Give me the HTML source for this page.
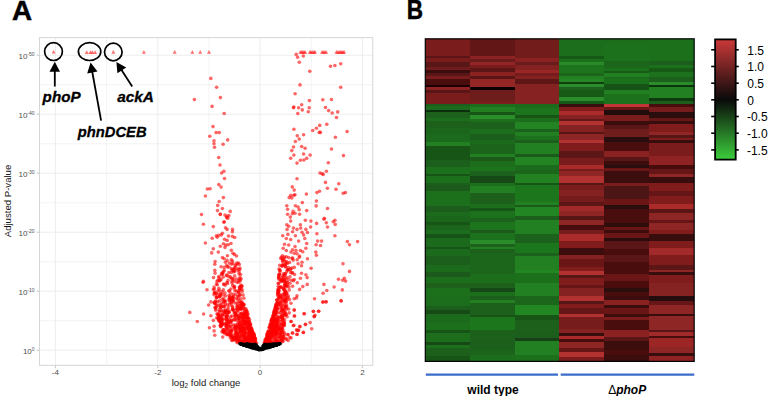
<!DOCTYPE html><html><head><meta charset="utf-8"><style>html,body{margin:0;padding:0;background:#fff;}body{width:768px;height:396px;overflow:hidden;position:relative;font-family:"Liberation Sans",sans-serif;}</style></head><body><svg width="768" height="396" viewBox="0 0 768 396" style="position:absolute;left:0;top:0">
<defs><linearGradient id="lg" x1="0" y1="0" x2="0" y2="1"><stop offset="0" stop-color="#cc3838"/><stop offset="0.5" stop-color="#0a0a0a"/><stop offset="1" stop-color="#3ccf3c"/></linearGradient><filter id="hb" x="-0.05" y="-0.05" width="1.1" height="1.1"><feGaussianBlur stdDeviation="0.45"/></filter><clipPath id="hc"><rect x="425.3" y="39" width="268.9" height="322.6"/></clipPath><clipPath id="pc"><rect x="39.5" y="37.5" width="333.3" height="327.5"/></clipPath></defs>
<line x1="106.6" y1="37.5" x2="106.6" y2="364.5" stroke="#ededed" stroke-width="0.6"/>
<line x1="208.9" y1="37.5" x2="208.9" y2="364.5" stroke="#ededed" stroke-width="0.6"/>
<line x1="311.3" y1="37.5" x2="311.3" y2="364.5" stroke="#ededed" stroke-width="0.6"/>
<line x1="39.5" y1="320.7" x2="372.8" y2="320.7" stroke="#ededed" stroke-width="0.6"/>
<line x1="39.5" y1="261.7" x2="372.8" y2="261.7" stroke="#ededed" stroke-width="0.6"/>
<line x1="39.5" y1="202.7" x2="372.8" y2="202.7" stroke="#ededed" stroke-width="0.6"/>
<line x1="39.5" y1="143.7" x2="372.8" y2="143.7" stroke="#ededed" stroke-width="0.6"/>
<line x1="39.5" y1="84.7" x2="372.8" y2="84.7" stroke="#ededed" stroke-width="0.6"/>
<line x1="55.4" y1="37.5" x2="55.4" y2="364.5" stroke="#ededed" stroke-width="1"/>
<line x1="157.8" y1="37.5" x2="157.8" y2="364.5" stroke="#ededed" stroke-width="1"/>
<line x1="260.1" y1="37.5" x2="260.1" y2="364.5" stroke="#ededed" stroke-width="1"/>
<line x1="362.4" y1="37.5" x2="362.4" y2="364.5" stroke="#ededed" stroke-width="1"/>
<line x1="39.5" y1="350.2" x2="372.8" y2="350.2" stroke="#ededed" stroke-width="1"/>
<line x1="39.5" y1="291.2" x2="372.8" y2="291.2" stroke="#ededed" stroke-width="1"/>
<line x1="39.5" y1="232.2" x2="372.8" y2="232.2" stroke="#ededed" stroke-width="1"/>
<line x1="39.5" y1="173.2" x2="372.8" y2="173.2" stroke="#ededed" stroke-width="1"/>
<line x1="39.5" y1="114.2" x2="372.8" y2="114.2" stroke="#ededed" stroke-width="1"/>
<line x1="39.5" y1="55.2" x2="372.8" y2="55.2" stroke="#ededed" stroke-width="1"/>
<rect x="39.5" y="37.6" width="333.3" height="327.7" fill="none" stroke="#d6d6d6" stroke-width="1"/>
<line x1="55.4" y1="365.3" x2="55.4" y2="368.2" stroke="#c8c8c8" stroke-width="1"/>
<line x1="157.8" y1="365.3" x2="157.8" y2="368.2" stroke="#c8c8c8" stroke-width="1"/>
<line x1="260.1" y1="365.3" x2="260.1" y2="368.2" stroke="#c8c8c8" stroke-width="1"/>
<line x1="362.4" y1="365.3" x2="362.4" y2="368.2" stroke="#c8c8c8" stroke-width="1"/>
<line x1="36.5" y1="350.2" x2="39.5" y2="350.2" stroke="#c8c8c8" stroke-width="1"/>
<line x1="36.5" y1="291.2" x2="39.5" y2="291.2" stroke="#c8c8c8" stroke-width="1"/>
<line x1="36.5" y1="232.2" x2="39.5" y2="232.2" stroke="#c8c8c8" stroke-width="1"/>
<line x1="36.5" y1="173.2" x2="39.5" y2="173.2" stroke="#c8c8c8" stroke-width="1"/>
<line x1="36.5" y1="114.2" x2="39.5" y2="114.2" stroke="#c8c8c8" stroke-width="1"/>
<line x1="36.5" y1="55.2" x2="39.5" y2="55.2" stroke="#c8c8c8" stroke-width="1"/>
<text x="55.4" y="374.6" font-size="8" fill="#4d4d4d" text-anchor="middle" style="font-family:&quot;Liberation Sans&quot;,sans-serif">-4</text>
<text x="157.8" y="374.6" font-size="8" fill="#4d4d4d" text-anchor="middle" style="font-family:&quot;Liberation Sans&quot;,sans-serif">-2</text>
<text x="260.1" y="374.6" font-size="8" fill="#4d4d4d" text-anchor="middle" style="font-family:&quot;Liberation Sans&quot;,sans-serif">0</text>
<text x="362.4" y="374.6" font-size="8" fill="#4d4d4d" text-anchor="middle" style="font-family:&quot;Liberation Sans&quot;,sans-serif">2</text>
<text x="34.6" y="354.0" font-size="8" fill="#4d4d4d" text-anchor="end" style="font-family:&quot;Liberation Sans&quot;,sans-serif">10<tspan font-size="5" dy="-3.3">0</tspan></text>
<text x="34.6" y="295.0" font-size="8" fill="#4d4d4d" text-anchor="end" style="font-family:&quot;Liberation Sans&quot;,sans-serif">10<tspan font-size="5" dy="-3.3">-10</tspan></text>
<text x="34.6" y="236.0" font-size="8" fill="#4d4d4d" text-anchor="end" style="font-family:&quot;Liberation Sans&quot;,sans-serif">10<tspan font-size="5" dy="-3.3">-20</tspan></text>
<text x="34.6" y="177.0" font-size="8" fill="#4d4d4d" text-anchor="end" style="font-family:&quot;Liberation Sans&quot;,sans-serif">10<tspan font-size="5" dy="-3.3">-30</tspan></text>
<text x="34.6" y="118.0" font-size="8" fill="#4d4d4d" text-anchor="end" style="font-family:&quot;Liberation Sans&quot;,sans-serif">10<tspan font-size="5" dy="-3.3">-40</tspan></text>
<text x="34.6" y="59.0" font-size="8" fill="#4d4d4d" text-anchor="end" style="font-family:&quot;Liberation Sans&quot;,sans-serif">10<tspan font-size="5" dy="-3.3">-50</tspan></text>
<text transform="translate(10.8,201) rotate(-90)" font-size="9.6" fill="#1a1a1a" text-anchor="middle" style="font-family:&quot;Liberation Sans&quot;,sans-serif">Adjusted P-value</text>
<text x="171.7" y="385.8" font-size="9.6" fill="#1a1a1a" style="font-family:&quot;Liberation Sans&quot;,sans-serif">log<tspan font-size="6.5" dy="2.2">2</tspan><tspan dy="-2.2"> fold change</tspan></text>
<g clip-path="url(#pc)">
<circle cx="296.2" cy="54.4" r="1.8" fill="#ff0000" fill-opacity="0.6"/>
<circle cx="297.6" cy="57.2" r="1.8" fill="#ff0000" fill-opacity="0.6"/>
<circle cx="303.3" cy="56.0" r="1.8" fill="#ff0000" fill-opacity="0.6"/>
<circle cx="299.3" cy="62.2" r="1.8" fill="#ff0000" fill-opacity="0.6"/>
<circle cx="330.5" cy="66.3" r="1.8" fill="#ff0000" fill-opacity="0.6"/>
<circle cx="334.9" cy="65.5" r="1.8" fill="#ff0000" fill-opacity="0.6"/>
<circle cx="340.7" cy="63.8" r="1.8" fill="#ff0000" fill-opacity="0.6"/>
<circle cx="309.8" cy="71.3" r="1.8" fill="#ff0000" fill-opacity="0.6"/>
<circle cx="300.0" cy="84.9" r="1.8" fill="#ff0000" fill-opacity="0.6"/>
<circle cx="340.7" cy="87.3" r="1.8" fill="#ff0000" fill-opacity="0.6"/>
<circle cx="295.1" cy="93.7" r="1.8" fill="#ff0000" fill-opacity="0.6"/>
<circle cx="309.4" cy="100.6" r="1.8" fill="#ff0000" fill-opacity="0.6"/>
<circle cx="322.8" cy="99.8" r="1.8" fill="#ff0000" fill-opacity="0.6"/>
<circle cx="331.5" cy="99.5" r="1.8" fill="#ff0000" fill-opacity="0.6"/>
<circle cx="293.9" cy="107.0" r="1.8" fill="#ff0000" fill-opacity="0.6"/>
<circle cx="293.4" cy="107.8" r="1.8" fill="#ff0000" fill-opacity="0.6"/>
<circle cx="298.6" cy="107.8" r="1.8" fill="#ff0000" fill-opacity="0.6"/>
<circle cx="301.7" cy="104.7" r="1.8" fill="#ff0000" fill-opacity="0.6"/>
<circle cx="302.3" cy="109.9" r="1.8" fill="#ff0000" fill-opacity="0.6"/>
<circle cx="309.2" cy="107.8" r="1.8" fill="#ff0000" fill-opacity="0.6"/>
<circle cx="308.3" cy="111.7" r="1.8" fill="#ff0000" fill-opacity="0.6"/>
<circle cx="297.8" cy="113.6" r="1.8" fill="#ff0000" fill-opacity="0.6"/>
<circle cx="325.5" cy="107.5" r="1.8" fill="#ff0000" fill-opacity="0.6"/>
<circle cx="328.6" cy="110.6" r="1.8" fill="#ff0000" fill-opacity="0.6"/>
<circle cx="332.2" cy="113.0" r="1.8" fill="#ff0000" fill-opacity="0.6"/>
<circle cx="337.7" cy="111.9" r="1.8" fill="#ff0000" fill-opacity="0.6"/>
<circle cx="336.5" cy="117.5" r="1.8" fill="#ff0000" fill-opacity="0.6"/>
<circle cx="326.8" cy="124.3" r="1.8" fill="#ff0000" fill-opacity="0.6"/>
<circle cx="319.7" cy="125.4" r="1.8" fill="#ff0000" fill-opacity="0.6"/>
<circle cx="316.4" cy="128.2" r="1.8" fill="#ff0000" fill-opacity="0.6"/>
<circle cx="312.7" cy="130.5" r="1.8" fill="#ff0000" fill-opacity="0.6"/>
<circle cx="319.2" cy="132.4" r="1.8" fill="#ff0000" fill-opacity="0.6"/>
<circle cx="320.5" cy="132.4" r="1.8" fill="#ff0000" fill-opacity="0.6"/>
<circle cx="293.9" cy="129.3" r="1.8" fill="#ff0000" fill-opacity="0.6"/>
<circle cx="347.1" cy="131.6" r="1.8" fill="#ff0000" fill-opacity="0.6"/>
<circle cx="303.6" cy="134.8" r="1.8" fill="#ff0000" fill-opacity="0.6"/>
<circle cx="297.3" cy="135.7" r="1.8" fill="#ff0000" fill-opacity="0.6"/>
<circle cx="299.2" cy="139.1" r="1.8" fill="#ff0000" fill-opacity="0.6"/>
<circle cx="295.4" cy="141.5" r="1.8" fill="#ff0000" fill-opacity="0.6"/>
<circle cx="335.4" cy="137.3" r="1.8" fill="#ff0000" fill-opacity="0.6"/>
<circle cx="293.5" cy="147.0" r="1.8" fill="#ff0000" fill-opacity="0.6"/>
<circle cx="301.7" cy="146.5" r="1.8" fill="#ff0000" fill-opacity="0.6"/>
<circle cx="305.1" cy="148.2" r="1.8" fill="#ff0000" fill-opacity="0.6"/>
<circle cx="291.8" cy="150.6" r="1.8" fill="#ff0000" fill-opacity="0.6"/>
<circle cx="331.5" cy="149.0" r="1.8" fill="#ff0000" fill-opacity="0.6"/>
<circle cx="293.9" cy="155.1" r="1.8" fill="#ff0000" fill-opacity="0.6"/>
<circle cx="303.6" cy="154.0" r="1.8" fill="#ff0000" fill-opacity="0.6"/>
<circle cx="310.1" cy="155.1" r="1.8" fill="#ff0000" fill-opacity="0.6"/>
<circle cx="343.5" cy="155.6" r="1.8" fill="#ff0000" fill-opacity="0.6"/>
<circle cx="290.7" cy="158.2" r="1.8" fill="#ff0000" fill-opacity="0.6"/>
<circle cx="306.7" cy="158.2" r="1.8" fill="#ff0000" fill-opacity="0.6"/>
<circle cx="300.4" cy="160.3" r="1.8" fill="#ff0000" fill-opacity="0.6"/>
<circle cx="303.9" cy="160.0" r="1.8" fill="#ff0000" fill-opacity="0.6"/>
<circle cx="297.0" cy="163.1" r="1.8" fill="#ff0000" fill-opacity="0.6"/>
<circle cx="328.3" cy="162.8" r="1.8" fill="#ff0000" fill-opacity="0.6"/>
<circle cx="320.0" cy="173.0" r="1.8" fill="#ff0000" fill-opacity="0.6"/>
<circle cx="322.1" cy="173.8" r="1.8" fill="#ff0000" fill-opacity="0.6"/>
<circle cx="323.2" cy="174.4" r="1.8" fill="#ff0000" fill-opacity="0.6"/>
<circle cx="326.4" cy="171.3" r="1.8" fill="#ff0000" fill-opacity="0.6"/>
<circle cx="297.0" cy="178.8" r="1.8" fill="#ff0000" fill-opacity="0.6"/>
<circle cx="325.5" cy="182.4" r="1.8" fill="#ff0000" fill-opacity="0.6"/>
<circle cx="338.8" cy="183.8" r="1.8" fill="#ff0000" fill-opacity="0.6"/>
<circle cx="292.3" cy="186.9" r="1.8" fill="#ff0000" fill-opacity="0.6"/>
<circle cx="294.2" cy="190.1" r="1.8" fill="#ff0000" fill-opacity="0.6"/>
<circle cx="327.4" cy="188.2" r="1.8" fill="#ff0000" fill-opacity="0.6"/>
<circle cx="336.0" cy="189.3" r="1.8" fill="#ff0000" fill-opacity="0.6"/>
<circle cx="316.9" cy="192.6" r="1.8" fill="#ff0000" fill-opacity="0.6"/>
<circle cx="319.5" cy="191.3" r="1.8" fill="#ff0000" fill-opacity="0.6"/>
<circle cx="343.2" cy="193.3" r="1.8" fill="#ff0000" fill-opacity="0.6"/>
<circle cx="345.4" cy="192.6" r="1.8" fill="#ff0000" fill-opacity="0.6"/>
<circle cx="306.4" cy="194.1" r="1.8" fill="#ff0000" fill-opacity="0.6"/>
<circle cx="290.7" cy="195.2" r="1.8" fill="#ff0000" fill-opacity="0.6"/>
<circle cx="293.9" cy="195.2" r="1.8" fill="#ff0000" fill-opacity="0.6"/>
<circle cx="289.2" cy="197.6" r="1.8" fill="#ff0000" fill-opacity="0.6"/>
<circle cx="291.8" cy="197.9" r="1.8" fill="#ff0000" fill-opacity="0.6"/>
<circle cx="295.0" cy="194.8" r="1.8" fill="#ff0000" fill-opacity="0.6"/>
<circle cx="302.3" cy="202.6" r="1.8" fill="#ff0000" fill-opacity="0.6"/>
<circle cx="316.4" cy="201.0" r="1.8" fill="#ff0000" fill-opacity="0.6"/>
<circle cx="316.1" cy="205.9" r="1.8" fill="#ff0000" fill-opacity="0.6"/>
<circle cx="286.8" cy="205.7" r="1.8" fill="#ff0000" fill-opacity="0.6"/>
<circle cx="295.4" cy="205.7" r="1.8" fill="#ff0000" fill-opacity="0.6"/>
<circle cx="298.1" cy="207.0" r="1.8" fill="#ff0000" fill-opacity="0.6"/>
<circle cx="287.6" cy="209.3" r="1.8" fill="#ff0000" fill-opacity="0.6"/>
<circle cx="299.2" cy="209.8" r="1.8" fill="#ff0000" fill-opacity="0.6"/>
<circle cx="306.7" cy="210.6" r="1.8" fill="#ff0000" fill-opacity="0.6"/>
<circle cx="327.5" cy="208.5" r="1.8" fill="#ff0000" fill-opacity="0.6"/>
<circle cx="293.1" cy="211.4" r="1.8" fill="#ff0000" fill-opacity="0.6"/>
<circle cx="295.0" cy="213.2" r="1.8" fill="#ff0000" fill-opacity="0.6"/>
<circle cx="292.3" cy="213.7" r="1.8" fill="#ff0000" fill-opacity="0.6"/>
<circle cx="287.6" cy="214.3" r="1.8" fill="#ff0000" fill-opacity="0.6"/>
<circle cx="299.6" cy="214.3" r="1.8" fill="#ff0000" fill-opacity="0.6"/>
<circle cx="290.3" cy="217.1" r="1.8" fill="#ff0000" fill-opacity="0.6"/>
<circle cx="290.7" cy="221.1" r="1.8" fill="#ff0000" fill-opacity="0.6"/>
<circle cx="305.4" cy="220.3" r="1.8" fill="#ff0000" fill-opacity="0.6"/>
<circle cx="310.9" cy="221.1" r="1.8" fill="#ff0000" fill-opacity="0.6"/>
<circle cx="324.4" cy="218.2" r="1.8" fill="#ff0000" fill-opacity="0.6"/>
<circle cx="323.9" cy="219.2" r="1.8" fill="#ff0000" fill-opacity="0.6"/>
<circle cx="334.9" cy="220.3" r="1.8" fill="#ff0000" fill-opacity="0.6"/>
<circle cx="333.3" cy="221.8" r="1.8" fill="#ff0000" fill-opacity="0.6"/>
<circle cx="316.6" cy="223.4" r="1.8" fill="#ff0000" fill-opacity="0.6"/>
<circle cx="326.3" cy="222.8" r="1.8" fill="#ff0000" fill-opacity="0.6"/>
<circle cx="327.5" cy="227.0" r="1.8" fill="#ff0000" fill-opacity="0.6"/>
<circle cx="335.2" cy="224.4" r="1.8" fill="#ff0000" fill-opacity="0.6"/>
<circle cx="286.8" cy="224.7" r="1.8" fill="#ff0000" fill-opacity="0.6"/>
<circle cx="288.7" cy="226.3" r="1.8" fill="#ff0000" fill-opacity="0.6"/>
<circle cx="287.1" cy="229.4" r="1.8" fill="#ff0000" fill-opacity="0.6"/>
<circle cx="300.4" cy="224.7" r="1.8" fill="#ff0000" fill-opacity="0.6"/>
<circle cx="293.4" cy="228.1" r="1.8" fill="#ff0000" fill-opacity="0.6"/>
<circle cx="297.0" cy="229.4" r="1.8" fill="#ff0000" fill-opacity="0.6"/>
<circle cx="300.7" cy="228.1" r="1.8" fill="#ff0000" fill-opacity="0.6"/>
<circle cx="305.9" cy="229.4" r="1.8" fill="#ff0000" fill-opacity="0.6"/>
<circle cx="310.6" cy="227.0" r="1.8" fill="#ff0000" fill-opacity="0.6"/>
<circle cx="292.6" cy="231.7" r="1.8" fill="#ff0000" fill-opacity="0.6"/>
<circle cx="302.0" cy="232.2" r="1.8" fill="#ff0000" fill-opacity="0.6"/>
<circle cx="307.5" cy="232.5" r="1.8" fill="#ff0000" fill-opacity="0.6"/>
<circle cx="303.6" cy="234.9" r="1.8" fill="#ff0000" fill-opacity="0.6"/>
<circle cx="282.7" cy="235.7" r="1.8" fill="#ff0000" fill-opacity="0.6"/>
<circle cx="287.9" cy="234.4" r="1.8" fill="#ff0000" fill-opacity="0.6"/>
<circle cx="295.4" cy="235.7" r="1.8" fill="#ff0000" fill-opacity="0.6"/>
<circle cx="316.9" cy="233.8" r="1.8" fill="#ff0000" fill-opacity="0.6"/>
<circle cx="334.9" cy="235.7" r="1.8" fill="#ff0000" fill-opacity="0.6"/>
<circle cx="286.3" cy="238.5" r="1.8" fill="#ff0000" fill-opacity="0.6"/>
<circle cx="290.7" cy="239.6" r="1.8" fill="#ff0000" fill-opacity="0.6"/>
<circle cx="304.8" cy="238.5" r="1.8" fill="#ff0000" fill-opacity="0.6"/>
<circle cx="298.6" cy="241.1" r="1.8" fill="#ff0000" fill-opacity="0.6"/>
<circle cx="317.7" cy="241.1" r="1.8" fill="#ff0000" fill-opacity="0.6"/>
<circle cx="321.6" cy="241.1" r="1.8" fill="#ff0000" fill-opacity="0.6"/>
<circle cx="347.4" cy="241.6" r="1.8" fill="#ff0000" fill-opacity="0.6"/>
<circle cx="357.6" cy="241.6" r="1.8" fill="#ff0000" fill-opacity="0.6"/>
<circle cx="349.5" cy="244.7" r="1.8" fill="#ff0000" fill-opacity="0.6"/>
<circle cx="316.1" cy="244.7" r="1.8" fill="#ff0000" fill-opacity="0.6"/>
<circle cx="320.5" cy="245.5" r="1.8" fill="#ff0000" fill-opacity="0.6"/>
<circle cx="284.5" cy="244.3" r="1.8" fill="#ff0000" fill-opacity="0.6"/>
<circle cx="288.7" cy="245.0" r="1.8" fill="#ff0000" fill-opacity="0.6"/>
<circle cx="306.7" cy="243.5" r="1.8" fill="#ff0000" fill-opacity="0.6"/>
<circle cx="295.0" cy="246.6" r="1.8" fill="#ff0000" fill-opacity="0.6"/>
<circle cx="305.9" cy="248.2" r="1.8" fill="#ff0000" fill-opacity="0.6"/>
<circle cx="283.2" cy="248.2" r="1.8" fill="#ff0000" fill-opacity="0.6"/>
<circle cx="286.3" cy="250.5" r="1.8" fill="#ff0000" fill-opacity="0.6"/>
<circle cx="292.6" cy="249.7" r="1.8" fill="#ff0000" fill-opacity="0.6"/>
<circle cx="296.0" cy="250.5" r="1.8" fill="#ff0000" fill-opacity="0.6"/>
<circle cx="300.4" cy="250.5" r="1.8" fill="#ff0000" fill-opacity="0.6"/>
<circle cx="302.8" cy="251.8" r="1.8" fill="#ff0000" fill-opacity="0.6"/>
<circle cx="291.0" cy="252.1" r="1.8" fill="#ff0000" fill-opacity="0.6"/>
<circle cx="294.2" cy="253.2" r="1.8" fill="#ff0000" fill-opacity="0.6"/>
<circle cx="297.0" cy="253.7" r="1.8" fill="#ff0000" fill-opacity="0.6"/>
<circle cx="315.8" cy="252.1" r="1.8" fill="#ff0000" fill-opacity="0.6"/>
<circle cx="316.4" cy="255.2" r="1.8" fill="#ff0000" fill-opacity="0.6"/>
<circle cx="282.4" cy="255.7" r="1.8" fill="#ff0000" fill-opacity="0.6"/>
<circle cx="286.3" cy="256.8" r="1.8" fill="#ff0000" fill-opacity="0.6"/>
<circle cx="288.7" cy="257.6" r="1.8" fill="#ff0000" fill-opacity="0.6"/>
<circle cx="280.9" cy="258.4" r="1.8" fill="#ff0000" fill-opacity="0.6"/>
<circle cx="292.6" cy="258.0" r="1.8" fill="#ff0000" fill-opacity="0.6"/>
<circle cx="299.3" cy="257.3" r="1.8" fill="#ff0000" fill-opacity="0.6"/>
<circle cx="307.5" cy="258.8" r="1.8" fill="#ff0000" fill-opacity="0.6"/>
<circle cx="284.8" cy="261.0" r="1.8" fill="#ff0000" fill-opacity="0.6"/>
<circle cx="286.0" cy="263.1" r="1.8" fill="#ff0000" fill-opacity="0.6"/>
<circle cx="298.1" cy="263.8" r="1.8" fill="#ff0000" fill-opacity="0.6"/>
<circle cx="302.0" cy="262.3" r="1.8" fill="#ff0000" fill-opacity="0.6"/>
<circle cx="301.5" cy="265.7" r="1.8" fill="#ff0000" fill-opacity="0.6"/>
<circle cx="343.0" cy="263.8" r="1.8" fill="#ff0000" fill-opacity="0.6"/>
<circle cx="282.4" cy="265.7" r="1.8" fill="#ff0000" fill-opacity="0.6"/>
<circle cx="285.5" cy="267.0" r="1.8" fill="#ff0000" fill-opacity="0.6"/>
<circle cx="311.1" cy="268.2" r="1.8" fill="#ff0000" fill-opacity="0.6"/>
<circle cx="287.9" cy="269.3" r="1.8" fill="#ff0000" fill-opacity="0.6"/>
<circle cx="349.5" cy="271.4" r="1.8" fill="#ff0000" fill-opacity="0.6"/>
<circle cx="292.6" cy="272.9" r="1.8" fill="#ff0000" fill-opacity="0.6"/>
<circle cx="294.6" cy="274.5" r="1.8" fill="#ff0000" fill-opacity="0.6"/>
<circle cx="301.5" cy="273.2" r="1.8" fill="#ff0000" fill-opacity="0.6"/>
<circle cx="305.9" cy="274.8" r="1.8" fill="#ff0000" fill-opacity="0.6"/>
<circle cx="300.4" cy="278.2" r="1.8" fill="#ff0000" fill-opacity="0.6"/>
<circle cx="307.2" cy="277.6" r="1.8" fill="#ff0000" fill-opacity="0.6"/>
<circle cx="288.7" cy="279.5" r="1.8" fill="#ff0000" fill-opacity="0.6"/>
<circle cx="291.8" cy="280.3" r="1.8" fill="#ff0000" fill-opacity="0.6"/>
<circle cx="294.2" cy="279.5" r="1.8" fill="#ff0000" fill-opacity="0.6"/>
<circle cx="338.5" cy="279.2" r="1.8" fill="#ff0000" fill-opacity="0.6"/>
<circle cx="344.3" cy="278.2" r="1.8" fill="#ff0000" fill-opacity="0.6"/>
<circle cx="342.7" cy="280.3" r="1.8" fill="#ff0000" fill-opacity="0.6"/>
<circle cx="345.6" cy="281.1" r="1.8" fill="#ff0000" fill-opacity="0.6"/>
<circle cx="297.3" cy="282.8" r="1.8" fill="#ff0000" fill-opacity="0.6"/>
<circle cx="302.8" cy="286.6" r="1.8" fill="#ff0000" fill-opacity="0.6"/>
<circle cx="307.2" cy="284.4" r="1.8" fill="#ff0000" fill-opacity="0.6"/>
<circle cx="299.6" cy="289.4" r="1.8" fill="#ff0000" fill-opacity="0.6"/>
<circle cx="292.6" cy="286.3" r="1.8" fill="#ff0000" fill-opacity="0.6"/>
<circle cx="293.4" cy="280.8" r="1.8" fill="#ff0000" fill-opacity="0.6"/>
<circle cx="323.9" cy="284.4" r="1.8" fill="#ff0000" fill-opacity="0.6"/>
<circle cx="334.1" cy="287.0" r="1.8" fill="#ff0000" fill-opacity="0.6"/>
<circle cx="326.8" cy="290.5" r="1.8" fill="#ff0000" fill-opacity="0.6"/>
<circle cx="323.1" cy="293.3" r="1.8" fill="#ff0000" fill-opacity="0.6"/>
<circle cx="342.3" cy="289.9" r="1.8" fill="#ff0000" fill-opacity="0.6"/>
<circle cx="297.0" cy="295.7" r="1.8" fill="#ff0000" fill-opacity="0.6"/>
<circle cx="296.5" cy="298.0" r="1.8" fill="#ff0000" fill-opacity="0.6"/>
<circle cx="294.2" cy="298.8" r="1.8" fill="#ff0000" fill-opacity="0.6"/>
<circle cx="314.5" cy="298.8" r="1.8" fill="#ff0000" fill-opacity="0.6"/>
<circle cx="322.8" cy="302.2" r="1.8" fill="#ff0000" fill-opacity="0.6"/>
<circle cx="326.0" cy="301.9" r="1.8" fill="#ff0000" fill-opacity="0.6"/>
<circle cx="340.9" cy="300.8" r="1.8" fill="#ff0000" fill-opacity="0.6"/>
<circle cx="289.5" cy="299.6" r="1.8" fill="#ff0000" fill-opacity="0.6"/>
<circle cx="291.0" cy="303.2" r="1.8" fill="#ff0000" fill-opacity="0.6"/>
<circle cx="288.7" cy="309.0" r="1.8" fill="#ff0000" fill-opacity="0.6"/>
<circle cx="294.2" cy="310.1" r="1.8" fill="#ff0000" fill-opacity="0.6"/>
<circle cx="289.2" cy="312.9" r="1.8" fill="#ff0000" fill-opacity="0.6"/>
<circle cx="294.6" cy="316.0" r="1.8" fill="#ff0000" fill-opacity="0.6"/>
<circle cx="304.4" cy="313.7" r="1.8" fill="#ff0000" fill-opacity="0.6"/>
<circle cx="313.4" cy="311.6" r="1.8" fill="#ff0000" fill-opacity="0.6"/>
<circle cx="318.8" cy="311.3" r="1.8" fill="#ff0000" fill-opacity="0.6"/>
<circle cx="315.0" cy="315.2" r="1.8" fill="#ff0000" fill-opacity="0.6"/>
<circle cx="314.1" cy="316.8" r="1.8" fill="#ff0000" fill-opacity="0.6"/>
<circle cx="287.1" cy="316.8" r="1.8" fill="#ff0000" fill-opacity="0.6"/>
<circle cx="291.0" cy="321.5" r="1.8" fill="#ff0000" fill-opacity="0.6"/>
<circle cx="310.1" cy="322.6" r="1.8" fill="#ff0000" fill-opacity="0.6"/>
<circle cx="305.4" cy="324.6" r="1.8" fill="#ff0000" fill-opacity="0.6"/>
<circle cx="293.9" cy="325.4" r="1.8" fill="#ff0000" fill-opacity="0.6"/>
<circle cx="300.0" cy="326.7" r="1.8" fill="#ff0000" fill-opacity="0.6"/>
<circle cx="311.7" cy="328.8" r="1.8" fill="#ff0000" fill-opacity="0.6"/>
<circle cx="297.0" cy="330.4" r="1.8" fill="#ff0000" fill-opacity="0.6"/>
<circle cx="298.6" cy="330.1" r="1.8" fill="#ff0000" fill-opacity="0.6"/>
<circle cx="292.6" cy="333.2" r="1.8" fill="#ff0000" fill-opacity="0.6"/>
<circle cx="303.3" cy="332.5" r="1.8" fill="#ff0000" fill-opacity="0.6"/>
<circle cx="297.0" cy="334.5" r="1.8" fill="#ff0000" fill-opacity="0.6"/>
<circle cx="287.9" cy="334.5" r="1.8" fill="#ff0000" fill-opacity="0.6"/>
<circle cx="291.0" cy="337.9" r="1.8" fill="#ff0000" fill-opacity="0.6"/>
<circle cx="286.3" cy="339.5" r="1.8" fill="#ff0000" fill-opacity="0.6"/>
<circle cx="294.2" cy="310.0" r="1.8" fill="#ff0000" fill-opacity="0.6"/>
<circle cx="303.9" cy="313.7" r="1.8" fill="#ff0000" fill-opacity="0.6"/>
<circle cx="294.2" cy="316.0" r="1.8" fill="#ff0000" fill-opacity="0.6"/>
<circle cx="313.4" cy="311.3" r="1.8" fill="#ff0000" fill-opacity="0.6"/>
<circle cx="318.5" cy="311.3" r="1.8" fill="#ff0000" fill-opacity="0.6"/>
<circle cx="314.3" cy="316.4" r="1.8" fill="#ff0000" fill-opacity="0.6"/>
<circle cx="291.1" cy="321.5" r="1.8" fill="#ff0000" fill-opacity="0.6"/>
<circle cx="305.5" cy="324.2" r="1.8" fill="#ff0000" fill-opacity="0.6"/>
<circle cx="293.3" cy="325.5" r="1.8" fill="#ff0000" fill-opacity="0.6"/>
<circle cx="299.7" cy="326.4" r="1.8" fill="#ff0000" fill-opacity="0.6"/>
<circle cx="296.4" cy="329.7" r="1.8" fill="#ff0000" fill-opacity="0.6"/>
<circle cx="298.4" cy="330.6" r="1.8" fill="#ff0000" fill-opacity="0.6"/>
<circle cx="303.4" cy="332.4" r="1.8" fill="#ff0000" fill-opacity="0.6"/>
<circle cx="297.0" cy="334.3" r="1.8" fill="#ff0000" fill-opacity="0.6"/>
<circle cx="292.4" cy="332.8" r="1.8" fill="#ff0000" fill-opacity="0.6"/>
<circle cx="287.9" cy="334.6" r="1.8" fill="#ff0000" fill-opacity="0.6"/>
<circle cx="289.7" cy="337.4" r="1.8" fill="#ff0000" fill-opacity="0.6"/>
<circle cx="286.0" cy="338.3" r="1.8" fill="#ff0000" fill-opacity="0.6"/>
<circle cx="288.2" cy="340.5" r="1.8" fill="#ff0000" fill-opacity="0.6"/>
<circle cx="323.0" cy="301.8" r="1.8" fill="#ff0000" fill-opacity="0.6"/>
<circle cx="326.1" cy="301.8" r="1.8" fill="#ff0000" fill-opacity="0.6"/>
<circle cx="341.3" cy="300.9" r="1.8" fill="#ff0000" fill-opacity="0.6"/>
<circle cx="210.8" cy="78.4" r="1.8" fill="#ff0000" fill-opacity="0.6"/>
<circle cx="216.6" cy="87.2" r="1.8" fill="#ff0000" fill-opacity="0.6"/>
<circle cx="194.4" cy="99.6" r="1.8" fill="#ff0000" fill-opacity="0.6"/>
<circle cx="220.4" cy="97.6" r="1.8" fill="#ff0000" fill-opacity="0.6"/>
<circle cx="212.1" cy="106.4" r="1.8" fill="#ff0000" fill-opacity="0.6"/>
<circle cx="224.2" cy="113.5" r="1.8" fill="#ff0000" fill-opacity="0.6"/>
<circle cx="213.0" cy="126.6" r="1.8" fill="#ff0000" fill-opacity="0.6"/>
<circle cx="216.1" cy="132.6" r="1.8" fill="#ff0000" fill-opacity="0.6"/>
<circle cx="219.2" cy="132.6" r="1.8" fill="#ff0000" fill-opacity="0.6"/>
<circle cx="209.8" cy="136.3" r="1.8" fill="#ff0000" fill-opacity="0.6"/>
<circle cx="227.7" cy="139.9" r="1.8" fill="#ff0000" fill-opacity="0.6"/>
<circle cx="214.0" cy="140.7" r="1.8" fill="#ff0000" fill-opacity="0.6"/>
<circle cx="214.0" cy="143.8" r="1.8" fill="#ff0000" fill-opacity="0.6"/>
<circle cx="223.1" cy="144.3" r="1.8" fill="#ff0000" fill-opacity="0.6"/>
<circle cx="214.5" cy="147.3" r="1.8" fill="#ff0000" fill-opacity="0.6"/>
<circle cx="218.7" cy="157.5" r="1.8" fill="#ff0000" fill-opacity="0.6"/>
<circle cx="220.0" cy="165.0" r="1.8" fill="#ff0000" fill-opacity="0.6"/>
<circle cx="221.6" cy="173.0" r="1.8" fill="#ff0000" fill-opacity="0.6"/>
<circle cx="223.9" cy="171.3" r="1.8" fill="#ff0000" fill-opacity="0.6"/>
<circle cx="224.5" cy="178.5" r="1.8" fill="#ff0000" fill-opacity="0.6"/>
<circle cx="218.8" cy="184.6" r="1.8" fill="#ff0000" fill-opacity="0.6"/>
<circle cx="221.1" cy="187.1" r="1.8" fill="#ff0000" fill-opacity="0.6"/>
<circle cx="207.3" cy="189.0" r="1.8" fill="#ff0000" fill-opacity="0.6"/>
<circle cx="210.1" cy="188.7" r="1.8" fill="#ff0000" fill-opacity="0.6"/>
<circle cx="205.4" cy="196.0" r="1.8" fill="#ff0000" fill-opacity="0.6"/>
<circle cx="223.4" cy="197.6" r="1.8" fill="#ff0000" fill-opacity="0.6"/>
<circle cx="219.2" cy="201.5" r="1.8" fill="#ff0000" fill-opacity="0.6"/>
<circle cx="217.7" cy="205.4" r="1.8" fill="#ff0000" fill-opacity="0.6"/>
<circle cx="222.4" cy="208.5" r="1.8" fill="#ff0000" fill-opacity="0.6"/>
<circle cx="217.5" cy="210.6" r="1.8" fill="#ff0000" fill-opacity="0.6"/>
<circle cx="230.2" cy="211.4" r="1.8" fill="#ff0000" fill-opacity="0.6"/>
<circle cx="201.5" cy="214.5" r="1.8" fill="#ff0000" fill-opacity="0.6"/>
<circle cx="220.3" cy="214.0" r="1.8" fill="#ff0000" fill-opacity="0.6"/>
<circle cx="220.3" cy="214.5" r="1.8" fill="#ff0000" fill-opacity="0.6"/>
<circle cx="225.0" cy="215.1" r="1.8" fill="#ff0000" fill-opacity="0.6"/>
<circle cx="227.1" cy="216.4" r="1.8" fill="#ff0000" fill-opacity="0.6"/>
<circle cx="228.9" cy="215.6" r="1.8" fill="#ff0000" fill-opacity="0.6"/>
<circle cx="227.8" cy="218.2" r="1.8" fill="#ff0000" fill-opacity="0.6"/>
<circle cx="226.6" cy="217.6" r="1.8" fill="#ff0000" fill-opacity="0.6"/>
<circle cx="224.2" cy="221.8" r="1.8" fill="#ff0000" fill-opacity="0.6"/>
<circle cx="203.4" cy="224.2" r="1.8" fill="#ff0000" fill-opacity="0.6"/>
<circle cx="213.3" cy="226.6" r="1.8" fill="#ff0000" fill-opacity="0.6"/>
<circle cx="223.9" cy="222.3" r="1.8" fill="#ff0000" fill-opacity="0.6"/>
<circle cx="225.5" cy="227.8" r="1.8" fill="#ff0000" fill-opacity="0.6"/>
<circle cx="227.1" cy="229.4" r="1.8" fill="#ff0000" fill-opacity="0.6"/>
<circle cx="232.5" cy="229.4" r="1.8" fill="#ff0000" fill-opacity="0.6"/>
<circle cx="232.4" cy="231.7" r="1.8" fill="#ff0000" fill-opacity="0.6"/>
<circle cx="216.4" cy="235.7" r="1.8" fill="#ff0000" fill-opacity="0.6"/>
<circle cx="218.8" cy="235.3" r="1.8" fill="#ff0000" fill-opacity="0.6"/>
<circle cx="221.4" cy="234.9" r="1.8" fill="#ff0000" fill-opacity="0.6"/>
<circle cx="222.4" cy="233.3" r="1.8" fill="#ff0000" fill-opacity="0.6"/>
<circle cx="217.2" cy="237.2" r="1.8" fill="#ff0000" fill-opacity="0.6"/>
<circle cx="228.5" cy="236.0" r="1.8" fill="#ff0000" fill-opacity="0.6"/>
<circle cx="232.4" cy="236.4" r="1.8" fill="#ff0000" fill-opacity="0.6"/>
<circle cx="234.7" cy="237.5" r="1.8" fill="#ff0000" fill-opacity="0.6"/>
<circle cx="212.2" cy="238.3" r="1.8" fill="#ff0000" fill-opacity="0.6"/>
<circle cx="224.5" cy="239.3" r="1.8" fill="#ff0000" fill-opacity="0.6"/>
<circle cx="227.1" cy="240.4" r="1.8" fill="#ff0000" fill-opacity="0.6"/>
<circle cx="205.4" cy="243.0" r="1.8" fill="#ff0000" fill-opacity="0.6"/>
<circle cx="223.4" cy="243.8" r="1.8" fill="#ff0000" fill-opacity="0.6"/>
<circle cx="225.8" cy="245.0" r="1.8" fill="#ff0000" fill-opacity="0.6"/>
<circle cx="225.0" cy="247.4" r="1.8" fill="#ff0000" fill-opacity="0.6"/>
<circle cx="228.2" cy="244.7" r="1.8" fill="#ff0000" fill-opacity="0.6"/>
<circle cx="231.0" cy="243.5" r="1.8" fill="#ff0000" fill-opacity="0.6"/>
<circle cx="220.3" cy="246.3" r="1.8" fill="#ff0000" fill-opacity="0.6"/>
<circle cx="213.3" cy="248.7" r="1.8" fill="#ff0000" fill-opacity="0.6"/>
<circle cx="211.7" cy="252.9" r="1.8" fill="#ff0000" fill-opacity="0.6"/>
<circle cx="218.3" cy="252.1" r="1.8" fill="#ff0000" fill-opacity="0.6"/>
<circle cx="231.3" cy="250.2" r="1.8" fill="#ff0000" fill-opacity="0.6"/>
<circle cx="232.9" cy="253.2" r="1.8" fill="#ff0000" fill-opacity="0.6"/>
<circle cx="234.4" cy="254.4" r="1.8" fill="#ff0000" fill-opacity="0.6"/>
<circle cx="236.5" cy="256.0" r="1.8" fill="#ff0000" fill-opacity="0.6"/>
<circle cx="227.4" cy="255.7" r="1.8" fill="#ff0000" fill-opacity="0.6"/>
<circle cx="222.4" cy="257.6" r="1.8" fill="#ff0000" fill-opacity="0.6"/>
<circle cx="224.2" cy="258.8" r="1.8" fill="#ff0000" fill-opacity="0.6"/>
<circle cx="227.1" cy="260.4" r="1.8" fill="#ff0000" fill-opacity="0.6"/>
<circle cx="231.3" cy="259.9" r="1.8" fill="#ff0000" fill-opacity="0.6"/>
<circle cx="232.5" cy="261.0" r="1.8" fill="#ff0000" fill-opacity="0.6"/>
<circle cx="215.1" cy="261.5" r="1.8" fill="#ff0000" fill-opacity="0.6"/>
<circle cx="214.8" cy="264.3" r="1.8" fill="#ff0000" fill-opacity="0.6"/>
<circle cx="236.8" cy="263.1" r="1.8" fill="#ff0000" fill-opacity="0.6"/>
<circle cx="238.3" cy="263.1" r="1.8" fill="#ff0000" fill-opacity="0.6"/>
<circle cx="235.2" cy="265.4" r="1.8" fill="#ff0000" fill-opacity="0.6"/>
<circle cx="221.1" cy="266.7" r="1.8" fill="#ff0000" fill-opacity="0.6"/>
<circle cx="224.2" cy="267.4" r="1.8" fill="#ff0000" fill-opacity="0.6"/>
<circle cx="226.6" cy="265.4" r="1.8" fill="#ff0000" fill-opacity="0.6"/>
<circle cx="228.9" cy="267.0" r="1.8" fill="#ff0000" fill-opacity="0.6"/>
<circle cx="231.3" cy="268.5" r="1.8" fill="#ff0000" fill-opacity="0.6"/>
<circle cx="214.8" cy="270.4" r="1.8" fill="#ff0000" fill-opacity="0.6"/>
<circle cx="215.1" cy="273.2" r="1.8" fill="#ff0000" fill-opacity="0.6"/>
<circle cx="232.1" cy="270.4" r="1.8" fill="#ff0000" fill-opacity="0.6"/>
<circle cx="233.6" cy="271.7" r="1.8" fill="#ff0000" fill-opacity="0.6"/>
<circle cx="231.3" cy="272.5" r="1.8" fill="#ff0000" fill-opacity="0.6"/>
<circle cx="238.0" cy="270.1" r="1.8" fill="#ff0000" fill-opacity="0.6"/>
<circle cx="239.1" cy="272.1" r="1.8" fill="#ff0000" fill-opacity="0.6"/>
<circle cx="222.7" cy="274.0" r="1.8" fill="#ff0000" fill-opacity="0.6"/>
<circle cx="226.6" cy="275.1" r="1.8" fill="#ff0000" fill-opacity="0.6"/>
<circle cx="228.9" cy="276.4" r="1.8" fill="#ff0000" fill-opacity="0.6"/>
<circle cx="218.8" cy="277.9" r="1.8" fill="#ff0000" fill-opacity="0.6"/>
<circle cx="218.0" cy="280.3" r="1.8" fill="#ff0000" fill-opacity="0.6"/>
<circle cx="220.3" cy="280.3" r="1.8" fill="#ff0000" fill-opacity="0.6"/>
<circle cx="231.3" cy="278.2" r="1.8" fill="#ff0000" fill-opacity="0.6"/>
<circle cx="232.9" cy="279.5" r="1.8" fill="#ff0000" fill-opacity="0.6"/>
<circle cx="234.4" cy="281.1" r="1.8" fill="#ff0000" fill-opacity="0.6"/>
<circle cx="239.9" cy="277.6" r="1.8" fill="#ff0000" fill-opacity="0.6"/>
<circle cx="239.1" cy="280.3" r="1.8" fill="#ff0000" fill-opacity="0.6"/>
<circle cx="203.4" cy="281.4" r="1.8" fill="#ff0000" fill-opacity="0.6"/>
<circle cx="203.1" cy="282.3" r="1.8" fill="#ff0000" fill-opacity="0.6"/>
<circle cx="207.0" cy="289.7" r="1.8" fill="#ff0000" fill-opacity="0.6"/>
<circle cx="214.1" cy="287.0" r="1.8" fill="#ff0000" fill-opacity="0.6"/>
<circle cx="216.4" cy="294.1" r="1.8" fill="#ff0000" fill-opacity="0.6"/>
<circle cx="219.5" cy="296.4" r="1.8" fill="#ff0000" fill-opacity="0.6"/>
<circle cx="210.9" cy="301.9" r="1.8" fill="#ff0000" fill-opacity="0.6"/>
<circle cx="208.6" cy="305.0" r="1.8" fill="#ff0000" fill-opacity="0.6"/>
<circle cx="215.6" cy="303.5" r="1.8" fill="#ff0000" fill-opacity="0.6"/>
<circle cx="215.1" cy="307.4" r="1.8" fill="#ff0000" fill-opacity="0.6"/>
<circle cx="189.8" cy="312.4" r="1.8" fill="#ff0000" fill-opacity="0.6"/>
<circle cx="203.6" cy="314.0" r="1.8" fill="#ff0000" fill-opacity="0.6"/>
<circle cx="197.3" cy="321.5" r="1.8" fill="#ff0000" fill-opacity="0.6"/>
<circle cx="210.9" cy="315.7" r="1.8" fill="#ff0000" fill-opacity="0.6"/>
<circle cx="213.3" cy="320.4" r="1.8" fill="#ff0000" fill-opacity="0.6"/>
<circle cx="209.4" cy="327.8" r="1.8" fill="#ff0000" fill-opacity="0.6"/>
<circle cx="214.1" cy="326.2" r="1.8" fill="#ff0000" fill-opacity="0.6"/>
<circle cx="214.1" cy="330.9" r="1.8" fill="#ff0000" fill-opacity="0.6"/>
<circle cx="214.8" cy="335.3" r="1.8" fill="#ff0000" fill-opacity="0.6"/>
<circle cx="220.3" cy="322.3" r="1.8" fill="#ff0000" fill-opacity="0.6"/>
<circle cx="221.9" cy="331.7" r="1.8" fill="#ff0000" fill-opacity="0.6"/>
<circle cx="222.7" cy="337.1" r="1.8" fill="#ff0000" fill-opacity="0.6"/>
<circle cx="225.4" cy="262.2" r="1.8" fill="#ff0000" fill-opacity="0.6"/>
<circle cx="232.9" cy="263.5" r="1.8" fill="#ff0000" fill-opacity="0.6"/>
<circle cx="229.3" cy="263.1" r="1.8" fill="#ff0000" fill-opacity="0.6"/>
<circle cx="239.3" cy="264.4" r="1.8" fill="#ff0000" fill-opacity="0.6"/>
<circle cx="231.5" cy="264.1" r="1.8" fill="#ff0000" fill-opacity="0.6"/>
<circle cx="236.3" cy="265.1" r="1.8" fill="#ff0000" fill-opacity="0.6"/>
<circle cx="227.4" cy="266.9" r="1.8" fill="#ff0000" fill-opacity="0.6"/>
<circle cx="239.9" cy="268.0" r="1.8" fill="#ff0000" fill-opacity="0.6"/>
<circle cx="234.9" cy="267.9" r="1.8" fill="#ff0000" fill-opacity="0.6"/>
<circle cx="234.5" cy="268.1" r="1.8" fill="#ff0000" fill-opacity="0.6"/>
<circle cx="237.5" cy="268.8" r="1.8" fill="#ff0000" fill-opacity="0.6"/>
<circle cx="232.9" cy="269.6" r="1.8" fill="#ff0000" fill-opacity="0.6"/>
<circle cx="239.8" cy="269.5" r="1.8" fill="#ff0000" fill-opacity="0.6"/>
<circle cx="224.2" cy="270.2" r="1.8" fill="#ff0000" fill-opacity="0.6"/>
<circle cx="234.4" cy="270.4" r="1.8" fill="#ff0000" fill-opacity="0.6"/>
<circle cx="234.8" cy="271.5" r="1.8" fill="#ff0000" fill-opacity="0.6"/>
<circle cx="223.6" cy="271.8" r="1.8" fill="#ff0000" fill-opacity="0.6"/>
<circle cx="228.8" cy="272.6" r="1.8" fill="#ff0000" fill-opacity="0.6"/>
<circle cx="222.6" cy="272.9" r="1.8" fill="#ff0000" fill-opacity="0.6"/>
<circle cx="239.1" cy="274.0" r="1.8" fill="#ff0000" fill-opacity="0.6"/>
<circle cx="221.7" cy="273.4" r="1.8" fill="#ff0000" fill-opacity="0.6"/>
<circle cx="240.6" cy="274.5" r="1.8" fill="#ff0000" fill-opacity="0.6"/>
<circle cx="221.4" cy="274.7" r="1.8" fill="#ff0000" fill-opacity="0.6"/>
<circle cx="234.7" cy="275.9" r="1.8" fill="#ff0000" fill-opacity="0.6"/>
<circle cx="226.7" cy="275.7" r="1.8" fill="#ff0000" fill-opacity="0.6"/>
<circle cx="218.8" cy="276.5" r="1.8" fill="#ff0000" fill-opacity="0.6"/>
<circle cx="230.3" cy="276.9" r="1.8" fill="#ff0000" fill-opacity="0.6"/>
<circle cx="223.3" cy="277.1" r="1.8" fill="#ff0000" fill-opacity="0.6"/>
<circle cx="213.5" cy="277.6" r="1.8" fill="#ff0000" fill-opacity="0.6"/>
<circle cx="232.8" cy="278.3" r="1.8" fill="#ff0000" fill-opacity="0.6"/>
<circle cx="241.1" cy="278.7" r="1.8" fill="#ff0000" fill-opacity="0.6"/>
<circle cx="239.5" cy="279.2" r="1.8" fill="#ff0000" fill-opacity="0.6"/>
<circle cx="221.1" cy="279.1" r="1.8" fill="#ff0000" fill-opacity="0.6"/>
<circle cx="236.5" cy="279.1" r="1.8" fill="#ff0000" fill-opacity="0.6"/>
<circle cx="240.3" cy="280.9" r="1.8" fill="#ff0000" fill-opacity="0.6"/>
<circle cx="228.0" cy="280.4" r="1.8" fill="#ff0000" fill-opacity="0.6"/>
<circle cx="219.3" cy="280.9" r="1.8" fill="#ff0000" fill-opacity="0.6"/>
<circle cx="232.0" cy="281.3" r="1.8" fill="#ff0000" fill-opacity="0.6"/>
<circle cx="217.0" cy="281.4" r="1.8" fill="#ff0000" fill-opacity="0.6"/>
<circle cx="238.4" cy="282.2" r="1.8" fill="#ff0000" fill-opacity="0.6"/>
<circle cx="237.0" cy="282.2" r="1.8" fill="#ff0000" fill-opacity="0.6"/>
<circle cx="226.8" cy="282.5" r="1.8" fill="#ff0000" fill-opacity="0.6"/>
<circle cx="232.0" cy="283.0" r="1.8" fill="#ff0000" fill-opacity="0.6"/>
<circle cx="227.6" cy="283.4" r="1.8" fill="#ff0000" fill-opacity="0.6"/>
<circle cx="223.6" cy="284.0" r="1.8" fill="#ff0000" fill-opacity="0.6"/>
<circle cx="224.0" cy="284.6" r="1.8" fill="#ff0000" fill-opacity="0.6"/>
<circle cx="216.4" cy="284.1" r="1.8" fill="#ff0000" fill-opacity="0.6"/>
<circle cx="217.3" cy="284.8" r="1.8" fill="#ff0000" fill-opacity="0.6"/>
<circle cx="232.7" cy="285.4" r="1.8" fill="#ff0000" fill-opacity="0.6"/>
<circle cx="225.4" cy="285.1" r="1.8" fill="#ff0000" fill-opacity="0.6"/>
<circle cx="240.9" cy="285.1" r="1.8" fill="#ff0000" fill-opacity="0.6"/>
<circle cx="234.4" cy="286.2" r="1.8" fill="#ff0000" fill-opacity="0.6"/>
<circle cx="242.0" cy="286.1" r="1.8" fill="#ff0000" fill-opacity="0.6"/>
<circle cx="240.3" cy="286.2" r="1.8" fill="#ff0000" fill-opacity="0.6"/>
<circle cx="241.7" cy="286.4" r="1.8" fill="#ff0000" fill-opacity="0.6"/>
<circle cx="239.4" cy="287.6" r="1.8" fill="#ff0000" fill-opacity="0.6"/>
<circle cx="234.2" cy="287.3" r="1.8" fill="#ff0000" fill-opacity="0.6"/>
<circle cx="239.9" cy="287.4" r="1.8" fill="#ff0000" fill-opacity="0.6"/>
<circle cx="230.8" cy="289.0" r="1.8" fill="#ff0000" fill-opacity="0.6"/>
<circle cx="240.8" cy="288.5" r="1.8" fill="#ff0000" fill-opacity="0.6"/>
<circle cx="234.4" cy="288.1" r="1.8" fill="#ff0000" fill-opacity="0.6"/>
<circle cx="218.8" cy="288.3" r="1.8" fill="#ff0000" fill-opacity="0.6"/>
<circle cx="214.4" cy="289.0" r="1.8" fill="#ff0000" fill-opacity="0.6"/>
<circle cx="239.6" cy="289.5" r="1.8" fill="#ff0000" fill-opacity="0.6"/>
<circle cx="241.9" cy="289.5" r="1.8" fill="#ff0000" fill-opacity="0.6"/>
<circle cx="213.3" cy="289.5" r="1.8" fill="#ff0000" fill-opacity="0.6"/>
<circle cx="223.3" cy="289.9" r="1.8" fill="#ff0000" fill-opacity="0.6"/>
<circle cx="239.2" cy="290.4" r="1.8" fill="#ff0000" fill-opacity="0.6"/>
<circle cx="228.9" cy="290.8" r="1.8" fill="#ff0000" fill-opacity="0.6"/>
<circle cx="235.0" cy="290.8" r="1.8" fill="#ff0000" fill-opacity="0.6"/>
<circle cx="219.4" cy="290.2" r="1.8" fill="#ff0000" fill-opacity="0.6"/>
<circle cx="218.0" cy="291.0" r="1.8" fill="#ff0000" fill-opacity="0.6"/>
<circle cx="222.1" cy="291.8" r="1.8" fill="#ff0000" fill-opacity="0.6"/>
<circle cx="229.4" cy="291.2" r="1.8" fill="#ff0000" fill-opacity="0.6"/>
<circle cx="242.2" cy="291.4" r="1.8" fill="#ff0000" fill-opacity="0.6"/>
<circle cx="236.4" cy="291.0" r="1.8" fill="#ff0000" fill-opacity="0.6"/>
<circle cx="214.4" cy="292.7" r="1.8" fill="#ff0000" fill-opacity="0.6"/>
<circle cx="215.1" cy="292.4" r="1.8" fill="#ff0000" fill-opacity="0.6"/>
<circle cx="214.5" cy="293.0" r="1.8" fill="#ff0000" fill-opacity="0.6"/>
<circle cx="238.2" cy="292.4" r="1.8" fill="#ff0000" fill-opacity="0.6"/>
<circle cx="238.8" cy="292.2" r="1.8" fill="#ff0000" fill-opacity="0.6"/>
<circle cx="216.6" cy="293.6" r="1.8" fill="#ff0000" fill-opacity="0.6"/>
<circle cx="231.0" cy="293.8" r="1.8" fill="#ff0000" fill-opacity="0.6"/>
<circle cx="220.2" cy="293.7" r="1.8" fill="#ff0000" fill-opacity="0.6"/>
<circle cx="225.0" cy="293.1" r="1.8" fill="#ff0000" fill-opacity="0.6"/>
<circle cx="220.9" cy="293.9" r="1.8" fill="#ff0000" fill-opacity="0.6"/>
<circle cx="239.7" cy="294.5" r="1.8" fill="#ff0000" fill-opacity="0.6"/>
<circle cx="235.6" cy="294.8" r="1.8" fill="#ff0000" fill-opacity="0.6"/>
<circle cx="214.0" cy="294.8" r="1.8" fill="#ff0000" fill-opacity="0.6"/>
<circle cx="233.5" cy="294.4" r="1.8" fill="#ff0000" fill-opacity="0.6"/>
<circle cx="223.0" cy="294.9" r="1.8" fill="#ff0000" fill-opacity="0.6"/>
<circle cx="240.4" cy="295.1" r="1.8" fill="#ff0000" fill-opacity="0.6"/>
<circle cx="220.2" cy="295.9" r="1.8" fill="#ff0000" fill-opacity="0.6"/>
<circle cx="219.4" cy="295.1" r="1.8" fill="#ff0000" fill-opacity="0.6"/>
<circle cx="225.5" cy="296.0" r="1.8" fill="#ff0000" fill-opacity="0.6"/>
<circle cx="229.0" cy="295.4" r="1.8" fill="#ff0000" fill-opacity="0.6"/>
<circle cx="243.1" cy="295.1" r="1.8" fill="#ff0000" fill-opacity="0.6"/>
<circle cx="229.9" cy="296.6" r="1.8" fill="#ff0000" fill-opacity="0.6"/>
<circle cx="232.9" cy="296.9" r="1.8" fill="#ff0000" fill-opacity="0.6"/>
<circle cx="219.7" cy="296.9" r="1.8" fill="#ff0000" fill-opacity="0.6"/>
<circle cx="238.1" cy="296.2" r="1.8" fill="#ff0000" fill-opacity="0.6"/>
<circle cx="238.4" cy="296.3" r="1.8" fill="#ff0000" fill-opacity="0.6"/>
<circle cx="233.4" cy="297.3" r="1.8" fill="#ff0000" fill-opacity="0.6"/>
<circle cx="216.6" cy="297.1" r="1.8" fill="#ff0000" fill-opacity="0.6"/>
<circle cx="232.2" cy="297.4" r="1.8" fill="#ff0000" fill-opacity="0.6"/>
<circle cx="216.9" cy="297.6" r="1.8" fill="#ff0000" fill-opacity="0.6"/>
<circle cx="216.3" cy="297.4" r="1.8" fill="#ff0000" fill-opacity="0.6"/>
<circle cx="229.9" cy="297.5" r="1.8" fill="#ff0000" fill-opacity="0.6"/>
<circle cx="232.9" cy="298.0" r="1.8" fill="#ff0000" fill-opacity="0.6"/>
<circle cx="243.9" cy="298.2" r="1.8" fill="#ff0000" fill-opacity="0.6"/>
<circle cx="240.6" cy="298.8" r="1.8" fill="#ff0000" fill-opacity="0.6"/>
<circle cx="223.5" cy="298.5" r="1.8" fill="#ff0000" fill-opacity="0.6"/>
<circle cx="236.4" cy="298.6" r="1.8" fill="#ff0000" fill-opacity="0.6"/>
<circle cx="229.3" cy="298.5" r="1.8" fill="#ff0000" fill-opacity="0.6"/>
<circle cx="229.2" cy="299.1" r="1.8" fill="#ff0000" fill-opacity="0.6"/>
<circle cx="237.9" cy="299.2" r="1.8" fill="#ff0000" fill-opacity="0.6"/>
<circle cx="231.0" cy="299.8" r="1.8" fill="#ff0000" fill-opacity="0.6"/>
<circle cx="222.4" cy="299.6" r="1.8" fill="#ff0000" fill-opacity="0.6"/>
<circle cx="233.1" cy="299.9" r="1.8" fill="#ff0000" fill-opacity="0.6"/>
<circle cx="231.1" cy="299.6" r="1.8" fill="#ff0000" fill-opacity="0.6"/>
<circle cx="232.9" cy="300.7" r="1.8" fill="#ff0000" fill-opacity="0.6"/>
<circle cx="232.1" cy="300.5" r="1.8" fill="#ff0000" fill-opacity="0.6"/>
<circle cx="224.7" cy="300.9" r="1.8" fill="#ff0000" fill-opacity="0.6"/>
<circle cx="215.8" cy="300.9" r="1.8" fill="#ff0000" fill-opacity="0.6"/>
<circle cx="229.4" cy="300.3" r="1.8" fill="#ff0000" fill-opacity="0.6"/>
<circle cx="219.6" cy="300.9" r="1.8" fill="#ff0000" fill-opacity="0.6"/>
<circle cx="233.3" cy="301.1" r="1.8" fill="#ff0000" fill-opacity="0.6"/>
<circle cx="239.2" cy="301.1" r="1.8" fill="#ff0000" fill-opacity="0.6"/>
<circle cx="225.8" cy="301.1" r="1.8" fill="#ff0000" fill-opacity="0.6"/>
<circle cx="217.6" cy="301.8" r="1.8" fill="#ff0000" fill-opacity="0.6"/>
<circle cx="224.1" cy="301.2" r="1.8" fill="#ff0000" fill-opacity="0.6"/>
<circle cx="241.8" cy="301.7" r="1.8" fill="#ff0000" fill-opacity="0.6"/>
<circle cx="214.9" cy="301.9" r="1.8" fill="#ff0000" fill-opacity="0.6"/>
<circle cx="235.0" cy="303.0" r="1.8" fill="#ff0000" fill-opacity="0.6"/>
<circle cx="214.1" cy="302.5" r="1.8" fill="#ff0000" fill-opacity="0.6"/>
<circle cx="241.6" cy="302.8" r="1.8" fill="#ff0000" fill-opacity="0.6"/>
<circle cx="231.2" cy="302.4" r="1.8" fill="#ff0000" fill-opacity="0.6"/>
<circle cx="240.7" cy="302.3" r="1.8" fill="#ff0000" fill-opacity="0.6"/>
<circle cx="224.1" cy="302.3" r="1.8" fill="#ff0000" fill-opacity="0.6"/>
<circle cx="229.8" cy="302.0" r="1.8" fill="#ff0000" fill-opacity="0.6"/>
<circle cx="237.0" cy="303.0" r="1.8" fill="#ff0000" fill-opacity="0.6"/>
<circle cx="231.5" cy="303.6" r="1.8" fill="#ff0000" fill-opacity="0.6"/>
<circle cx="214.4" cy="303.1" r="1.8" fill="#ff0000" fill-opacity="0.6"/>
<circle cx="215.0" cy="303.8" r="1.8" fill="#ff0000" fill-opacity="0.6"/>
<circle cx="238.9" cy="303.1" r="1.8" fill="#ff0000" fill-opacity="0.6"/>
<circle cx="222.1" cy="303.0" r="1.8" fill="#ff0000" fill-opacity="0.6"/>
<circle cx="242.5" cy="303.3" r="1.8" fill="#ff0000" fill-opacity="0.6"/>
<circle cx="220.9" cy="304.9" r="1.8" fill="#ff0000" fill-opacity="0.6"/>
<circle cx="242.2" cy="304.3" r="1.8" fill="#ff0000" fill-opacity="0.6"/>
<circle cx="229.7" cy="304.9" r="1.8" fill="#ff0000" fill-opacity="0.6"/>
<circle cx="243.6" cy="304.7" r="1.8" fill="#ff0000" fill-opacity="0.6"/>
<circle cx="225.5" cy="304.1" r="1.8" fill="#ff0000" fill-opacity="0.6"/>
<circle cx="243.9" cy="304.4" r="1.8" fill="#ff0000" fill-opacity="0.6"/>
<circle cx="227.5" cy="304.9" r="1.8" fill="#ff0000" fill-opacity="0.6"/>
<circle cx="243.8" cy="304.8" r="1.8" fill="#ff0000" fill-opacity="0.6"/>
<circle cx="219.3" cy="305.1" r="1.8" fill="#ff0000" fill-opacity="0.6"/>
<circle cx="237.2" cy="305.5" r="1.8" fill="#ff0000" fill-opacity="0.6"/>
<circle cx="216.9" cy="305.6" r="1.8" fill="#ff0000" fill-opacity="0.6"/>
<circle cx="242.9" cy="305.3" r="1.8" fill="#ff0000" fill-opacity="0.6"/>
<circle cx="240.1" cy="305.5" r="1.8" fill="#ff0000" fill-opacity="0.6"/>
<circle cx="242.0" cy="305.1" r="1.8" fill="#ff0000" fill-opacity="0.6"/>
<circle cx="241.0" cy="305.1" r="1.8" fill="#ff0000" fill-opacity="0.6"/>
<circle cx="223.4" cy="306.3" r="1.8" fill="#ff0000" fill-opacity="0.6"/>
<circle cx="232.4" cy="306.3" r="1.8" fill="#ff0000" fill-opacity="0.6"/>
<circle cx="237.2" cy="306.2" r="1.8" fill="#ff0000" fill-opacity="0.6"/>
<circle cx="240.0" cy="306.0" r="1.8" fill="#ff0000" fill-opacity="0.6"/>
<circle cx="224.3" cy="306.0" r="1.8" fill="#ff0000" fill-opacity="0.6"/>
<circle cx="241.7" cy="306.6" r="1.8" fill="#ff0000" fill-opacity="0.6"/>
<circle cx="216.8" cy="306.5" r="1.8" fill="#ff0000" fill-opacity="0.6"/>
<circle cx="221.1" cy="306.1" r="1.8" fill="#ff0000" fill-opacity="0.6"/>
<circle cx="220.9" cy="307.5" r="1.8" fill="#ff0000" fill-opacity="0.6"/>
<circle cx="232.5" cy="307.4" r="1.8" fill="#ff0000" fill-opacity="0.6"/>
<circle cx="215.2" cy="307.7" r="1.8" fill="#ff0000" fill-opacity="0.6"/>
<circle cx="220.9" cy="307.3" r="1.8" fill="#ff0000" fill-opacity="0.6"/>
<circle cx="228.1" cy="307.7" r="1.8" fill="#ff0000" fill-opacity="0.6"/>
<circle cx="237.5" cy="307.4" r="1.8" fill="#ff0000" fill-opacity="0.6"/>
<circle cx="243.4" cy="307.1" r="1.8" fill="#ff0000" fill-opacity="0.6"/>
<circle cx="224.2" cy="307.1" r="1.8" fill="#ff0000" fill-opacity="0.6"/>
<circle cx="244.7" cy="308.2" r="1.8" fill="#ff0000" fill-opacity="0.6"/>
<circle cx="219.8" cy="308.8" r="1.8" fill="#ff0000" fill-opacity="0.6"/>
<circle cx="239.8" cy="308.7" r="1.8" fill="#ff0000" fill-opacity="0.6"/>
<circle cx="239.4" cy="308.2" r="1.8" fill="#ff0000" fill-opacity="0.6"/>
<circle cx="243.1" cy="308.5" r="1.8" fill="#ff0000" fill-opacity="0.6"/>
<circle cx="240.3" cy="308.4" r="1.8" fill="#ff0000" fill-opacity="0.6"/>
<circle cx="215.9" cy="309.0" r="1.8" fill="#ff0000" fill-opacity="0.6"/>
<circle cx="240.8" cy="308.5" r="1.8" fill="#ff0000" fill-opacity="0.6"/>
<circle cx="239.1" cy="309.0" r="1.8" fill="#ff0000" fill-opacity="0.6"/>
<circle cx="236.9" cy="309.0" r="1.8" fill="#ff0000" fill-opacity="0.6"/>
<circle cx="233.1" cy="309.5" r="1.8" fill="#ff0000" fill-opacity="0.6"/>
<circle cx="233.0" cy="309.2" r="1.8" fill="#ff0000" fill-opacity="0.6"/>
<circle cx="240.4" cy="309.0" r="1.8" fill="#ff0000" fill-opacity="0.6"/>
<circle cx="236.4" cy="309.1" r="1.8" fill="#ff0000" fill-opacity="0.6"/>
<circle cx="246.1" cy="309.0" r="1.8" fill="#ff0000" fill-opacity="0.6"/>
<circle cx="241.4" cy="309.3" r="1.8" fill="#ff0000" fill-opacity="0.6"/>
<circle cx="232.3" cy="309.6" r="1.8" fill="#ff0000" fill-opacity="0.6"/>
<circle cx="227.9" cy="309.8" r="1.8" fill="#ff0000" fill-opacity="0.6"/>
<circle cx="237.2" cy="310.9" r="1.8" fill="#ff0000" fill-opacity="0.6"/>
<circle cx="215.7" cy="310.3" r="1.8" fill="#ff0000" fill-opacity="0.6"/>
<circle cx="225.5" cy="310.1" r="1.8" fill="#ff0000" fill-opacity="0.6"/>
<circle cx="246.2" cy="310.6" r="1.8" fill="#ff0000" fill-opacity="0.6"/>
<circle cx="219.4" cy="310.8" r="1.8" fill="#ff0000" fill-opacity="0.6"/>
<circle cx="225.3" cy="310.6" r="1.8" fill="#ff0000" fill-opacity="0.6"/>
<circle cx="244.2" cy="310.8" r="1.8" fill="#ff0000" fill-opacity="0.6"/>
<circle cx="233.3" cy="310.5" r="1.8" fill="#ff0000" fill-opacity="0.6"/>
<circle cx="222.7" cy="310.8" r="1.8" fill="#ff0000" fill-opacity="0.6"/>
<circle cx="219.5" cy="311.6" r="1.8" fill="#ff0000" fill-opacity="0.6"/>
<circle cx="227.0" cy="311.7" r="1.8" fill="#ff0000" fill-opacity="0.6"/>
<circle cx="246.6" cy="311.2" r="1.8" fill="#ff0000" fill-opacity="0.6"/>
<circle cx="238.1" cy="311.1" r="1.8" fill="#ff0000" fill-opacity="0.6"/>
<circle cx="221.6" cy="311.1" r="1.8" fill="#ff0000" fill-opacity="0.6"/>
<circle cx="229.3" cy="311.6" r="1.8" fill="#ff0000" fill-opacity="0.6"/>
<circle cx="227.5" cy="311.6" r="1.8" fill="#ff0000" fill-opacity="0.6"/>
<circle cx="247.1" cy="311.5" r="1.8" fill="#ff0000" fill-opacity="0.6"/>
<circle cx="225.0" cy="311.8" r="1.8" fill="#ff0000" fill-opacity="0.6"/>
<circle cx="228.5" cy="312.5" r="1.8" fill="#ff0000" fill-opacity="0.6"/>
<circle cx="225.5" cy="312.1" r="1.8" fill="#ff0000" fill-opacity="0.6"/>
<circle cx="246.1" cy="312.3" r="1.8" fill="#ff0000" fill-opacity="0.6"/>
<circle cx="225.8" cy="312.3" r="1.8" fill="#ff0000" fill-opacity="0.6"/>
<circle cx="225.4" cy="312.2" r="1.8" fill="#ff0000" fill-opacity="0.6"/>
<circle cx="234.3" cy="313.0" r="1.8" fill="#ff0000" fill-opacity="0.6"/>
<circle cx="234.7" cy="312.4" r="1.8" fill="#ff0000" fill-opacity="0.6"/>
<circle cx="224.5" cy="312.7" r="1.8" fill="#ff0000" fill-opacity="0.6"/>
<circle cx="229.1" cy="312.6" r="1.8" fill="#ff0000" fill-opacity="0.6"/>
<circle cx="244.4" cy="312.1" r="1.8" fill="#ff0000" fill-opacity="0.6"/>
<circle cx="240.5" cy="313.7" r="1.8" fill="#ff0000" fill-opacity="0.6"/>
<circle cx="247.6" cy="313.6" r="1.8" fill="#ff0000" fill-opacity="0.6"/>
<circle cx="241.4" cy="313.1" r="1.8" fill="#ff0000" fill-opacity="0.6"/>
<circle cx="227.5" cy="313.7" r="1.8" fill="#ff0000" fill-opacity="0.6"/>
<circle cx="240.9" cy="313.7" r="1.8" fill="#ff0000" fill-opacity="0.6"/>
<circle cx="235.4" cy="313.5" r="1.8" fill="#ff0000" fill-opacity="0.6"/>
<circle cx="245.5" cy="313.5" r="1.8" fill="#ff0000" fill-opacity="0.6"/>
<circle cx="243.5" cy="313.9" r="1.8" fill="#ff0000" fill-opacity="0.6"/>
<circle cx="218.3" cy="314.0" r="1.8" fill="#ff0000" fill-opacity="0.6"/>
<circle cx="235.5" cy="313.0" r="1.8" fill="#ff0000" fill-opacity="0.6"/>
<circle cx="217.0" cy="313.8" r="1.8" fill="#ff0000" fill-opacity="0.6"/>
<circle cx="243.4" cy="314.3" r="1.8" fill="#ff0000" fill-opacity="0.6"/>
<circle cx="243.5" cy="314.9" r="1.8" fill="#ff0000" fill-opacity="0.6"/>
<circle cx="245.2" cy="314.6" r="1.8" fill="#ff0000" fill-opacity="0.6"/>
<circle cx="217.8" cy="314.5" r="1.8" fill="#ff0000" fill-opacity="0.6"/>
<circle cx="222.9" cy="314.1" r="1.8" fill="#ff0000" fill-opacity="0.6"/>
<circle cx="220.4" cy="314.5" r="1.8" fill="#ff0000" fill-opacity="0.6"/>
<circle cx="242.9" cy="314.7" r="1.8" fill="#ff0000" fill-opacity="0.6"/>
<circle cx="235.1" cy="314.9" r="1.8" fill="#ff0000" fill-opacity="0.6"/>
<circle cx="247.8" cy="314.0" r="1.8" fill="#ff0000" fill-opacity="0.6"/>
<circle cx="236.1" cy="314.5" r="1.8" fill="#ff0000" fill-opacity="0.6"/>
<circle cx="245.2" cy="314.3" r="1.8" fill="#ff0000" fill-opacity="0.6"/>
<circle cx="222.4" cy="315.3" r="1.8" fill="#ff0000" fill-opacity="0.6"/>
<circle cx="225.7" cy="315.0" r="1.8" fill="#ff0000" fill-opacity="0.6"/>
<circle cx="246.1" cy="315.8" r="1.8" fill="#ff0000" fill-opacity="0.6"/>
<circle cx="227.3" cy="315.9" r="1.8" fill="#ff0000" fill-opacity="0.6"/>
<circle cx="241.5" cy="315.9" r="1.8" fill="#ff0000" fill-opacity="0.6"/>
<circle cx="238.2" cy="315.4" r="1.8" fill="#ff0000" fill-opacity="0.6"/>
<circle cx="231.8" cy="316.0" r="1.8" fill="#ff0000" fill-opacity="0.6"/>
<circle cx="237.1" cy="315.4" r="1.8" fill="#ff0000" fill-opacity="0.6"/>
<circle cx="247.5" cy="315.3" r="1.8" fill="#ff0000" fill-opacity="0.6"/>
<circle cx="222.5" cy="315.1" r="1.8" fill="#ff0000" fill-opacity="0.6"/>
<circle cx="218.6" cy="315.3" r="1.8" fill="#ff0000" fill-opacity="0.6"/>
<circle cx="234.6" cy="316.3" r="1.8" fill="#ff0000" fill-opacity="0.6"/>
<circle cx="239.1" cy="316.2" r="1.8" fill="#ff0000" fill-opacity="0.6"/>
<circle cx="221.0" cy="317.0" r="1.8" fill="#ff0000" fill-opacity="0.6"/>
<circle cx="230.5" cy="316.8" r="1.8" fill="#ff0000" fill-opacity="0.6"/>
<circle cx="218.8" cy="316.9" r="1.8" fill="#ff0000" fill-opacity="0.6"/>
<circle cx="227.2" cy="316.5" r="1.8" fill="#ff0000" fill-opacity="0.6"/>
<circle cx="226.6" cy="316.0" r="1.8" fill="#ff0000" fill-opacity="0.6"/>
<circle cx="225.9" cy="316.5" r="1.8" fill="#ff0000" fill-opacity="0.6"/>
<circle cx="241.9" cy="316.6" r="1.8" fill="#ff0000" fill-opacity="0.6"/>
<circle cx="219.1" cy="316.0" r="1.8" fill="#ff0000" fill-opacity="0.6"/>
<circle cx="235.8" cy="316.1" r="1.8" fill="#ff0000" fill-opacity="0.6"/>
<circle cx="226.6" cy="317.3" r="1.8" fill="#ff0000" fill-opacity="0.6"/>
<circle cx="243.0" cy="318.0" r="1.8" fill="#ff0000" fill-opacity="0.6"/>
<circle cx="241.7" cy="317.7" r="1.8" fill="#ff0000" fill-opacity="0.6"/>
<circle cx="238.8" cy="317.6" r="1.8" fill="#ff0000" fill-opacity="0.6"/>
<circle cx="245.5" cy="317.2" r="1.8" fill="#ff0000" fill-opacity="0.6"/>
<circle cx="220.2" cy="317.2" r="1.8" fill="#ff0000" fill-opacity="0.6"/>
<circle cx="244.0" cy="317.5" r="1.8" fill="#ff0000" fill-opacity="0.6"/>
<circle cx="216.7" cy="317.9" r="1.8" fill="#ff0000" fill-opacity="0.6"/>
<circle cx="246.1" cy="317.4" r="1.8" fill="#ff0000" fill-opacity="0.6"/>
<circle cx="247.2" cy="317.2" r="1.8" fill="#ff0000" fill-opacity="0.6"/>
<circle cx="247.2" cy="317.3" r="1.8" fill="#ff0000" fill-opacity="0.6"/>
<circle cx="242.8" cy="317.2" r="1.8" fill="#ff0000" fill-opacity="0.6"/>
<circle cx="226.6" cy="318.9" r="1.8" fill="#ff0000" fill-opacity="0.6"/>
<circle cx="238.4" cy="318.4" r="1.8" fill="#ff0000" fill-opacity="0.6"/>
<circle cx="239.6" cy="318.5" r="1.8" fill="#ff0000" fill-opacity="0.6"/>
<circle cx="248.1" cy="318.3" r="1.8" fill="#ff0000" fill-opacity="0.6"/>
<circle cx="218.0" cy="318.3" r="1.8" fill="#ff0000" fill-opacity="0.6"/>
<circle cx="235.3" cy="318.1" r="1.8" fill="#ff0000" fill-opacity="0.6"/>
<circle cx="222.2" cy="318.6" r="1.8" fill="#ff0000" fill-opacity="0.6"/>
<circle cx="242.7" cy="318.2" r="1.8" fill="#ff0000" fill-opacity="0.6"/>
<circle cx="238.8" cy="318.2" r="1.8" fill="#ff0000" fill-opacity="0.6"/>
<circle cx="218.5" cy="318.4" r="1.8" fill="#ff0000" fill-opacity="0.6"/>
<circle cx="221.8" cy="318.8" r="1.8" fill="#ff0000" fill-opacity="0.6"/>
<circle cx="248.6" cy="318.0" r="1.8" fill="#ff0000" fill-opacity="0.6"/>
<circle cx="236.8" cy="319.9" r="1.8" fill="#ff0000" fill-opacity="0.6"/>
<circle cx="249.5" cy="319.6" r="1.8" fill="#ff0000" fill-opacity="0.6"/>
<circle cx="219.8" cy="319.4" r="1.8" fill="#ff0000" fill-opacity="0.6"/>
<circle cx="222.7" cy="319.8" r="1.8" fill="#ff0000" fill-opacity="0.6"/>
<circle cx="243.9" cy="320.0" r="1.8" fill="#ff0000" fill-opacity="0.6"/>
<circle cx="246.2" cy="319.1" r="1.8" fill="#ff0000" fill-opacity="0.6"/>
<circle cx="229.3" cy="319.5" r="1.8" fill="#ff0000" fill-opacity="0.6"/>
<circle cx="227.9" cy="319.9" r="1.8" fill="#ff0000" fill-opacity="0.6"/>
<circle cx="226.2" cy="319.6" r="1.8" fill="#ff0000" fill-opacity="0.6"/>
<circle cx="234.0" cy="319.5" r="1.8" fill="#ff0000" fill-opacity="0.6"/>
<circle cx="225.4" cy="319.0" r="1.8" fill="#ff0000" fill-opacity="0.6"/>
<circle cx="220.1" cy="319.2" r="1.8" fill="#ff0000" fill-opacity="0.6"/>
<circle cx="247.2" cy="320.3" r="1.8" fill="#ff0000" fill-opacity="0.6"/>
<circle cx="231.2" cy="320.3" r="1.8" fill="#ff0000" fill-opacity="0.6"/>
<circle cx="247.7" cy="320.7" r="1.8" fill="#ff0000" fill-opacity="0.6"/>
<circle cx="235.1" cy="320.1" r="1.8" fill="#ff0000" fill-opacity="0.6"/>
<circle cx="239.8" cy="320.6" r="1.8" fill="#ff0000" fill-opacity="0.6"/>
<circle cx="232.4" cy="320.2" r="1.8" fill="#ff0000" fill-opacity="0.6"/>
<circle cx="242.3" cy="320.0" r="1.8" fill="#ff0000" fill-opacity="0.6"/>
<circle cx="218.9" cy="320.5" r="1.8" fill="#ff0000" fill-opacity="0.6"/>
<circle cx="222.0" cy="320.6" r="1.8" fill="#ff0000" fill-opacity="0.6"/>
<circle cx="244.4" cy="320.5" r="1.8" fill="#ff0000" fill-opacity="0.6"/>
<circle cx="218.7" cy="320.2" r="1.8" fill="#ff0000" fill-opacity="0.6"/>
<circle cx="242.3" cy="320.7" r="1.8" fill="#ff0000" fill-opacity="0.6"/>
<circle cx="230.3" cy="321.5" r="1.8" fill="#ff0000" fill-opacity="0.6"/>
<circle cx="244.0" cy="321.4" r="1.8" fill="#ff0000" fill-opacity="0.6"/>
<circle cx="220.8" cy="321.7" r="1.8" fill="#ff0000" fill-opacity="0.6"/>
<circle cx="249.4" cy="321.2" r="1.8" fill="#ff0000" fill-opacity="0.6"/>
<circle cx="239.0" cy="321.3" r="1.8" fill="#ff0000" fill-opacity="0.6"/>
<circle cx="245.8" cy="321.7" r="1.8" fill="#ff0000" fill-opacity="0.6"/>
<circle cx="228.0" cy="321.8" r="1.8" fill="#ff0000" fill-opacity="0.6"/>
<circle cx="245.5" cy="321.5" r="1.8" fill="#ff0000" fill-opacity="0.6"/>
<circle cx="242.6" cy="322.0" r="1.8" fill="#ff0000" fill-opacity="0.6"/>
<circle cx="244.9" cy="321.8" r="1.8" fill="#ff0000" fill-opacity="0.6"/>
<circle cx="227.0" cy="321.2" r="1.8" fill="#ff0000" fill-opacity="0.6"/>
<circle cx="219.6" cy="321.3" r="1.8" fill="#ff0000" fill-opacity="0.6"/>
<circle cx="246.0" cy="321.5" r="1.8" fill="#ff0000" fill-opacity="0.6"/>
<circle cx="231.0" cy="322.4" r="1.8" fill="#ff0000" fill-opacity="0.6"/>
<circle cx="247.4" cy="322.9" r="1.8" fill="#ff0000" fill-opacity="0.6"/>
<circle cx="245.5" cy="322.4" r="1.8" fill="#ff0000" fill-opacity="0.6"/>
<circle cx="247.5" cy="323.0" r="1.8" fill="#ff0000" fill-opacity="0.6"/>
<circle cx="249.1" cy="322.1" r="1.8" fill="#ff0000" fill-opacity="0.6"/>
<circle cx="222.2" cy="322.4" r="1.8" fill="#ff0000" fill-opacity="0.6"/>
<circle cx="228.7" cy="322.9" r="1.8" fill="#ff0000" fill-opacity="0.6"/>
<circle cx="221.2" cy="323.0" r="1.8" fill="#ff0000" fill-opacity="0.6"/>
<circle cx="246.3" cy="322.3" r="1.8" fill="#ff0000" fill-opacity="0.6"/>
<circle cx="228.2" cy="322.9" r="1.8" fill="#ff0000" fill-opacity="0.6"/>
<circle cx="230.8" cy="322.0" r="1.8" fill="#ff0000" fill-opacity="0.6"/>
<circle cx="240.8" cy="322.4" r="1.8" fill="#ff0000" fill-opacity="0.6"/>
<circle cx="246.7" cy="322.3" r="1.8" fill="#ff0000" fill-opacity="0.6"/>
<circle cx="243.5" cy="322.0" r="1.8" fill="#ff0000" fill-opacity="0.6"/>
<circle cx="248.2" cy="324.0" r="1.8" fill="#ff0000" fill-opacity="0.6"/>
<circle cx="246.1" cy="324.0" r="1.8" fill="#ff0000" fill-opacity="0.6"/>
<circle cx="225.6" cy="323.4" r="1.8" fill="#ff0000" fill-opacity="0.6"/>
<circle cx="239.4" cy="323.8" r="1.8" fill="#ff0000" fill-opacity="0.6"/>
<circle cx="237.8" cy="323.0" r="1.8" fill="#ff0000" fill-opacity="0.6"/>
<circle cx="221.8" cy="323.4" r="1.8" fill="#ff0000" fill-opacity="0.6"/>
<circle cx="241.4" cy="323.2" r="1.8" fill="#ff0000" fill-opacity="0.6"/>
<circle cx="250.1" cy="323.9" r="1.8" fill="#ff0000" fill-opacity="0.6"/>
<circle cx="226.0" cy="323.4" r="1.8" fill="#ff0000" fill-opacity="0.6"/>
<circle cx="249.9" cy="323.8" r="1.8" fill="#ff0000" fill-opacity="0.6"/>
<circle cx="249.3" cy="323.0" r="1.8" fill="#ff0000" fill-opacity="0.6"/>
<circle cx="244.8" cy="323.9" r="1.8" fill="#ff0000" fill-opacity="0.6"/>
<circle cx="222.8" cy="323.7" r="1.8" fill="#ff0000" fill-opacity="0.6"/>
<circle cx="244.2" cy="323.3" r="1.8" fill="#ff0000" fill-opacity="0.6"/>
<circle cx="244.8" cy="324.6" r="1.8" fill="#ff0000" fill-opacity="0.6"/>
<circle cx="243.3" cy="324.7" r="1.8" fill="#ff0000" fill-opacity="0.6"/>
<circle cx="250.6" cy="324.3" r="1.8" fill="#ff0000" fill-opacity="0.6"/>
<circle cx="222.6" cy="324.8" r="1.8" fill="#ff0000" fill-opacity="0.6"/>
<circle cx="221.5" cy="324.6" r="1.8" fill="#ff0000" fill-opacity="0.6"/>
<circle cx="245.4" cy="324.0" r="1.8" fill="#ff0000" fill-opacity="0.6"/>
<circle cx="220.9" cy="324.5" r="1.8" fill="#ff0000" fill-opacity="0.6"/>
<circle cx="241.2" cy="325.0" r="1.8" fill="#ff0000" fill-opacity="0.6"/>
<circle cx="239.6" cy="324.3" r="1.8" fill="#ff0000" fill-opacity="0.6"/>
<circle cx="222.0" cy="324.5" r="1.8" fill="#ff0000" fill-opacity="0.6"/>
<circle cx="226.7" cy="324.2" r="1.8" fill="#ff0000" fill-opacity="0.6"/>
<circle cx="226.2" cy="324.7" r="1.8" fill="#ff0000" fill-opacity="0.6"/>
<circle cx="233.9" cy="324.8" r="1.8" fill="#ff0000" fill-opacity="0.6"/>
<circle cx="242.1" cy="325.3" r="1.8" fill="#ff0000" fill-opacity="0.6"/>
<circle cx="249.7" cy="325.8" r="1.8" fill="#ff0000" fill-opacity="0.6"/>
<circle cx="228.9" cy="325.2" r="1.8" fill="#ff0000" fill-opacity="0.6"/>
<circle cx="249.8" cy="325.2" r="1.8" fill="#ff0000" fill-opacity="0.6"/>
<circle cx="235.9" cy="325.0" r="1.8" fill="#ff0000" fill-opacity="0.6"/>
<circle cx="220.4" cy="325.3" r="1.8" fill="#ff0000" fill-opacity="0.6"/>
<circle cx="220.4" cy="325.9" r="1.8" fill="#ff0000" fill-opacity="0.6"/>
<circle cx="249.4" cy="325.3" r="1.8" fill="#ff0000" fill-opacity="0.6"/>
<circle cx="237.7" cy="325.1" r="1.8" fill="#ff0000" fill-opacity="0.6"/>
<circle cx="239.6" cy="325.7" r="1.8" fill="#ff0000" fill-opacity="0.6"/>
<circle cx="240.4" cy="325.2" r="1.8" fill="#ff0000" fill-opacity="0.6"/>
<circle cx="231.9" cy="325.6" r="1.8" fill="#ff0000" fill-opacity="0.6"/>
<circle cx="225.7" cy="325.7" r="1.8" fill="#ff0000" fill-opacity="0.6"/>
<circle cx="248.7" cy="325.7" r="1.8" fill="#ff0000" fill-opacity="0.6"/>
<circle cx="235.9" cy="326.3" r="1.8" fill="#ff0000" fill-opacity="0.6"/>
<circle cx="230.0" cy="326.4" r="1.8" fill="#ff0000" fill-opacity="0.6"/>
<circle cx="245.7" cy="326.2" r="1.8" fill="#ff0000" fill-opacity="0.6"/>
<circle cx="248.1" cy="326.2" r="1.8" fill="#ff0000" fill-opacity="0.6"/>
<circle cx="235.7" cy="326.9" r="1.8" fill="#ff0000" fill-opacity="0.6"/>
<circle cx="241.4" cy="326.3" r="1.8" fill="#ff0000" fill-opacity="0.6"/>
<circle cx="238.1" cy="327.0" r="1.8" fill="#ff0000" fill-opacity="0.6"/>
<circle cx="227.3" cy="326.2" r="1.8" fill="#ff0000" fill-opacity="0.6"/>
<circle cx="220.7" cy="326.7" r="1.8" fill="#ff0000" fill-opacity="0.6"/>
<circle cx="238.8" cy="326.1" r="1.8" fill="#ff0000" fill-opacity="0.6"/>
<circle cx="226.4" cy="326.8" r="1.8" fill="#ff0000" fill-opacity="0.6"/>
<circle cx="250.7" cy="326.9" r="1.8" fill="#ff0000" fill-opacity="0.6"/>
<circle cx="248.9" cy="326.3" r="1.8" fill="#ff0000" fill-opacity="0.6"/>
<circle cx="221.1" cy="326.2" r="1.8" fill="#ff0000" fill-opacity="0.6"/>
<circle cx="242.6" cy="327.9" r="1.8" fill="#ff0000" fill-opacity="0.6"/>
<circle cx="240.2" cy="327.9" r="1.8" fill="#ff0000" fill-opacity="0.6"/>
<circle cx="228.9" cy="327.3" r="1.8" fill="#ff0000" fill-opacity="0.6"/>
<circle cx="249.6" cy="327.9" r="1.8" fill="#ff0000" fill-opacity="0.6"/>
<circle cx="234.6" cy="327.6" r="1.8" fill="#ff0000" fill-opacity="0.6"/>
<circle cx="242.5" cy="327.2" r="1.8" fill="#ff0000" fill-opacity="0.6"/>
<circle cx="247.1" cy="327.1" r="1.8" fill="#ff0000" fill-opacity="0.6"/>
<circle cx="235.1" cy="327.3" r="1.8" fill="#ff0000" fill-opacity="0.6"/>
<circle cx="247.2" cy="327.7" r="1.8" fill="#ff0000" fill-opacity="0.6"/>
<circle cx="243.7" cy="327.0" r="1.8" fill="#ff0000" fill-opacity="0.6"/>
<circle cx="247.7" cy="327.7" r="1.8" fill="#ff0000" fill-opacity="0.6"/>
<circle cx="247.1" cy="327.3" r="1.8" fill="#ff0000" fill-opacity="0.6"/>
<circle cx="237.0" cy="327.8" r="1.8" fill="#ff0000" fill-opacity="0.6"/>
<circle cx="249.5" cy="327.1" r="1.8" fill="#ff0000" fill-opacity="0.6"/>
<circle cx="236.8" cy="327.4" r="1.8" fill="#ff0000" fill-opacity="0.6"/>
<circle cx="248.4" cy="328.1" r="1.8" fill="#ff0000" fill-opacity="0.6"/>
<circle cx="241.8" cy="328.7" r="1.8" fill="#ff0000" fill-opacity="0.6"/>
<circle cx="244.6" cy="328.3" r="1.8" fill="#ff0000" fill-opacity="0.6"/>
<circle cx="244.8" cy="329.0" r="1.8" fill="#ff0000" fill-opacity="0.6"/>
<circle cx="243.3" cy="328.6" r="1.8" fill="#ff0000" fill-opacity="0.6"/>
<circle cx="226.3" cy="328.4" r="1.8" fill="#ff0000" fill-opacity="0.6"/>
<circle cx="243.3" cy="329.0" r="1.8" fill="#ff0000" fill-opacity="0.6"/>
<circle cx="231.1" cy="328.2" r="1.8" fill="#ff0000" fill-opacity="0.6"/>
<circle cx="251.5" cy="328.2" r="1.8" fill="#ff0000" fill-opacity="0.6"/>
<circle cx="241.5" cy="328.9" r="1.8" fill="#ff0000" fill-opacity="0.6"/>
<circle cx="242.0" cy="328.8" r="1.8" fill="#ff0000" fill-opacity="0.6"/>
<circle cx="240.3" cy="328.9" r="1.8" fill="#ff0000" fill-opacity="0.6"/>
<circle cx="251.4" cy="328.2" r="1.8" fill="#ff0000" fill-opacity="0.6"/>
<circle cx="234.3" cy="328.6" r="1.8" fill="#ff0000" fill-opacity="0.6"/>
<circle cx="250.4" cy="328.9" r="1.8" fill="#ff0000" fill-opacity="0.6"/>
<circle cx="239.2" cy="329.4" r="1.8" fill="#ff0000" fill-opacity="0.6"/>
<circle cx="245.7" cy="329.1" r="1.8" fill="#ff0000" fill-opacity="0.6"/>
<circle cx="224.7" cy="329.5" r="1.8" fill="#ff0000" fill-opacity="0.6"/>
<circle cx="239.5" cy="329.1" r="1.8" fill="#ff0000" fill-opacity="0.6"/>
<circle cx="223.3" cy="329.8" r="1.8" fill="#ff0000" fill-opacity="0.6"/>
<circle cx="249.7" cy="329.2" r="1.8" fill="#ff0000" fill-opacity="0.6"/>
<circle cx="223.0" cy="329.9" r="1.8" fill="#ff0000" fill-opacity="0.6"/>
<circle cx="251.3" cy="329.5" r="1.8" fill="#ff0000" fill-opacity="0.6"/>
<circle cx="243.0" cy="329.9" r="1.8" fill="#ff0000" fill-opacity="0.6"/>
<circle cx="235.6" cy="329.9" r="1.8" fill="#ff0000" fill-opacity="0.6"/>
<circle cx="249.1" cy="329.8" r="1.8" fill="#ff0000" fill-opacity="0.6"/>
<circle cx="247.6" cy="329.8" r="1.8" fill="#ff0000" fill-opacity="0.6"/>
<circle cx="227.5" cy="329.4" r="1.8" fill="#ff0000" fill-opacity="0.6"/>
<circle cx="248.6" cy="329.8" r="1.8" fill="#ff0000" fill-opacity="0.6"/>
<circle cx="242.3" cy="329.2" r="1.8" fill="#ff0000" fill-opacity="0.6"/>
<circle cx="250.2" cy="330.4" r="1.8" fill="#ff0000" fill-opacity="0.6"/>
<circle cx="232.2" cy="330.2" r="1.8" fill="#ff0000" fill-opacity="0.6"/>
<circle cx="252.1" cy="330.9" r="1.8" fill="#ff0000" fill-opacity="0.6"/>
<circle cx="231.3" cy="330.6" r="1.8" fill="#ff0000" fill-opacity="0.6"/>
<circle cx="228.1" cy="330.0" r="1.8" fill="#ff0000" fill-opacity="0.6"/>
<circle cx="236.4" cy="330.1" r="1.8" fill="#ff0000" fill-opacity="0.6"/>
<circle cx="235.7" cy="330.6" r="1.8" fill="#ff0000" fill-opacity="0.6"/>
<circle cx="242.2" cy="330.3" r="1.8" fill="#ff0000" fill-opacity="0.6"/>
<circle cx="242.2" cy="330.6" r="1.8" fill="#ff0000" fill-opacity="0.6"/>
<circle cx="241.6" cy="330.7" r="1.8" fill="#ff0000" fill-opacity="0.6"/>
<circle cx="252.2" cy="330.4" r="1.8" fill="#ff0000" fill-opacity="0.6"/>
<circle cx="240.2" cy="330.6" r="1.8" fill="#ff0000" fill-opacity="0.6"/>
<circle cx="230.9" cy="330.2" r="1.8" fill="#ff0000" fill-opacity="0.6"/>
<circle cx="241.3" cy="330.8" r="1.8" fill="#ff0000" fill-opacity="0.6"/>
<circle cx="240.5" cy="330.2" r="1.8" fill="#ff0000" fill-opacity="0.6"/>
<circle cx="250.0" cy="330.1" r="1.8" fill="#ff0000" fill-opacity="0.6"/>
<circle cx="241.9" cy="331.1" r="1.8" fill="#ff0000" fill-opacity="0.6"/>
<circle cx="252.3" cy="331.5" r="1.8" fill="#ff0000" fill-opacity="0.6"/>
<circle cx="251.6" cy="331.6" r="1.8" fill="#ff0000" fill-opacity="0.6"/>
<circle cx="231.2" cy="331.7" r="1.8" fill="#ff0000" fill-opacity="0.6"/>
<circle cx="252.1" cy="331.5" r="1.8" fill="#ff0000" fill-opacity="0.6"/>
<circle cx="244.0" cy="331.5" r="1.8" fill="#ff0000" fill-opacity="0.6"/>
<circle cx="250.6" cy="332.0" r="1.8" fill="#ff0000" fill-opacity="0.6"/>
<circle cx="223.3" cy="331.9" r="1.8" fill="#ff0000" fill-opacity="0.6"/>
<circle cx="229.9" cy="331.7" r="1.8" fill="#ff0000" fill-opacity="0.6"/>
<circle cx="223.5" cy="331.2" r="1.8" fill="#ff0000" fill-opacity="0.6"/>
<circle cx="224.6" cy="331.5" r="1.8" fill="#ff0000" fill-opacity="0.6"/>
<circle cx="249.9" cy="331.9" r="1.8" fill="#ff0000" fill-opacity="0.6"/>
<circle cx="225.7" cy="331.8" r="1.8" fill="#ff0000" fill-opacity="0.6"/>
<circle cx="244.6" cy="331.1" r="1.8" fill="#ff0000" fill-opacity="0.6"/>
<circle cx="250.0" cy="331.8" r="1.8" fill="#ff0000" fill-opacity="0.6"/>
<circle cx="247.1" cy="331.9" r="1.8" fill="#ff0000" fill-opacity="0.6"/>
<circle cx="240.5" cy="332.1" r="1.8" fill="#ff0000" fill-opacity="0.6"/>
<circle cx="249.2" cy="332.9" r="1.8" fill="#ff0000" fill-opacity="0.6"/>
<circle cx="240.5" cy="332.3" r="1.8" fill="#ff0000" fill-opacity="0.6"/>
<circle cx="252.7" cy="332.3" r="1.8" fill="#ff0000" fill-opacity="0.6"/>
<circle cx="250.1" cy="332.2" r="1.8" fill="#ff0000" fill-opacity="0.6"/>
<circle cx="235.1" cy="332.9" r="1.8" fill="#ff0000" fill-opacity="0.6"/>
<circle cx="250.2" cy="332.9" r="1.8" fill="#ff0000" fill-opacity="0.6"/>
<circle cx="251.4" cy="332.8" r="1.8" fill="#ff0000" fill-opacity="0.6"/>
<circle cx="236.4" cy="332.5" r="1.8" fill="#ff0000" fill-opacity="0.6"/>
<circle cx="228.1" cy="332.4" r="1.8" fill="#ff0000" fill-opacity="0.6"/>
<circle cx="238.2" cy="332.6" r="1.8" fill="#ff0000" fill-opacity="0.6"/>
<circle cx="251.6" cy="332.9" r="1.8" fill="#ff0000" fill-opacity="0.6"/>
<circle cx="236.8" cy="333.0" r="1.8" fill="#ff0000" fill-opacity="0.6"/>
<circle cx="230.8" cy="332.4" r="1.8" fill="#ff0000" fill-opacity="0.6"/>
<circle cx="223.8" cy="332.3" r="1.8" fill="#ff0000" fill-opacity="0.6"/>
<circle cx="245.0" cy="332.6" r="1.8" fill="#ff0000" fill-opacity="0.6"/>
<circle cx="250.2" cy="333.4" r="1.8" fill="#ff0000" fill-opacity="0.6"/>
<circle cx="253.0" cy="333.7" r="1.8" fill="#ff0000" fill-opacity="0.6"/>
<circle cx="248.4" cy="333.8" r="1.8" fill="#ff0000" fill-opacity="0.6"/>
<circle cx="224.8" cy="333.6" r="1.8" fill="#ff0000" fill-opacity="0.6"/>
<circle cx="236.0" cy="333.6" r="1.8" fill="#ff0000" fill-opacity="0.6"/>
<circle cx="253.5" cy="333.3" r="1.8" fill="#ff0000" fill-opacity="0.6"/>
<circle cx="250.7" cy="333.0" r="1.8" fill="#ff0000" fill-opacity="0.6"/>
<circle cx="243.3" cy="333.6" r="1.8" fill="#ff0000" fill-opacity="0.6"/>
<circle cx="227.9" cy="333.5" r="1.8" fill="#ff0000" fill-opacity="0.6"/>
<circle cx="248.8" cy="333.1" r="1.8" fill="#ff0000" fill-opacity="0.6"/>
<circle cx="253.4" cy="333.7" r="1.8" fill="#ff0000" fill-opacity="0.6"/>
<circle cx="245.3" cy="333.0" r="1.8" fill="#ff0000" fill-opacity="0.6"/>
<circle cx="245.3" cy="333.1" r="1.8" fill="#ff0000" fill-opacity="0.6"/>
<circle cx="238.5" cy="333.2" r="1.8" fill="#ff0000" fill-opacity="0.6"/>
<circle cx="249.6" cy="333.6" r="1.8" fill="#ff0000" fill-opacity="0.6"/>
<circle cx="242.1" cy="333.6" r="1.8" fill="#ff0000" fill-opacity="0.6"/>
<circle cx="249.2" cy="334.9" r="1.8" fill="#ff0000" fill-opacity="0.6"/>
<circle cx="252.3" cy="334.1" r="1.8" fill="#ff0000" fill-opacity="0.6"/>
<circle cx="229.4" cy="334.6" r="1.8" fill="#ff0000" fill-opacity="0.6"/>
<circle cx="244.8" cy="334.8" r="1.8" fill="#ff0000" fill-opacity="0.6"/>
<circle cx="253.8" cy="334.3" r="1.8" fill="#ff0000" fill-opacity="0.6"/>
<circle cx="239.8" cy="334.6" r="1.8" fill="#ff0000" fill-opacity="0.6"/>
<circle cx="237.0" cy="334.4" r="1.8" fill="#ff0000" fill-opacity="0.6"/>
<circle cx="227.0" cy="334.4" r="1.8" fill="#ff0000" fill-opacity="0.6"/>
<circle cx="249.0" cy="334.7" r="1.8" fill="#ff0000" fill-opacity="0.6"/>
<circle cx="253.6" cy="334.9" r="1.8" fill="#ff0000" fill-opacity="0.6"/>
<circle cx="244.5" cy="334.5" r="1.8" fill="#ff0000" fill-opacity="0.6"/>
<circle cx="253.1" cy="334.2" r="1.8" fill="#ff0000" fill-opacity="0.6"/>
<circle cx="254.0" cy="334.8" r="1.8" fill="#ff0000" fill-opacity="0.6"/>
<circle cx="226.9" cy="334.6" r="1.8" fill="#ff0000" fill-opacity="0.6"/>
<circle cx="250.0" cy="334.1" r="1.8" fill="#ff0000" fill-opacity="0.6"/>
<circle cx="241.5" cy="334.6" r="1.8" fill="#ff0000" fill-opacity="0.6"/>
<circle cx="231.5" cy="334.6" r="1.8" fill="#ff0000" fill-opacity="0.6"/>
<circle cx="247.9" cy="335.3" r="1.8" fill="#ff0000" fill-opacity="0.6"/>
<circle cx="229.0" cy="335.0" r="1.8" fill="#ff0000" fill-opacity="0.6"/>
<circle cx="235.7" cy="335.8" r="1.8" fill="#ff0000" fill-opacity="0.6"/>
<circle cx="230.6" cy="335.0" r="1.8" fill="#ff0000" fill-opacity="0.6"/>
<circle cx="243.5" cy="335.7" r="1.8" fill="#ff0000" fill-opacity="0.6"/>
<circle cx="243.8" cy="335.7" r="1.8" fill="#ff0000" fill-opacity="0.6"/>
<circle cx="252.5" cy="335.2" r="1.8" fill="#ff0000" fill-opacity="0.6"/>
<circle cx="253.8" cy="335.2" r="1.8" fill="#ff0000" fill-opacity="0.6"/>
<circle cx="234.1" cy="335.3" r="1.8" fill="#ff0000" fill-opacity="0.6"/>
<circle cx="231.2" cy="335.7" r="1.8" fill="#ff0000" fill-opacity="0.6"/>
<circle cx="249.0" cy="335.7" r="1.8" fill="#ff0000" fill-opacity="0.6"/>
<circle cx="244.2" cy="335.6" r="1.8" fill="#ff0000" fill-opacity="0.6"/>
<circle cx="241.8" cy="335.8" r="1.8" fill="#ff0000" fill-opacity="0.6"/>
<circle cx="237.6" cy="335.3" r="1.8" fill="#ff0000" fill-opacity="0.6"/>
<circle cx="250.3" cy="336.0" r="1.8" fill="#ff0000" fill-opacity="0.6"/>
<circle cx="254.3" cy="335.9" r="1.8" fill="#ff0000" fill-opacity="0.6"/>
<circle cx="249.5" cy="335.3" r="1.8" fill="#ff0000" fill-opacity="0.6"/>
<circle cx="235.8" cy="336.9" r="1.8" fill="#ff0000" fill-opacity="0.6"/>
<circle cx="230.7" cy="336.3" r="1.8" fill="#ff0000" fill-opacity="0.6"/>
<circle cx="249.9" cy="336.3" r="1.8" fill="#ff0000" fill-opacity="0.6"/>
<circle cx="239.3" cy="336.9" r="1.8" fill="#ff0000" fill-opacity="0.6"/>
<circle cx="238.1" cy="336.7" r="1.8" fill="#ff0000" fill-opacity="0.6"/>
<circle cx="244.2" cy="337.0" r="1.8" fill="#ff0000" fill-opacity="0.6"/>
<circle cx="237.2" cy="336.8" r="1.8" fill="#ff0000" fill-opacity="0.6"/>
<circle cx="245.0" cy="336.9" r="1.8" fill="#ff0000" fill-opacity="0.6"/>
<circle cx="241.0" cy="336.7" r="1.8" fill="#ff0000" fill-opacity="0.6"/>
<circle cx="250.6" cy="336.3" r="1.8" fill="#ff0000" fill-opacity="0.6"/>
<circle cx="253.6" cy="336.6" r="1.8" fill="#ff0000" fill-opacity="0.6"/>
<circle cx="252.4" cy="336.9" r="1.8" fill="#ff0000" fill-opacity="0.6"/>
<circle cx="252.8" cy="336.0" r="1.8" fill="#ff0000" fill-opacity="0.6"/>
<circle cx="247.5" cy="336.9" r="1.8" fill="#ff0000" fill-opacity="0.6"/>
<circle cx="254.2" cy="336.1" r="1.8" fill="#ff0000" fill-opacity="0.6"/>
<circle cx="236.7" cy="336.0" r="1.8" fill="#ff0000" fill-opacity="0.6"/>
<circle cx="237.0" cy="336.6" r="1.8" fill="#ff0000" fill-opacity="0.6"/>
<circle cx="240.7" cy="337.1" r="1.8" fill="#ff0000" fill-opacity="0.6"/>
<circle cx="233.9" cy="337.4" r="1.8" fill="#ff0000" fill-opacity="0.6"/>
<circle cx="232.0" cy="337.8" r="1.8" fill="#ff0000" fill-opacity="0.6"/>
<circle cx="231.9" cy="337.1" r="1.8" fill="#ff0000" fill-opacity="0.6"/>
<circle cx="230.3" cy="337.9" r="1.8" fill="#ff0000" fill-opacity="0.6"/>
<circle cx="251.1" cy="337.1" r="1.8" fill="#ff0000" fill-opacity="0.6"/>
<circle cx="254.5" cy="337.1" r="1.8" fill="#ff0000" fill-opacity="0.6"/>
<circle cx="234.5" cy="337.8" r="1.8" fill="#ff0000" fill-opacity="0.6"/>
<circle cx="233.9" cy="337.6" r="1.8" fill="#ff0000" fill-opacity="0.6"/>
<circle cx="249.4" cy="337.6" r="1.8" fill="#ff0000" fill-opacity="0.6"/>
<circle cx="253.4" cy="337.1" r="1.8" fill="#ff0000" fill-opacity="0.6"/>
<circle cx="251.4" cy="337.8" r="1.8" fill="#ff0000" fill-opacity="0.6"/>
<circle cx="245.7" cy="337.3" r="1.8" fill="#ff0000" fill-opacity="0.6"/>
<circle cx="249.8" cy="337.0" r="1.8" fill="#ff0000" fill-opacity="0.6"/>
<circle cx="237.0" cy="337.3" r="1.8" fill="#ff0000" fill-opacity="0.6"/>
<circle cx="248.4" cy="337.4" r="1.8" fill="#ff0000" fill-opacity="0.6"/>
<circle cx="243.9" cy="338.0" r="1.8" fill="#ff0000" fill-opacity="0.6"/>
<circle cx="255.0" cy="338.6" r="1.8" fill="#ff0000" fill-opacity="0.6"/>
<circle cx="246.0" cy="338.4" r="1.8" fill="#ff0000" fill-opacity="0.6"/>
<circle cx="248.5" cy="338.8" r="1.8" fill="#ff0000" fill-opacity="0.6"/>
<circle cx="243.4" cy="338.7" r="1.8" fill="#ff0000" fill-opacity="0.6"/>
<circle cx="233.3" cy="338.2" r="1.8" fill="#ff0000" fill-opacity="0.6"/>
<circle cx="234.5" cy="338.1" r="1.8" fill="#ff0000" fill-opacity="0.6"/>
<circle cx="255.2" cy="338.2" r="1.8" fill="#ff0000" fill-opacity="0.6"/>
<circle cx="236.4" cy="338.2" r="1.8" fill="#ff0000" fill-opacity="0.6"/>
<circle cx="255.4" cy="339.0" r="1.8" fill="#ff0000" fill-opacity="0.6"/>
<circle cx="244.6" cy="338.5" r="1.8" fill="#ff0000" fill-opacity="0.6"/>
<circle cx="252.3" cy="338.8" r="1.8" fill="#ff0000" fill-opacity="0.6"/>
<circle cx="248.4" cy="338.5" r="1.8" fill="#ff0000" fill-opacity="0.6"/>
<circle cx="250.6" cy="338.8" r="1.8" fill="#ff0000" fill-opacity="0.6"/>
<circle cx="250.1" cy="338.9" r="1.8" fill="#ff0000" fill-opacity="0.6"/>
<circle cx="238.4" cy="338.2" r="1.8" fill="#ff0000" fill-opacity="0.6"/>
<circle cx="253.7" cy="338.5" r="1.8" fill="#ff0000" fill-opacity="0.6"/>
<circle cx="236.5" cy="339.1" r="1.8" fill="#ff0000" fill-opacity="0.6"/>
<circle cx="237.1" cy="339.7" r="1.8" fill="#ff0000" fill-opacity="0.6"/>
<circle cx="248.8" cy="339.6" r="1.8" fill="#ff0000" fill-opacity="0.6"/>
<circle cx="247.7" cy="339.4" r="1.8" fill="#ff0000" fill-opacity="0.6"/>
<circle cx="254.6" cy="339.9" r="1.8" fill="#ff0000" fill-opacity="0.6"/>
<circle cx="255.5" cy="339.9" r="1.8" fill="#ff0000" fill-opacity="0.6"/>
<circle cx="250.7" cy="339.2" r="1.8" fill="#ff0000" fill-opacity="0.6"/>
<circle cx="245.3" cy="339.9" r="1.8" fill="#ff0000" fill-opacity="0.6"/>
<circle cx="233.9" cy="339.4" r="1.8" fill="#ff0000" fill-opacity="0.6"/>
<circle cx="245.9" cy="339.2" r="1.8" fill="#ff0000" fill-opacity="0.6"/>
<circle cx="237.9" cy="339.5" r="1.8" fill="#ff0000" fill-opacity="0.6"/>
<circle cx="241.2" cy="339.8" r="1.8" fill="#ff0000" fill-opacity="0.6"/>
<circle cx="249.3" cy="339.3" r="1.8" fill="#ff0000" fill-opacity="0.6"/>
<circle cx="234.9" cy="339.2" r="1.8" fill="#ff0000" fill-opacity="0.6"/>
<circle cx="238.4" cy="339.7" r="1.8" fill="#ff0000" fill-opacity="0.6"/>
<circle cx="246.4" cy="339.2" r="1.8" fill="#ff0000" fill-opacity="0.6"/>
<circle cx="254.2" cy="340.6" r="1.8" fill="#ff0000" fill-opacity="0.6"/>
<circle cx="235.2" cy="340.5" r="1.8" fill="#ff0000" fill-opacity="0.6"/>
<circle cx="252.8" cy="340.2" r="1.8" fill="#ff0000" fill-opacity="0.6"/>
<circle cx="240.2" cy="340.3" r="1.8" fill="#ff0000" fill-opacity="0.6"/>
<circle cx="253.8" cy="340.8" r="1.8" fill="#ff0000" fill-opacity="0.6"/>
<circle cx="251.6" cy="340.2" r="1.8" fill="#ff0000" fill-opacity="0.6"/>
<circle cx="245.1" cy="340.3" r="1.8" fill="#ff0000" fill-opacity="0.6"/>
<circle cx="249.8" cy="340.2" r="1.8" fill="#ff0000" fill-opacity="0.6"/>
<circle cx="232.1" cy="340.2" r="1.8" fill="#ff0000" fill-opacity="0.6"/>
<circle cx="254.7" cy="340.7" r="1.8" fill="#ff0000" fill-opacity="0.6"/>
<circle cx="254.8" cy="341.0" r="1.8" fill="#ff0000" fill-opacity="0.6"/>
<circle cx="232.1" cy="340.4" r="1.8" fill="#ff0000" fill-opacity="0.6"/>
<circle cx="240.0" cy="340.8" r="1.8" fill="#ff0000" fill-opacity="0.6"/>
<circle cx="252.8" cy="340.4" r="1.8" fill="#ff0000" fill-opacity="0.6"/>
<circle cx="254.6" cy="340.6" r="1.8" fill="#ff0000" fill-opacity="0.6"/>
<circle cx="248.4" cy="340.2" r="1.8" fill="#ff0000" fill-opacity="0.6"/>
<circle cx="239.2" cy="341.4" r="1.8" fill="#ff0000" fill-opacity="0.6"/>
<circle cx="246.9" cy="341.7" r="1.8" fill="#ff0000" fill-opacity="0.6"/>
<circle cx="247.8" cy="341.6" r="1.8" fill="#ff0000" fill-opacity="0.6"/>
<circle cx="243.8" cy="341.1" r="1.8" fill="#ff0000" fill-opacity="0.6"/>
<circle cx="240.5" cy="341.4" r="1.8" fill="#ff0000" fill-opacity="0.6"/>
<circle cx="248.8" cy="341.9" r="1.8" fill="#ff0000" fill-opacity="0.6"/>
<circle cx="240.5" cy="341.6" r="1.8" fill="#ff0000" fill-opacity="0.6"/>
<circle cx="252.7" cy="341.4" r="1.8" fill="#ff0000" fill-opacity="0.6"/>
<circle cx="237.2" cy="341.7" r="1.8" fill="#ff0000" fill-opacity="0.6"/>
<circle cx="242.1" cy="341.8" r="1.8" fill="#ff0000" fill-opacity="0.6"/>
<circle cx="242.7" cy="341.9" r="1.8" fill="#ff0000" fill-opacity="0.6"/>
<circle cx="248.0" cy="341.6" r="1.8" fill="#ff0000" fill-opacity="0.6"/>
<circle cx="243.4" cy="341.3" r="1.8" fill="#ff0000" fill-opacity="0.6"/>
<circle cx="248.3" cy="341.1" r="1.8" fill="#ff0000" fill-opacity="0.6"/>
<circle cx="241.7" cy="341.8" r="1.8" fill="#ff0000" fill-opacity="0.6"/>
<circle cx="252.4" cy="341.6" r="1.8" fill="#ff0000" fill-opacity="0.6"/>
<circle cx="244.8" cy="342.5" r="1.8" fill="#ff0000" fill-opacity="0.6"/>
<circle cx="243.5" cy="342.4" r="1.8" fill="#ff0000" fill-opacity="0.6"/>
<circle cx="254.4" cy="342.9" r="1.8" fill="#ff0000" fill-opacity="0.6"/>
<circle cx="241.2" cy="342.7" r="1.8" fill="#ff0000" fill-opacity="0.6"/>
<circle cx="247.8" cy="342.4" r="1.8" fill="#ff0000" fill-opacity="0.6"/>
<circle cx="256.6" cy="343.0" r="1.8" fill="#ff0000" fill-opacity="0.6"/>
<circle cx="254.6" cy="342.5" r="1.8" fill="#ff0000" fill-opacity="0.6"/>
<circle cx="237.2" cy="342.8" r="1.8" fill="#ff0000" fill-opacity="0.6"/>
<circle cx="255.6" cy="342.5" r="1.8" fill="#ff0000" fill-opacity="0.6"/>
<circle cx="246.8" cy="342.6" r="1.8" fill="#ff0000" fill-opacity="0.6"/>
<circle cx="247.6" cy="342.7" r="1.8" fill="#ff0000" fill-opacity="0.6"/>
<circle cx="239.9" cy="342.6" r="1.8" fill="#ff0000" fill-opacity="0.6"/>
<circle cx="249.7" cy="342.5" r="1.8" fill="#ff0000" fill-opacity="0.6"/>
<circle cx="254.0" cy="342.9" r="1.8" fill="#ff0000" fill-opacity="0.6"/>
<circle cx="250.2" cy="342.7" r="1.8" fill="#ff0000" fill-opacity="0.6"/>
<circle cx="299.6" cy="256.1" r="1.8" fill="#ff0000" fill-opacity="0.6"/>
<circle cx="284.3" cy="257.1" r="1.8" fill="#ff0000" fill-opacity="0.6"/>
<circle cx="281.3" cy="257.4" r="1.8" fill="#ff0000" fill-opacity="0.6"/>
<circle cx="292.0" cy="258.4" r="1.8" fill="#ff0000" fill-opacity="0.6"/>
<circle cx="283.9" cy="258.4" r="1.8" fill="#ff0000" fill-opacity="0.6"/>
<circle cx="297.2" cy="259.7" r="1.8" fill="#ff0000" fill-opacity="0.6"/>
<circle cx="283.0" cy="259.5" r="1.8" fill="#ff0000" fill-opacity="0.6"/>
<circle cx="282.7" cy="260.4" r="1.8" fill="#ff0000" fill-opacity="0.6"/>
<circle cx="293.2" cy="260.1" r="1.8" fill="#ff0000" fill-opacity="0.6"/>
<circle cx="286.5" cy="261.6" r="1.8" fill="#ff0000" fill-opacity="0.6"/>
<circle cx="282.6" cy="261.6" r="1.8" fill="#ff0000" fill-opacity="0.6"/>
<circle cx="289.6" cy="262.4" r="1.8" fill="#ff0000" fill-opacity="0.6"/>
<circle cx="285.9" cy="263.8" r="1.8" fill="#ff0000" fill-opacity="0.6"/>
<circle cx="287.6" cy="263.3" r="1.8" fill="#ff0000" fill-opacity="0.6"/>
<circle cx="283.8" cy="264.8" r="1.8" fill="#ff0000" fill-opacity="0.6"/>
<circle cx="282.5" cy="264.9" r="1.8" fill="#ff0000" fill-opacity="0.6"/>
<circle cx="284.9" cy="265.3" r="1.8" fill="#ff0000" fill-opacity="0.6"/>
<circle cx="279.7" cy="265.2" r="1.8" fill="#ff0000" fill-opacity="0.6"/>
<circle cx="281.9" cy="266.3" r="1.8" fill="#ff0000" fill-opacity="0.6"/>
<circle cx="285.5" cy="266.3" r="1.8" fill="#ff0000" fill-opacity="0.6"/>
<circle cx="288.5" cy="267.6" r="1.8" fill="#ff0000" fill-opacity="0.6"/>
<circle cx="294.3" cy="267.4" r="1.8" fill="#ff0000" fill-opacity="0.6"/>
<circle cx="291.9" cy="268.1" r="1.8" fill="#ff0000" fill-opacity="0.6"/>
<circle cx="290.7" cy="268.9" r="1.8" fill="#ff0000" fill-opacity="0.6"/>
<circle cx="287.4" cy="269.8" r="1.8" fill="#ff0000" fill-opacity="0.6"/>
<circle cx="279.0" cy="269.0" r="1.8" fill="#ff0000" fill-opacity="0.6"/>
<circle cx="287.8" cy="270.0" r="1.8" fill="#ff0000" fill-opacity="0.6"/>
<circle cx="279.9" cy="270.1" r="1.8" fill="#ff0000" fill-opacity="0.6"/>
<circle cx="290.1" cy="270.2" r="1.8" fill="#ff0000" fill-opacity="0.6"/>
<circle cx="279.9" cy="270.3" r="1.8" fill="#ff0000" fill-opacity="0.6"/>
<circle cx="280.0" cy="271.8" r="1.8" fill="#ff0000" fill-opacity="0.6"/>
<circle cx="286.6" cy="271.9" r="1.8" fill="#ff0000" fill-opacity="0.6"/>
<circle cx="292.0" cy="272.7" r="1.8" fill="#ff0000" fill-opacity="0.6"/>
<circle cx="290.8" cy="272.8" r="1.8" fill="#ff0000" fill-opacity="0.6"/>
<circle cx="285.0" cy="273.7" r="1.8" fill="#ff0000" fill-opacity="0.6"/>
<circle cx="283.5" cy="273.7" r="1.8" fill="#ff0000" fill-opacity="0.6"/>
<circle cx="285.3" cy="273.9" r="1.8" fill="#ff0000" fill-opacity="0.6"/>
<circle cx="279.6" cy="274.2" r="1.8" fill="#ff0000" fill-opacity="0.6"/>
<circle cx="278.9" cy="274.5" r="1.8" fill="#ff0000" fill-opacity="0.6"/>
<circle cx="279.6" cy="274.5" r="1.8" fill="#ff0000" fill-opacity="0.6"/>
<circle cx="284.9" cy="275.5" r="1.8" fill="#ff0000" fill-opacity="0.6"/>
<circle cx="278.6" cy="275.9" r="1.8" fill="#ff0000" fill-opacity="0.6"/>
<circle cx="283.7" cy="275.8" r="1.8" fill="#ff0000" fill-opacity="0.6"/>
<circle cx="290.0" cy="276.7" r="1.8" fill="#ff0000" fill-opacity="0.6"/>
<circle cx="282.9" cy="276.4" r="1.8" fill="#ff0000" fill-opacity="0.6"/>
<circle cx="278.9" cy="277.0" r="1.8" fill="#ff0000" fill-opacity="0.6"/>
<circle cx="278.6" cy="277.6" r="1.8" fill="#ff0000" fill-opacity="0.6"/>
<circle cx="286.9" cy="277.6" r="1.8" fill="#ff0000" fill-opacity="0.6"/>
<circle cx="281.5" cy="277.9" r="1.8" fill="#ff0000" fill-opacity="0.6"/>
<circle cx="283.6" cy="278.5" r="1.8" fill="#ff0000" fill-opacity="0.6"/>
<circle cx="278.6" cy="278.9" r="1.8" fill="#ff0000" fill-opacity="0.6"/>
<circle cx="285.8" cy="278.7" r="1.8" fill="#ff0000" fill-opacity="0.6"/>
<circle cx="281.8" cy="279.9" r="1.8" fill="#ff0000" fill-opacity="0.6"/>
<circle cx="284.1" cy="279.5" r="1.8" fill="#ff0000" fill-opacity="0.6"/>
<circle cx="280.0" cy="279.8" r="1.8" fill="#ff0000" fill-opacity="0.6"/>
<circle cx="284.4" cy="280.4" r="1.8" fill="#ff0000" fill-opacity="0.6"/>
<circle cx="280.8" cy="280.8" r="1.8" fill="#ff0000" fill-opacity="0.6"/>
<circle cx="282.2" cy="280.8" r="1.8" fill="#ff0000" fill-opacity="0.6"/>
<circle cx="283.6" cy="281.3" r="1.8" fill="#ff0000" fill-opacity="0.6"/>
<circle cx="285.7" cy="282.0" r="1.8" fill="#ff0000" fill-opacity="0.6"/>
<circle cx="281.2" cy="281.8" r="1.8" fill="#ff0000" fill-opacity="0.6"/>
<circle cx="284.6" cy="282.3" r="1.8" fill="#ff0000" fill-opacity="0.6"/>
<circle cx="287.7" cy="282.6" r="1.8" fill="#ff0000" fill-opacity="0.6"/>
<circle cx="286.8" cy="282.0" r="1.8" fill="#ff0000" fill-opacity="0.6"/>
<circle cx="278.5" cy="283.5" r="1.8" fill="#ff0000" fill-opacity="0.6"/>
<circle cx="278.3" cy="283.3" r="1.8" fill="#ff0000" fill-opacity="0.6"/>
<circle cx="290.0" cy="283.2" r="1.8" fill="#ff0000" fill-opacity="0.6"/>
<circle cx="287.4" cy="284.7" r="1.8" fill="#ff0000" fill-opacity="0.6"/>
<circle cx="284.6" cy="284.9" r="1.8" fill="#ff0000" fill-opacity="0.6"/>
<circle cx="284.9" cy="284.6" r="1.8" fill="#ff0000" fill-opacity="0.6"/>
<circle cx="285.5" cy="285.6" r="1.8" fill="#ff0000" fill-opacity="0.6"/>
<circle cx="285.4" cy="285.2" r="1.8" fill="#ff0000" fill-opacity="0.6"/>
<circle cx="286.8" cy="285.5" r="1.8" fill="#ff0000" fill-opacity="0.6"/>
<circle cx="278.3" cy="286.2" r="1.8" fill="#ff0000" fill-opacity="0.6"/>
<circle cx="288.9" cy="286.8" r="1.8" fill="#ff0000" fill-opacity="0.6"/>
<circle cx="281.2" cy="286.7" r="1.8" fill="#ff0000" fill-opacity="0.6"/>
<circle cx="286.9" cy="286.8" r="1.8" fill="#ff0000" fill-opacity="0.6"/>
<circle cx="280.4" cy="287.3" r="1.8" fill="#ff0000" fill-opacity="0.6"/>
<circle cx="280.5" cy="287.4" r="1.8" fill="#ff0000" fill-opacity="0.6"/>
<circle cx="284.6" cy="287.4" r="1.8" fill="#ff0000" fill-opacity="0.6"/>
<circle cx="283.5" cy="288.1" r="1.8" fill="#ff0000" fill-opacity="0.6"/>
<circle cx="278.7" cy="288.0" r="1.8" fill="#ff0000" fill-opacity="0.6"/>
<circle cx="283.5" cy="288.8" r="1.8" fill="#ff0000" fill-opacity="0.6"/>
<circle cx="278.1" cy="289.4" r="1.8" fill="#ff0000" fill-opacity="0.6"/>
<circle cx="283.6" cy="289.4" r="1.8" fill="#ff0000" fill-opacity="0.6"/>
<circle cx="289.2" cy="289.9" r="1.8" fill="#ff0000" fill-opacity="0.6"/>
<circle cx="278.4" cy="290.4" r="1.8" fill="#ff0000" fill-opacity="0.6"/>
<circle cx="279.2" cy="290.6" r="1.8" fill="#ff0000" fill-opacity="0.6"/>
<circle cx="278.0" cy="290.2" r="1.8" fill="#ff0000" fill-opacity="0.6"/>
<circle cx="284.8" cy="290.0" r="1.8" fill="#ff0000" fill-opacity="0.6"/>
<circle cx="278.1" cy="292.0" r="1.8" fill="#ff0000" fill-opacity="0.6"/>
<circle cx="278.4" cy="291.9" r="1.8" fill="#ff0000" fill-opacity="0.6"/>
<circle cx="285.1" cy="291.0" r="1.8" fill="#ff0000" fill-opacity="0.6"/>
<circle cx="285.3" cy="291.2" r="1.8" fill="#ff0000" fill-opacity="0.6"/>
<circle cx="285.8" cy="292.1" r="1.8" fill="#ff0000" fill-opacity="0.6"/>
<circle cx="286.9" cy="292.7" r="1.8" fill="#ff0000" fill-opacity="0.6"/>
<circle cx="278.0" cy="292.7" r="1.8" fill="#ff0000" fill-opacity="0.6"/>
<circle cx="284.7" cy="292.6" r="1.8" fill="#ff0000" fill-opacity="0.6"/>
<circle cx="279.1" cy="293.9" r="1.8" fill="#ff0000" fill-opacity="0.6"/>
<circle cx="284.7" cy="294.0" r="1.8" fill="#ff0000" fill-opacity="0.6"/>
<circle cx="277.6" cy="293.0" r="1.8" fill="#ff0000" fill-opacity="0.6"/>
<circle cx="286.2" cy="293.7" r="1.8" fill="#ff0000" fill-opacity="0.6"/>
<circle cx="284.8" cy="294.3" r="1.8" fill="#ff0000" fill-opacity="0.6"/>
<circle cx="286.8" cy="294.2" r="1.8" fill="#ff0000" fill-opacity="0.6"/>
<circle cx="277.6" cy="294.5" r="1.8" fill="#ff0000" fill-opacity="0.6"/>
<circle cx="282.7" cy="294.4" r="1.8" fill="#ff0000" fill-opacity="0.6"/>
<circle cx="277.9" cy="295.7" r="1.8" fill="#ff0000" fill-opacity="0.6"/>
<circle cx="280.0" cy="295.8" r="1.8" fill="#ff0000" fill-opacity="0.6"/>
<circle cx="283.2" cy="295.6" r="1.8" fill="#ff0000" fill-opacity="0.6"/>
<circle cx="280.3" cy="295.4" r="1.8" fill="#ff0000" fill-opacity="0.6"/>
<circle cx="285.2" cy="296.9" r="1.8" fill="#ff0000" fill-opacity="0.6"/>
<circle cx="279.1" cy="296.6" r="1.8" fill="#ff0000" fill-opacity="0.6"/>
<circle cx="288.3" cy="296.1" r="1.8" fill="#ff0000" fill-opacity="0.6"/>
<circle cx="285.9" cy="296.7" r="1.8" fill="#ff0000" fill-opacity="0.6"/>
<circle cx="288.1" cy="297.6" r="1.8" fill="#ff0000" fill-opacity="0.6"/>
<circle cx="282.5" cy="297.8" r="1.8" fill="#ff0000" fill-opacity="0.6"/>
<circle cx="280.5" cy="297.3" r="1.8" fill="#ff0000" fill-opacity="0.6"/>
<circle cx="279.8" cy="297.9" r="1.8" fill="#ff0000" fill-opacity="0.6"/>
<circle cx="286.7" cy="298.6" r="1.8" fill="#ff0000" fill-opacity="0.6"/>
<circle cx="278.7" cy="298.8" r="1.8" fill="#ff0000" fill-opacity="0.6"/>
<circle cx="278.6" cy="298.0" r="1.8" fill="#ff0000" fill-opacity="0.6"/>
<circle cx="282.3" cy="298.4" r="1.8" fill="#ff0000" fill-opacity="0.6"/>
<circle cx="276.7" cy="299.9" r="1.8" fill="#ff0000" fill-opacity="0.6"/>
<circle cx="285.2" cy="299.8" r="1.8" fill="#ff0000" fill-opacity="0.6"/>
<circle cx="281.9" cy="299.9" r="1.8" fill="#ff0000" fill-opacity="0.6"/>
<circle cx="285.9" cy="299.3" r="1.8" fill="#ff0000" fill-opacity="0.6"/>
<circle cx="286.7" cy="300.7" r="1.8" fill="#ff0000" fill-opacity="0.6"/>
<circle cx="276.9" cy="300.3" r="1.8" fill="#ff0000" fill-opacity="0.6"/>
<circle cx="284.9" cy="300.6" r="1.8" fill="#ff0000" fill-opacity="0.6"/>
<circle cx="284.3" cy="300.2" r="1.8" fill="#ff0000" fill-opacity="0.6"/>
<circle cx="282.1" cy="301.2" r="1.8" fill="#ff0000" fill-opacity="0.6"/>
<circle cx="280.3" cy="301.7" r="1.8" fill="#ff0000" fill-opacity="0.6"/>
<circle cx="278.1" cy="301.2" r="1.8" fill="#ff0000" fill-opacity="0.6"/>
<circle cx="284.7" cy="301.8" r="1.8" fill="#ff0000" fill-opacity="0.6"/>
<circle cx="284.9" cy="302.1" r="1.8" fill="#ff0000" fill-opacity="0.6"/>
<circle cx="277.6" cy="302.8" r="1.8" fill="#ff0000" fill-opacity="0.6"/>
<circle cx="286.2" cy="302.6" r="1.8" fill="#ff0000" fill-opacity="0.6"/>
<circle cx="280.8" cy="302.9" r="1.8" fill="#ff0000" fill-opacity="0.6"/>
<circle cx="277.1" cy="303.6" r="1.8" fill="#ff0000" fill-opacity="0.6"/>
<circle cx="277.1" cy="303.2" r="1.8" fill="#ff0000" fill-opacity="0.6"/>
<circle cx="278.8" cy="303.7" r="1.8" fill="#ff0000" fill-opacity="0.6"/>
<circle cx="279.3" cy="303.6" r="1.8" fill="#ff0000" fill-opacity="0.6"/>
<circle cx="276.1" cy="304.1" r="1.8" fill="#ff0000" fill-opacity="0.6"/>
<circle cx="278.8" cy="305.0" r="1.8" fill="#ff0000" fill-opacity="0.6"/>
<circle cx="282.1" cy="304.1" r="1.8" fill="#ff0000" fill-opacity="0.6"/>
<circle cx="276.7" cy="304.8" r="1.8" fill="#ff0000" fill-opacity="0.6"/>
<circle cx="278.5" cy="304.6" r="1.8" fill="#ff0000" fill-opacity="0.6"/>
<circle cx="275.9" cy="305.0" r="1.8" fill="#ff0000" fill-opacity="0.6"/>
<circle cx="285.2" cy="306.0" r="1.8" fill="#ff0000" fill-opacity="0.6"/>
<circle cx="281.0" cy="305.5" r="1.8" fill="#ff0000" fill-opacity="0.6"/>
<circle cx="284.0" cy="305.3" r="1.8" fill="#ff0000" fill-opacity="0.6"/>
<circle cx="286.6" cy="305.4" r="1.8" fill="#ff0000" fill-opacity="0.6"/>
<circle cx="286.6" cy="306.8" r="1.8" fill="#ff0000" fill-opacity="0.6"/>
<circle cx="275.5" cy="306.3" r="1.8" fill="#ff0000" fill-opacity="0.6"/>
<circle cx="276.5" cy="306.2" r="1.8" fill="#ff0000" fill-opacity="0.6"/>
<circle cx="275.7" cy="306.1" r="1.8" fill="#ff0000" fill-opacity="0.6"/>
<circle cx="285.2" cy="306.6" r="1.8" fill="#ff0000" fill-opacity="0.6"/>
<circle cx="285.6" cy="307.9" r="1.8" fill="#ff0000" fill-opacity="0.6"/>
<circle cx="281.0" cy="307.1" r="1.8" fill="#ff0000" fill-opacity="0.6"/>
<circle cx="275.7" cy="307.4" r="1.8" fill="#ff0000" fill-opacity="0.6"/>
<circle cx="276.7" cy="308.0" r="1.8" fill="#ff0000" fill-opacity="0.6"/>
<circle cx="281.5" cy="307.6" r="1.8" fill="#ff0000" fill-opacity="0.6"/>
<circle cx="278.0" cy="308.7" r="1.8" fill="#ff0000" fill-opacity="0.6"/>
<circle cx="275.7" cy="308.4" r="1.8" fill="#ff0000" fill-opacity="0.6"/>
<circle cx="286.8" cy="309.0" r="1.8" fill="#ff0000" fill-opacity="0.6"/>
<circle cx="275.0" cy="308.2" r="1.8" fill="#ff0000" fill-opacity="0.6"/>
<circle cx="277.7" cy="308.3" r="1.8" fill="#ff0000" fill-opacity="0.6"/>
<circle cx="284.1" cy="309.9" r="1.8" fill="#ff0000" fill-opacity="0.6"/>
<circle cx="283.4" cy="309.0" r="1.8" fill="#ff0000" fill-opacity="0.6"/>
<circle cx="281.2" cy="309.7" r="1.8" fill="#ff0000" fill-opacity="0.6"/>
<circle cx="274.5" cy="310.0" r="1.8" fill="#ff0000" fill-opacity="0.6"/>
<circle cx="282.9" cy="309.1" r="1.8" fill="#ff0000" fill-opacity="0.6"/>
<circle cx="276.4" cy="310.7" r="1.8" fill="#ff0000" fill-opacity="0.6"/>
<circle cx="282.7" cy="310.6" r="1.8" fill="#ff0000" fill-opacity="0.6"/>
<circle cx="276.9" cy="310.1" r="1.8" fill="#ff0000" fill-opacity="0.6"/>
<circle cx="274.9" cy="310.3" r="1.8" fill="#ff0000" fill-opacity="0.6"/>
<circle cx="275.2" cy="310.5" r="1.8" fill="#ff0000" fill-opacity="0.6"/>
<circle cx="281.3" cy="311.1" r="1.8" fill="#ff0000" fill-opacity="0.6"/>
<circle cx="282.0" cy="311.0" r="1.8" fill="#ff0000" fill-opacity="0.6"/>
<circle cx="274.1" cy="311.2" r="1.8" fill="#ff0000" fill-opacity="0.6"/>
<circle cx="275.3" cy="311.9" r="1.8" fill="#ff0000" fill-opacity="0.6"/>
<circle cx="284.2" cy="311.9" r="1.8" fill="#ff0000" fill-opacity="0.6"/>
<circle cx="274.6" cy="311.9" r="1.8" fill="#ff0000" fill-opacity="0.6"/>
<circle cx="285.3" cy="312.1" r="1.8" fill="#ff0000" fill-opacity="0.6"/>
<circle cx="280.2" cy="312.8" r="1.8" fill="#ff0000" fill-opacity="0.6"/>
<circle cx="276.4" cy="312.5" r="1.8" fill="#ff0000" fill-opacity="0.6"/>
<circle cx="278.1" cy="312.8" r="1.8" fill="#ff0000" fill-opacity="0.6"/>
<circle cx="274.4" cy="312.6" r="1.8" fill="#ff0000" fill-opacity="0.6"/>
<circle cx="273.9" cy="312.2" r="1.8" fill="#ff0000" fill-opacity="0.6"/>
<circle cx="274.1" cy="313.6" r="1.8" fill="#ff0000" fill-opacity="0.6"/>
<circle cx="275.2" cy="313.9" r="1.8" fill="#ff0000" fill-opacity="0.6"/>
<circle cx="274.2" cy="313.4" r="1.8" fill="#ff0000" fill-opacity="0.6"/>
<circle cx="283.6" cy="313.3" r="1.8" fill="#ff0000" fill-opacity="0.6"/>
<circle cx="274.4" cy="313.3" r="1.8" fill="#ff0000" fill-opacity="0.6"/>
<circle cx="275.9" cy="313.5" r="1.8" fill="#ff0000" fill-opacity="0.6"/>
<circle cx="285.9" cy="314.1" r="1.8" fill="#ff0000" fill-opacity="0.6"/>
<circle cx="284.4" cy="314.1" r="1.8" fill="#ff0000" fill-opacity="0.6"/>
<circle cx="274.4" cy="314.7" r="1.8" fill="#ff0000" fill-opacity="0.6"/>
<circle cx="275.3" cy="314.5" r="1.8" fill="#ff0000" fill-opacity="0.6"/>
<circle cx="274.4" cy="314.3" r="1.8" fill="#ff0000" fill-opacity="0.6"/>
<circle cx="286.1" cy="314.4" r="1.8" fill="#ff0000" fill-opacity="0.6"/>
<circle cx="273.0" cy="315.9" r="1.8" fill="#ff0000" fill-opacity="0.6"/>
<circle cx="284.2" cy="315.3" r="1.8" fill="#ff0000" fill-opacity="0.6"/>
<circle cx="281.3" cy="315.1" r="1.8" fill="#ff0000" fill-opacity="0.6"/>
<circle cx="285.7" cy="315.3" r="1.8" fill="#ff0000" fill-opacity="0.6"/>
<circle cx="282.7" cy="315.0" r="1.8" fill="#ff0000" fill-opacity="0.6"/>
<circle cx="273.6" cy="315.3" r="1.8" fill="#ff0000" fill-opacity="0.6"/>
<circle cx="277.8" cy="316.8" r="1.8" fill="#ff0000" fill-opacity="0.6"/>
<circle cx="276.7" cy="316.2" r="1.8" fill="#ff0000" fill-opacity="0.6"/>
<circle cx="273.9" cy="316.9" r="1.8" fill="#ff0000" fill-opacity="0.6"/>
<circle cx="273.2" cy="316.6" r="1.8" fill="#ff0000" fill-opacity="0.6"/>
<circle cx="281.9" cy="316.2" r="1.8" fill="#ff0000" fill-opacity="0.6"/>
<circle cx="273.7" cy="316.7" r="1.8" fill="#ff0000" fill-opacity="0.6"/>
<circle cx="272.9" cy="316.1" r="1.8" fill="#ff0000" fill-opacity="0.6"/>
<circle cx="274.3" cy="317.5" r="1.8" fill="#ff0000" fill-opacity="0.6"/>
<circle cx="279.1" cy="317.2" r="1.8" fill="#ff0000" fill-opacity="0.6"/>
<circle cx="282.3" cy="317.7" r="1.8" fill="#ff0000" fill-opacity="0.6"/>
<circle cx="273.5" cy="317.6" r="1.8" fill="#ff0000" fill-opacity="0.6"/>
<circle cx="281.1" cy="317.1" r="1.8" fill="#ff0000" fill-opacity="0.6"/>
<circle cx="280.8" cy="317.4" r="1.8" fill="#ff0000" fill-opacity="0.6"/>
<circle cx="282.4" cy="317.1" r="1.8" fill="#ff0000" fill-opacity="0.6"/>
<circle cx="283.1" cy="318.8" r="1.8" fill="#ff0000" fill-opacity="0.6"/>
<circle cx="271.8" cy="318.5" r="1.8" fill="#ff0000" fill-opacity="0.6"/>
<circle cx="276.6" cy="318.9" r="1.8" fill="#ff0000" fill-opacity="0.6"/>
<circle cx="273.8" cy="318.9" r="1.8" fill="#ff0000" fill-opacity="0.6"/>
<circle cx="282.6" cy="318.2" r="1.8" fill="#ff0000" fill-opacity="0.6"/>
<circle cx="272.9" cy="318.4" r="1.8" fill="#ff0000" fill-opacity="0.6"/>
<circle cx="278.5" cy="318.4" r="1.8" fill="#ff0000" fill-opacity="0.6"/>
<circle cx="276.0" cy="319.5" r="1.8" fill="#ff0000" fill-opacity="0.6"/>
<circle cx="272.2" cy="319.5" r="1.8" fill="#ff0000" fill-opacity="0.6"/>
<circle cx="282.0" cy="319.7" r="1.8" fill="#ff0000" fill-opacity="0.6"/>
<circle cx="274.2" cy="319.9" r="1.8" fill="#ff0000" fill-opacity="0.6"/>
<circle cx="275.1" cy="319.7" r="1.8" fill="#ff0000" fill-opacity="0.6"/>
<circle cx="271.7" cy="319.8" r="1.8" fill="#ff0000" fill-opacity="0.6"/>
<circle cx="284.6" cy="319.9" r="1.8" fill="#ff0000" fill-opacity="0.6"/>
<circle cx="277.0" cy="319.5" r="1.8" fill="#ff0000" fill-opacity="0.6"/>
<circle cx="271.2" cy="320.5" r="1.8" fill="#ff0000" fill-opacity="0.6"/>
<circle cx="272.8" cy="321.0" r="1.8" fill="#ff0000" fill-opacity="0.6"/>
<circle cx="271.8" cy="320.2" r="1.8" fill="#ff0000" fill-opacity="0.6"/>
<circle cx="282.0" cy="320.3" r="1.8" fill="#ff0000" fill-opacity="0.6"/>
<circle cx="271.8" cy="320.0" r="1.8" fill="#ff0000" fill-opacity="0.6"/>
<circle cx="272.5" cy="320.7" r="1.8" fill="#ff0000" fill-opacity="0.6"/>
<circle cx="278.2" cy="320.0" r="1.8" fill="#ff0000" fill-opacity="0.6"/>
<circle cx="279.7" cy="321.5" r="1.8" fill="#ff0000" fill-opacity="0.6"/>
<circle cx="282.9" cy="321.1" r="1.8" fill="#ff0000" fill-opacity="0.6"/>
<circle cx="271.0" cy="321.7" r="1.8" fill="#ff0000" fill-opacity="0.6"/>
<circle cx="276.3" cy="321.1" r="1.8" fill="#ff0000" fill-opacity="0.6"/>
<circle cx="273.3" cy="321.5" r="1.8" fill="#ff0000" fill-opacity="0.6"/>
<circle cx="275.1" cy="321.1" r="1.8" fill="#ff0000" fill-opacity="0.6"/>
<circle cx="277.9" cy="321.1" r="1.8" fill="#ff0000" fill-opacity="0.6"/>
<circle cx="277.4" cy="322.1" r="1.8" fill="#ff0000" fill-opacity="0.6"/>
<circle cx="271.7" cy="322.7" r="1.8" fill="#ff0000" fill-opacity="0.6"/>
<circle cx="284.0" cy="322.8" r="1.8" fill="#ff0000" fill-opacity="0.6"/>
<circle cx="275.0" cy="322.4" r="1.8" fill="#ff0000" fill-opacity="0.6"/>
<circle cx="276.5" cy="322.8" r="1.8" fill="#ff0000" fill-opacity="0.6"/>
<circle cx="284.1" cy="322.4" r="1.8" fill="#ff0000" fill-opacity="0.6"/>
<circle cx="273.7" cy="322.8" r="1.8" fill="#ff0000" fill-opacity="0.6"/>
<circle cx="275.0" cy="323.3" r="1.8" fill="#ff0000" fill-opacity="0.6"/>
<circle cx="281.3" cy="324.0" r="1.8" fill="#ff0000" fill-opacity="0.6"/>
<circle cx="281.5" cy="323.9" r="1.8" fill="#ff0000" fill-opacity="0.6"/>
<circle cx="270.4" cy="323.8" r="1.8" fill="#ff0000" fill-opacity="0.6"/>
<circle cx="284.4" cy="323.5" r="1.8" fill="#ff0000" fill-opacity="0.6"/>
<circle cx="272.3" cy="323.9" r="1.8" fill="#ff0000" fill-opacity="0.6"/>
<circle cx="278.2" cy="323.4" r="1.8" fill="#ff0000" fill-opacity="0.6"/>
<circle cx="276.5" cy="323.4" r="1.8" fill="#ff0000" fill-opacity="0.6"/>
<circle cx="275.8" cy="324.4" r="1.8" fill="#ff0000" fill-opacity="0.6"/>
<circle cx="271.1" cy="324.0" r="1.8" fill="#ff0000" fill-opacity="0.6"/>
<circle cx="280.6" cy="325.0" r="1.8" fill="#ff0000" fill-opacity="0.6"/>
<circle cx="277.9" cy="324.9" r="1.8" fill="#ff0000" fill-opacity="0.6"/>
<circle cx="282.8" cy="324.8" r="1.8" fill="#ff0000" fill-opacity="0.6"/>
<circle cx="270.0" cy="324.9" r="1.8" fill="#ff0000" fill-opacity="0.6"/>
<circle cx="272.3" cy="324.6" r="1.8" fill="#ff0000" fill-opacity="0.6"/>
<circle cx="272.4" cy="324.7" r="1.8" fill="#ff0000" fill-opacity="0.6"/>
<circle cx="283.6" cy="324.5" r="1.8" fill="#ff0000" fill-opacity="0.6"/>
<circle cx="275.9" cy="325.3" r="1.8" fill="#ff0000" fill-opacity="0.6"/>
<circle cx="284.1" cy="325.4" r="1.8" fill="#ff0000" fill-opacity="0.6"/>
<circle cx="272.6" cy="325.3" r="1.8" fill="#ff0000" fill-opacity="0.6"/>
<circle cx="270.4" cy="325.6" r="1.8" fill="#ff0000" fill-opacity="0.6"/>
<circle cx="284.2" cy="325.6" r="1.8" fill="#ff0000" fill-opacity="0.6"/>
<circle cx="272.1" cy="325.5" r="1.8" fill="#ff0000" fill-opacity="0.6"/>
<circle cx="276.1" cy="325.5" r="1.8" fill="#ff0000" fill-opacity="0.6"/>
<circle cx="270.6" cy="325.1" r="1.8" fill="#ff0000" fill-opacity="0.6"/>
<circle cx="273.9" cy="326.3" r="1.8" fill="#ff0000" fill-opacity="0.6"/>
<circle cx="271.6" cy="326.3" r="1.8" fill="#ff0000" fill-opacity="0.6"/>
<circle cx="276.2" cy="326.1" r="1.8" fill="#ff0000" fill-opacity="0.6"/>
<circle cx="277.2" cy="326.8" r="1.8" fill="#ff0000" fill-opacity="0.6"/>
<circle cx="277.9" cy="326.6" r="1.8" fill="#ff0000" fill-opacity="0.6"/>
<circle cx="279.1" cy="326.2" r="1.8" fill="#ff0000" fill-opacity="0.6"/>
<circle cx="276.1" cy="326.5" r="1.8" fill="#ff0000" fill-opacity="0.6"/>
<circle cx="274.8" cy="326.6" r="1.8" fill="#ff0000" fill-opacity="0.6"/>
<circle cx="271.6" cy="326.3" r="1.8" fill="#ff0000" fill-opacity="0.6"/>
<circle cx="273.2" cy="327.5" r="1.8" fill="#ff0000" fill-opacity="0.6"/>
<circle cx="269.1" cy="327.6" r="1.8" fill="#ff0000" fill-opacity="0.6"/>
<circle cx="282.0" cy="327.4" r="1.8" fill="#ff0000" fill-opacity="0.6"/>
<circle cx="276.1" cy="327.2" r="1.8" fill="#ff0000" fill-opacity="0.6"/>
<circle cx="271.8" cy="327.5" r="1.8" fill="#ff0000" fill-opacity="0.6"/>
<circle cx="271.8" cy="328.0" r="1.8" fill="#ff0000" fill-opacity="0.6"/>
<circle cx="270.2" cy="327.8" r="1.8" fill="#ff0000" fill-opacity="0.6"/>
<circle cx="282.2" cy="327.1" r="1.8" fill="#ff0000" fill-opacity="0.6"/>
<circle cx="269.4" cy="327.4" r="1.8" fill="#ff0000" fill-opacity="0.6"/>
<circle cx="279.3" cy="328.4" r="1.8" fill="#ff0000" fill-opacity="0.6"/>
<circle cx="270.9" cy="328.1" r="1.8" fill="#ff0000" fill-opacity="0.6"/>
<circle cx="279.3" cy="329.0" r="1.8" fill="#ff0000" fill-opacity="0.6"/>
<circle cx="272.4" cy="328.2" r="1.8" fill="#ff0000" fill-opacity="0.6"/>
<circle cx="278.1" cy="328.4" r="1.8" fill="#ff0000" fill-opacity="0.6"/>
<circle cx="281.6" cy="328.6" r="1.8" fill="#ff0000" fill-opacity="0.6"/>
<circle cx="275.1" cy="328.8" r="1.8" fill="#ff0000" fill-opacity="0.6"/>
<circle cx="279.4" cy="328.7" r="1.8" fill="#ff0000" fill-opacity="0.6"/>
<circle cx="274.4" cy="328.8" r="1.8" fill="#ff0000" fill-opacity="0.6"/>
<circle cx="282.9" cy="329.7" r="1.8" fill="#ff0000" fill-opacity="0.6"/>
<circle cx="282.0" cy="329.1" r="1.8" fill="#ff0000" fill-opacity="0.6"/>
<circle cx="279.8" cy="329.0" r="1.8" fill="#ff0000" fill-opacity="0.6"/>
<circle cx="274.6" cy="329.6" r="1.8" fill="#ff0000" fill-opacity="0.6"/>
<circle cx="275.9" cy="330.0" r="1.8" fill="#ff0000" fill-opacity="0.6"/>
<circle cx="280.1" cy="329.4" r="1.8" fill="#ff0000" fill-opacity="0.6"/>
<circle cx="276.5" cy="329.9" r="1.8" fill="#ff0000" fill-opacity="0.6"/>
<circle cx="273.9" cy="329.4" r="1.8" fill="#ff0000" fill-opacity="0.6"/>
<circle cx="278.9" cy="329.5" r="1.8" fill="#ff0000" fill-opacity="0.6"/>
<circle cx="275.5" cy="330.4" r="1.8" fill="#ff0000" fill-opacity="0.6"/>
<circle cx="271.6" cy="330.4" r="1.8" fill="#ff0000" fill-opacity="0.6"/>
<circle cx="281.4" cy="330.8" r="1.8" fill="#ff0000" fill-opacity="0.6"/>
<circle cx="273.5" cy="330.5" r="1.8" fill="#ff0000" fill-opacity="0.6"/>
<circle cx="271.4" cy="330.2" r="1.8" fill="#ff0000" fill-opacity="0.6"/>
<circle cx="275.9" cy="330.1" r="1.8" fill="#ff0000" fill-opacity="0.6"/>
<circle cx="268.7" cy="330.6" r="1.8" fill="#ff0000" fill-opacity="0.6"/>
<circle cx="271.5" cy="330.9" r="1.8" fill="#ff0000" fill-opacity="0.6"/>
<circle cx="281.1" cy="330.8" r="1.8" fill="#ff0000" fill-opacity="0.6"/>
<circle cx="269.8" cy="331.0" r="1.8" fill="#ff0000" fill-opacity="0.6"/>
<circle cx="267.8" cy="331.9" r="1.8" fill="#ff0000" fill-opacity="0.6"/>
<circle cx="275.5" cy="331.0" r="1.8" fill="#ff0000" fill-opacity="0.6"/>
<circle cx="282.9" cy="331.5" r="1.8" fill="#ff0000" fill-opacity="0.6"/>
<circle cx="274.9" cy="331.8" r="1.8" fill="#ff0000" fill-opacity="0.6"/>
<circle cx="274.5" cy="332.0" r="1.8" fill="#ff0000" fill-opacity="0.6"/>
<circle cx="277.8" cy="331.5" r="1.8" fill="#ff0000" fill-opacity="0.6"/>
<circle cx="271.9" cy="331.4" r="1.8" fill="#ff0000" fill-opacity="0.6"/>
<circle cx="271.7" cy="331.6" r="1.8" fill="#ff0000" fill-opacity="0.6"/>
<circle cx="277.5" cy="331.9" r="1.8" fill="#ff0000" fill-opacity="0.6"/>
<circle cx="268.5" cy="331.5" r="1.8" fill="#ff0000" fill-opacity="0.6"/>
<circle cx="275.2" cy="332.4" r="1.8" fill="#ff0000" fill-opacity="0.6"/>
<circle cx="281.9" cy="332.6" r="1.8" fill="#ff0000" fill-opacity="0.6"/>
<circle cx="273.7" cy="333.0" r="1.8" fill="#ff0000" fill-opacity="0.6"/>
<circle cx="276.4" cy="332.4" r="1.8" fill="#ff0000" fill-opacity="0.6"/>
<circle cx="271.3" cy="333.0" r="1.8" fill="#ff0000" fill-opacity="0.6"/>
<circle cx="280.4" cy="332.5" r="1.8" fill="#ff0000" fill-opacity="0.6"/>
<circle cx="271.1" cy="332.2" r="1.8" fill="#ff0000" fill-opacity="0.6"/>
<circle cx="280.6" cy="333.0" r="1.8" fill="#ff0000" fill-opacity="0.6"/>
<circle cx="268.3" cy="332.5" r="1.8" fill="#ff0000" fill-opacity="0.6"/>
<circle cx="277.7" cy="332.9" r="1.8" fill="#ff0000" fill-opacity="0.6"/>
<circle cx="284.4" cy="332.8" r="1.8" fill="#ff0000" fill-opacity="0.6"/>
<circle cx="268.6" cy="333.4" r="1.8" fill="#ff0000" fill-opacity="0.6"/>
<circle cx="274.1" cy="333.3" r="1.8" fill="#ff0000" fill-opacity="0.6"/>
<circle cx="268.9" cy="333.5" r="1.8" fill="#ff0000" fill-opacity="0.6"/>
<circle cx="276.4" cy="333.2" r="1.8" fill="#ff0000" fill-opacity="0.6"/>
<circle cx="271.3" cy="333.6" r="1.8" fill="#ff0000" fill-opacity="0.6"/>
<circle cx="276.4" cy="334.0" r="1.8" fill="#ff0000" fill-opacity="0.6"/>
<circle cx="272.4" cy="333.0" r="1.8" fill="#ff0000" fill-opacity="0.6"/>
<circle cx="270.5" cy="333.8" r="1.8" fill="#ff0000" fill-opacity="0.6"/>
<circle cx="267.2" cy="333.7" r="1.8" fill="#ff0000" fill-opacity="0.6"/>
<circle cx="280.9" cy="333.3" r="1.8" fill="#ff0000" fill-opacity="0.6"/>
<circle cx="268.7" cy="334.7" r="1.8" fill="#ff0000" fill-opacity="0.6"/>
<circle cx="274.6" cy="334.5" r="1.8" fill="#ff0000" fill-opacity="0.6"/>
<circle cx="276.5" cy="334.3" r="1.8" fill="#ff0000" fill-opacity="0.6"/>
<circle cx="284.5" cy="334.5" r="1.8" fill="#ff0000" fill-opacity="0.6"/>
<circle cx="272.0" cy="334.6" r="1.8" fill="#ff0000" fill-opacity="0.6"/>
<circle cx="268.4" cy="334.1" r="1.8" fill="#ff0000" fill-opacity="0.6"/>
<circle cx="267.6" cy="334.8" r="1.8" fill="#ff0000" fill-opacity="0.6"/>
<circle cx="268.5" cy="334.1" r="1.8" fill="#ff0000" fill-opacity="0.6"/>
<circle cx="280.3" cy="334.5" r="1.8" fill="#ff0000" fill-opacity="0.6"/>
<circle cx="279.9" cy="334.6" r="1.8" fill="#ff0000" fill-opacity="0.6"/>
<circle cx="267.1" cy="334.1" r="1.8" fill="#ff0000" fill-opacity="0.6"/>
<circle cx="277.8" cy="335.3" r="1.8" fill="#ff0000" fill-opacity="0.6"/>
<circle cx="268.2" cy="335.4" r="1.8" fill="#ff0000" fill-opacity="0.6"/>
<circle cx="267.4" cy="335.3" r="1.8" fill="#ff0000" fill-opacity="0.6"/>
<circle cx="274.9" cy="335.9" r="1.8" fill="#ff0000" fill-opacity="0.6"/>
<circle cx="272.5" cy="335.3" r="1.8" fill="#ff0000" fill-opacity="0.6"/>
<circle cx="267.0" cy="335.4" r="1.8" fill="#ff0000" fill-opacity="0.6"/>
<circle cx="274.9" cy="335.9" r="1.8" fill="#ff0000" fill-opacity="0.6"/>
<circle cx="272.2" cy="336.0" r="1.8" fill="#ff0000" fill-opacity="0.6"/>
<circle cx="269.1" cy="335.6" r="1.8" fill="#ff0000" fill-opacity="0.6"/>
<circle cx="282.8" cy="335.0" r="1.8" fill="#ff0000" fill-opacity="0.6"/>
<circle cx="270.1" cy="335.9" r="1.8" fill="#ff0000" fill-opacity="0.6"/>
<circle cx="269.6" cy="336.8" r="1.8" fill="#ff0000" fill-opacity="0.6"/>
<circle cx="283.5" cy="336.6" r="1.8" fill="#ff0000" fill-opacity="0.6"/>
<circle cx="283.2" cy="336.5" r="1.8" fill="#ff0000" fill-opacity="0.6"/>
<circle cx="271.2" cy="336.2" r="1.8" fill="#ff0000" fill-opacity="0.6"/>
<circle cx="268.4" cy="336.7" r="1.8" fill="#ff0000" fill-opacity="0.6"/>
<circle cx="281.4" cy="336.3" r="1.8" fill="#ff0000" fill-opacity="0.6"/>
<circle cx="279.4" cy="336.5" r="1.8" fill="#ff0000" fill-opacity="0.6"/>
<circle cx="267.9" cy="336.2" r="1.8" fill="#ff0000" fill-opacity="0.6"/>
<circle cx="268.1" cy="336.4" r="1.8" fill="#ff0000" fill-opacity="0.6"/>
<circle cx="269.4" cy="337.0" r="1.8" fill="#ff0000" fill-opacity="0.6"/>
<circle cx="267.1" cy="336.6" r="1.8" fill="#ff0000" fill-opacity="0.6"/>
<circle cx="271.2" cy="337.4" r="1.8" fill="#ff0000" fill-opacity="0.6"/>
<circle cx="267.1" cy="337.1" r="1.8" fill="#ff0000" fill-opacity="0.6"/>
<circle cx="270.1" cy="337.8" r="1.8" fill="#ff0000" fill-opacity="0.6"/>
<circle cx="267.8" cy="337.2" r="1.8" fill="#ff0000" fill-opacity="0.6"/>
<circle cx="268.5" cy="337.3" r="1.8" fill="#ff0000" fill-opacity="0.6"/>
<circle cx="276.5" cy="337.0" r="1.8" fill="#ff0000" fill-opacity="0.6"/>
<circle cx="267.4" cy="337.3" r="1.8" fill="#ff0000" fill-opacity="0.6"/>
<circle cx="266.5" cy="337.7" r="1.8" fill="#ff0000" fill-opacity="0.6"/>
<circle cx="280.4" cy="337.3" r="1.8" fill="#ff0000" fill-opacity="0.6"/>
<circle cx="272.0" cy="337.1" r="1.8" fill="#ff0000" fill-opacity="0.6"/>
<circle cx="279.6" cy="337.8" r="1.8" fill="#ff0000" fill-opacity="0.6"/>
<circle cx="270.3" cy="337.2" r="1.8" fill="#ff0000" fill-opacity="0.6"/>
<circle cx="283.4" cy="338.4" r="1.8" fill="#ff0000" fill-opacity="0.6"/>
<circle cx="283.2" cy="338.2" r="1.8" fill="#ff0000" fill-opacity="0.6"/>
<circle cx="268.0" cy="338.5" r="1.8" fill="#ff0000" fill-opacity="0.6"/>
<circle cx="266.7" cy="338.5" r="1.8" fill="#ff0000" fill-opacity="0.6"/>
<circle cx="268.4" cy="338.7" r="1.8" fill="#ff0000" fill-opacity="0.6"/>
<circle cx="274.5" cy="338.9" r="1.8" fill="#ff0000" fill-opacity="0.6"/>
<circle cx="268.3" cy="338.4" r="1.8" fill="#ff0000" fill-opacity="0.6"/>
<circle cx="267.7" cy="338.6" r="1.8" fill="#ff0000" fill-opacity="0.6"/>
<circle cx="266.5" cy="338.9" r="1.8" fill="#ff0000" fill-opacity="0.6"/>
<circle cx="273.6" cy="338.5" r="1.8" fill="#ff0000" fill-opacity="0.6"/>
<circle cx="278.8" cy="338.3" r="1.8" fill="#ff0000" fill-opacity="0.6"/>
<circle cx="276.1" cy="338.4" r="1.8" fill="#ff0000" fill-opacity="0.6"/>
<circle cx="270.4" cy="339.3" r="1.8" fill="#ff0000" fill-opacity="0.6"/>
<circle cx="267.1" cy="339.1" r="1.8" fill="#ff0000" fill-opacity="0.6"/>
<circle cx="269.1" cy="339.9" r="1.8" fill="#ff0000" fill-opacity="0.6"/>
<circle cx="266.0" cy="339.7" r="1.8" fill="#ff0000" fill-opacity="0.6"/>
<circle cx="269.8" cy="339.6" r="1.8" fill="#ff0000" fill-opacity="0.6"/>
<circle cx="268.7" cy="339.5" r="1.8" fill="#ff0000" fill-opacity="0.6"/>
<circle cx="269.1" cy="339.1" r="1.8" fill="#ff0000" fill-opacity="0.6"/>
<circle cx="266.4" cy="339.2" r="1.8" fill="#ff0000" fill-opacity="0.6"/>
<circle cx="268.4" cy="339.7" r="1.8" fill="#ff0000" fill-opacity="0.6"/>
<circle cx="282.1" cy="339.4" r="1.8" fill="#ff0000" fill-opacity="0.6"/>
<circle cx="281.4" cy="339.8" r="1.8" fill="#ff0000" fill-opacity="0.6"/>
<circle cx="266.2" cy="339.9" r="1.8" fill="#ff0000" fill-opacity="0.6"/>
<circle cx="265.4" cy="339.3" r="1.8" fill="#ff0000" fill-opacity="0.6"/>
<circle cx="269.4" cy="340.7" r="1.8" fill="#ff0000" fill-opacity="0.6"/>
<circle cx="275.8" cy="340.4" r="1.8" fill="#ff0000" fill-opacity="0.6"/>
<circle cx="267.6" cy="340.7" r="1.8" fill="#ff0000" fill-opacity="0.6"/>
<circle cx="269.3" cy="340.8" r="1.8" fill="#ff0000" fill-opacity="0.6"/>
<circle cx="266.6" cy="340.6" r="1.8" fill="#ff0000" fill-opacity="0.6"/>
<circle cx="282.2" cy="340.1" r="1.8" fill="#ff0000" fill-opacity="0.6"/>
<circle cx="277.1" cy="340.7" r="1.8" fill="#ff0000" fill-opacity="0.6"/>
<circle cx="265.3" cy="340.0" r="1.8" fill="#ff0000" fill-opacity="0.6"/>
<circle cx="267.0" cy="340.2" r="1.8" fill="#ff0000" fill-opacity="0.6"/>
<circle cx="270.0" cy="340.3" r="1.8" fill="#ff0000" fill-opacity="0.6"/>
<circle cx="268.8" cy="340.0" r="1.8" fill="#ff0000" fill-opacity="0.6"/>
<circle cx="266.6" cy="340.6" r="1.8" fill="#ff0000" fill-opacity="0.6"/>
<circle cx="273.7" cy="340.8" r="1.8" fill="#ff0000" fill-opacity="0.6"/>
<circle cx="270.8" cy="341.3" r="1.8" fill="#ff0000" fill-opacity="0.6"/>
<circle cx="269.1" cy="341.7" r="1.8" fill="#ff0000" fill-opacity="0.6"/>
<circle cx="280.1" cy="341.0" r="1.8" fill="#ff0000" fill-opacity="0.6"/>
<circle cx="267.9" cy="341.8" r="1.8" fill="#ff0000" fill-opacity="0.6"/>
<circle cx="280.6" cy="341.0" r="1.8" fill="#ff0000" fill-opacity="0.6"/>
<circle cx="264.8" cy="341.6" r="1.8" fill="#ff0000" fill-opacity="0.6"/>
<circle cx="265.5" cy="341.2" r="1.8" fill="#ff0000" fill-opacity="0.6"/>
<circle cx="266.7" cy="341.8" r="1.8" fill="#ff0000" fill-opacity="0.6"/>
<circle cx="277.8" cy="341.9" r="1.8" fill="#ff0000" fill-opacity="0.6"/>
<circle cx="276.6" cy="341.1" r="1.8" fill="#ff0000" fill-opacity="0.6"/>
<circle cx="277.8" cy="341.4" r="1.8" fill="#ff0000" fill-opacity="0.6"/>
<circle cx="267.8" cy="341.8" r="1.8" fill="#ff0000" fill-opacity="0.6"/>
<circle cx="283.0" cy="341.1" r="1.8" fill="#ff0000" fill-opacity="0.6"/>
<circle cx="282.6" cy="341.4" r="1.8" fill="#ff0000" fill-opacity="0.6"/>
<circle cx="279.8" cy="342.7" r="1.8" fill="#ff0000" fill-opacity="0.6"/>
<circle cx="270.8" cy="342.6" r="1.8" fill="#ff0000" fill-opacity="0.6"/>
<circle cx="276.5" cy="342.1" r="1.8" fill="#ff0000" fill-opacity="0.6"/>
<circle cx="272.1" cy="342.4" r="1.8" fill="#ff0000" fill-opacity="0.6"/>
<circle cx="265.2" cy="342.9" r="1.8" fill="#ff0000" fill-opacity="0.6"/>
<circle cx="264.3" cy="342.8" r="1.8" fill="#ff0000" fill-opacity="0.6"/>
<circle cx="279.2" cy="342.7" r="1.8" fill="#ff0000" fill-opacity="0.6"/>
<circle cx="272.9" cy="342.3" r="1.8" fill="#ff0000" fill-opacity="0.6"/>
<circle cx="274.9" cy="343.0" r="1.8" fill="#ff0000" fill-opacity="0.6"/>
<circle cx="267.1" cy="342.5" r="1.8" fill="#ff0000" fill-opacity="0.6"/>
<circle cx="269.1" cy="342.1" r="1.8" fill="#ff0000" fill-opacity="0.6"/>
<circle cx="266.4" cy="342.4" r="1.8" fill="#ff0000" fill-opacity="0.6"/>
<circle cx="265.5" cy="342.3" r="1.8" fill="#ff0000" fill-opacity="0.6"/>
<circle cx="275.8" cy="342.7" r="1.8" fill="#ff0000" fill-opacity="0.6"/>
<circle cx="247.9" cy="345.3" r="1.5" fill="#000" fill-opacity="0.5"/>
<circle cx="257.9" cy="348.7" r="1.5" fill="#000" fill-opacity="0.5"/>
<circle cx="250.9" cy="345.2" r="1.5" fill="#000" fill-opacity="0.5"/>
<circle cx="263.5" cy="348.3" r="1.5" fill="#000" fill-opacity="0.5"/>
<circle cx="262.8" cy="347.0" r="1.5" fill="#000" fill-opacity="0.5"/>
<circle cx="268.5" cy="346.0" r="1.5" fill="#000" fill-opacity="0.5"/>
<circle cx="273.3" cy="344.9" r="1.5" fill="#000" fill-opacity="0.5"/>
<circle cx="250.4" cy="344.7" r="1.5" fill="#000" fill-opacity="0.5"/>
<circle cx="246.0" cy="345.2" r="1.5" fill="#000" fill-opacity="0.5"/>
<circle cx="241.9" cy="344.2" r="1.5" fill="#000" fill-opacity="0.5"/>
<circle cx="253.9" cy="344.0" r="1.5" fill="#000" fill-opacity="0.5"/>
<circle cx="272.5" cy="345.7" r="1.5" fill="#000" fill-opacity="0.5"/>
<circle cx="241.7" cy="344.3" r="1.5" fill="#000" fill-opacity="0.5"/>
<circle cx="245.6" cy="344.3" r="1.5" fill="#000" fill-opacity="0.5"/>
<circle cx="266.6" cy="347.2" r="1.5" fill="#000" fill-opacity="0.5"/>
<circle cx="248.6" cy="344.2" r="1.5" fill="#000" fill-opacity="0.5"/>
<circle cx="276.8" cy="344.1" r="1.5" fill="#000" fill-opacity="0.5"/>
<circle cx="267.1" cy="348.1" r="1.5" fill="#000" fill-opacity="0.5"/>
<circle cx="244.6" cy="345.4" r="1.5" fill="#000" fill-opacity="0.5"/>
<circle cx="272.1" cy="344.4" r="1.5" fill="#000" fill-opacity="0.5"/>
<circle cx="276.1" cy="344.4" r="1.5" fill="#000" fill-opacity="0.5"/>
<circle cx="263.0" cy="348.8" r="1.5" fill="#000" fill-opacity="0.5"/>
<circle cx="248.0" cy="345.3" r="1.5" fill="#000" fill-opacity="0.5"/>
<circle cx="266.7" cy="347.4" r="1.5" fill="#000" fill-opacity="0.5"/>
<circle cx="260.2" cy="349.4" r="1.5" fill="#000" fill-opacity="0.5"/>
<circle cx="250.9" cy="344.6" r="1.5" fill="#000" fill-opacity="0.5"/>
<circle cx="269.5" cy="345.4" r="1.5" fill="#000" fill-opacity="0.5"/>
<circle cx="245.7" cy="344.6" r="1.5" fill="#000" fill-opacity="0.5"/>
<circle cx="276.9" cy="345.0" r="1.5" fill="#000" fill-opacity="0.5"/>
<circle cx="256.9" cy="347.8" r="1.5" fill="#000" fill-opacity="0.5"/>
<circle cx="261.2" cy="349.1" r="1.5" fill="#000" fill-opacity="0.5"/>
<circle cx="257.6" cy="349.1" r="1.5" fill="#000" fill-opacity="0.5"/>
<circle cx="279.9" cy="343.7" r="1.5" fill="#000" fill-opacity="0.5"/>
<circle cx="257.8" cy="348.1" r="1.5" fill="#000" fill-opacity="0.5"/>
<circle cx="245.9" cy="344.3" r="1.5" fill="#000" fill-opacity="0.5"/>
<circle cx="266.3" cy="344.9" r="1.5" fill="#000" fill-opacity="0.5"/>
<circle cx="269.0" cy="345.4" r="1.5" fill="#000" fill-opacity="0.5"/>
<circle cx="263.9" cy="347.0" r="1.5" fill="#000" fill-opacity="0.5"/>
<circle cx="267.6" cy="345.4" r="1.5" fill="#000" fill-opacity="0.5"/>
<circle cx="279.0" cy="343.6" r="1.5" fill="#000" fill-opacity="0.5"/>
<circle cx="269.1" cy="344.4" r="1.5" fill="#000" fill-opacity="0.5"/>
<circle cx="268.2" cy="346.3" r="1.5" fill="#000" fill-opacity="0.5"/>
<circle cx="256.5" cy="347.1" r="1.5" fill="#000" fill-opacity="0.5"/>
<circle cx="255.5" cy="344.6" r="1.5" fill="#000" fill-opacity="0.5"/>
<circle cx="248.7" cy="345.4" r="1.5" fill="#000" fill-opacity="0.5"/>
<circle cx="248.6" cy="345.7" r="1.5" fill="#000" fill-opacity="0.5"/>
<circle cx="247.4" cy="344.6" r="1.5" fill="#000" fill-opacity="0.5"/>
<circle cx="261.1" cy="349.0" r="1.5" fill="#000" fill-opacity="0.5"/>
<circle cx="256.1" cy="346.0" r="1.5" fill="#000" fill-opacity="0.5"/>
<circle cx="277.9" cy="344.5" r="1.5" fill="#000" fill-opacity="0.5"/>
<circle cx="272.8" cy="346.4" r="1.5" fill="#000" fill-opacity="0.5"/>
<circle cx="271.1" cy="346.4" r="1.5" fill="#000" fill-opacity="0.5"/>
<circle cx="255.3" cy="348.8" r="1.5" fill="#000" fill-opacity="0.5"/>
<circle cx="263.5" cy="345.3" r="1.5" fill="#000" fill-opacity="0.5"/>
<circle cx="273.8" cy="344.1" r="1.5" fill="#000" fill-opacity="0.5"/>
<circle cx="254.4" cy="346.6" r="1.5" fill="#000" fill-opacity="0.5"/>
<circle cx="246.7" cy="345.6" r="1.5" fill="#000" fill-opacity="0.5"/>
<circle cx="256.9" cy="348.0" r="1.5" fill="#000" fill-opacity="0.5"/>
<circle cx="278.4" cy="344.4" r="1.5" fill="#000" fill-opacity="0.5"/>
<circle cx="278.3" cy="344.3" r="1.5" fill="#000" fill-opacity="0.5"/>
<circle cx="252.9" cy="347.1" r="1.5" fill="#000" fill-opacity="0.5"/>
<circle cx="276.1" cy="344.2" r="1.5" fill="#000" fill-opacity="0.5"/>
<circle cx="271.9" cy="346.3" r="1.5" fill="#000" fill-opacity="0.5"/>
<circle cx="241.3" cy="344.3" r="1.5" fill="#000" fill-opacity="0.5"/>
<circle cx="268.9" cy="344.6" r="1.5" fill="#000" fill-opacity="0.5"/>
<circle cx="257.9" cy="349.1" r="1.5" fill="#000" fill-opacity="0.5"/>
<circle cx="242.0" cy="343.6" r="1.5" fill="#000" fill-opacity="0.5"/>
<circle cx="274.9" cy="344.8" r="1.5" fill="#000" fill-opacity="0.5"/>
<circle cx="250.4" cy="345.7" r="1.5" fill="#000" fill-opacity="0.5"/>
<circle cx="243.4" cy="345.0" r="1.5" fill="#000" fill-opacity="0.5"/>
<circle cx="269.6" cy="347.4" r="1.5" fill="#000" fill-opacity="0.5"/>
<circle cx="243.7" cy="345.1" r="1.5" fill="#000" fill-opacity="0.5"/>
<circle cx="274.9" cy="343.9" r="1.5" fill="#000" fill-opacity="0.5"/>
<circle cx="275.8" cy="344.8" r="1.5" fill="#000" fill-opacity="0.5"/>
<circle cx="259.3" cy="349.5" r="1.5" fill="#000" fill-opacity="0.5"/>
<circle cx="255.4" cy="347.4" r="1.5" fill="#000" fill-opacity="0.5"/>
<circle cx="246.9" cy="345.7" r="1.5" fill="#000" fill-opacity="0.5"/>
<circle cx="253.8" cy="346.7" r="1.5" fill="#000" fill-opacity="0.5"/>
<circle cx="255.1" cy="344.0" r="1.5" fill="#000" fill-opacity="0.5"/>
<circle cx="264.3" cy="344.0" r="1.5" fill="#000" fill-opacity="0.5"/>
<circle cx="268.7" cy="344.9" r="1.5" fill="#000" fill-opacity="0.5"/>
<circle cx="260.5" cy="349.2" r="1.5" fill="#000" fill-opacity="0.5"/>
<circle cx="261.9" cy="349.7" r="1.5" fill="#000" fill-opacity="0.5"/>
<circle cx="273.5" cy="345.9" r="1.5" fill="#000" fill-opacity="0.5"/>
<circle cx="266.9" cy="345.9" r="1.5" fill="#000" fill-opacity="0.5"/>
<circle cx="250.0" cy="347.1" r="1.5" fill="#000" fill-opacity="0.5"/>
<circle cx="251.1" cy="346.9" r="1.5" fill="#000" fill-opacity="0.5"/>
<circle cx="260.9" cy="348.9" r="1.5" fill="#000" fill-opacity="0.5"/>
<circle cx="262.9" cy="345.8" r="1.5" fill="#000" fill-opacity="0.5"/>
<circle cx="252.7" cy="348.2" r="1.5" fill="#000" fill-opacity="0.5"/>
<circle cx="259.6" cy="348.6" r="1.5" fill="#000" fill-opacity="0.5"/>
<circle cx="247.8" cy="344.3" r="1.5" fill="#000" fill-opacity="0.5"/>
<circle cx="258.3" cy="349.1" r="1.5" fill="#000" fill-opacity="0.5"/>
<circle cx="251.0" cy="343.9" r="1.5" fill="#000" fill-opacity="0.5"/>
<circle cx="251.0" cy="346.7" r="1.5" fill="#000" fill-opacity="0.5"/>
<circle cx="263.0" cy="347.4" r="1.5" fill="#000" fill-opacity="0.5"/>
<circle cx="240.3" cy="343.9" r="1.5" fill="#000" fill-opacity="0.5"/>
<circle cx="273.7" cy="345.9" r="1.5" fill="#000" fill-opacity="0.5"/>
<circle cx="279.7" cy="343.9" r="1.5" fill="#000" fill-opacity="0.5"/>
<circle cx="249.4" cy="345.1" r="1.5" fill="#000" fill-opacity="0.5"/>
<circle cx="255.7" cy="346.9" r="1.5" fill="#000" fill-opacity="0.5"/>
<circle cx="278.0" cy="344.5" r="1.5" fill="#000" fill-opacity="0.5"/>
<circle cx="271.7" cy="346.1" r="1.5" fill="#000" fill-opacity="0.5"/>
<circle cx="278.5" cy="344.0" r="1.5" fill="#000" fill-opacity="0.5"/>
<circle cx="245.5" cy="345.7" r="1.5" fill="#000" fill-opacity="0.5"/>
<circle cx="267.2" cy="345.6" r="1.5" fill="#000" fill-opacity="0.5"/>
<circle cx="252.2" cy="346.9" r="1.5" fill="#000" fill-opacity="0.5"/>
<circle cx="256.0" cy="346.1" r="1.5" fill="#000" fill-opacity="0.5"/>
<circle cx="252.6" cy="346.6" r="1.5" fill="#000" fill-opacity="0.5"/>
<circle cx="248.8" cy="344.2" r="1.5" fill="#000" fill-opacity="0.5"/>
<circle cx="266.0" cy="345.9" r="1.5" fill="#000" fill-opacity="0.5"/>
<circle cx="241.0" cy="343.7" r="1.5" fill="#000" fill-opacity="0.5"/>
<circle cx="273.3" cy="345.8" r="1.5" fill="#000" fill-opacity="0.5"/>
<circle cx="256.8" cy="347.5" r="1.5" fill="#000" fill-opacity="0.5"/>
<circle cx="263.1" cy="347.8" r="1.5" fill="#000" fill-opacity="0.5"/>
<circle cx="252.4" cy="345.5" r="1.5" fill="#000" fill-opacity="0.5"/>
<circle cx="270.6" cy="346.6" r="1.5" fill="#000" fill-opacity="0.5"/>
<circle cx="251.3" cy="347.8" r="1.5" fill="#000" fill-opacity="0.5"/>
<circle cx="258.3" cy="349.0" r="1.5" fill="#000" fill-opacity="0.5"/>
<circle cx="268.0" cy="345.9" r="1.5" fill="#000" fill-opacity="0.5"/>
<circle cx="272.8" cy="343.6" r="1.5" fill="#000" fill-opacity="0.5"/>
<circle cx="242.9" cy="344.2" r="1.5" fill="#000" fill-opacity="0.5"/>
<circle cx="263.2" cy="349.1" r="1.5" fill="#000" fill-opacity="0.5"/>
<circle cx="254.0" cy="344.5" r="1.5" fill="#000" fill-opacity="0.5"/>
<circle cx="271.9" cy="345.2" r="1.5" fill="#000" fill-opacity="0.5"/>
<circle cx="248.1" cy="345.9" r="1.5" fill="#000" fill-opacity="0.5"/>
<circle cx="267.0" cy="347.5" r="1.5" fill="#000" fill-opacity="0.5"/>
<circle cx="258.6" cy="349.7" r="1.5" fill="#000" fill-opacity="0.5"/>
<circle cx="255.8" cy="345.0" r="1.5" fill="#000" fill-opacity="0.5"/>
<circle cx="263.6" cy="348.9" r="1.5" fill="#000" fill-opacity="0.5"/>
<circle cx="247.3" cy="344.5" r="1.5" fill="#000" fill-opacity="0.5"/>
<circle cx="257.3" cy="346.4" r="1.5" fill="#000" fill-opacity="0.5"/>
<circle cx="272.9" cy="345.0" r="1.5" fill="#000" fill-opacity="0.5"/>
<circle cx="263.8" cy="348.5" r="1.5" fill="#000" fill-opacity="0.5"/>
<circle cx="278.2" cy="344.3" r="1.5" fill="#000" fill-opacity="0.5"/>
<circle cx="276.0" cy="344.3" r="1.5" fill="#000" fill-opacity="0.5"/>
<circle cx="259.8" cy="349.6" r="1.5" fill="#000" fill-opacity="0.5"/>
<circle cx="269.3" cy="345.8" r="1.5" fill="#000" fill-opacity="0.5"/>
<circle cx="264.3" cy="345.7" r="1.5" fill="#000" fill-opacity="0.5"/>
<circle cx="278.9" cy="344.2" r="1.5" fill="#000" fill-opacity="0.5"/>
<circle cx="277.9" cy="344.5" r="1.5" fill="#000" fill-opacity="0.5"/>
<circle cx="280.3" cy="343.7" r="1.5" fill="#000" fill-opacity="0.5"/>
<circle cx="241.2" cy="344.1" r="1.5" fill="#000" fill-opacity="0.5"/>
<circle cx="240.8" cy="344.2" r="1.5" fill="#000" fill-opacity="0.5"/>
<circle cx="270.9" cy="347.1" r="1.5" fill="#000" fill-opacity="0.5"/>
<circle cx="274.5" cy="344.6" r="1.5" fill="#000" fill-opacity="0.5"/>
<circle cx="260.7" cy="348.6" r="1.5" fill="#000" fill-opacity="0.5"/>
<circle cx="241.5" cy="344.4" r="1.5" fill="#000" fill-opacity="0.5"/>
<circle cx="251.7" cy="345.2" r="1.5" fill="#000" fill-opacity="0.5"/>
<circle cx="259.9" cy="349.2" r="1.5" fill="#000" fill-opacity="0.5"/>
<circle cx="245.1" cy="344.7" r="1.5" fill="#000" fill-opacity="0.5"/>
<circle cx="271.9" cy="344.5" r="1.5" fill="#000" fill-opacity="0.5"/>
<circle cx="253.5" cy="348.1" r="1.5" fill="#000" fill-opacity="0.5"/>
<circle cx="253.3" cy="348.3" r="1.5" fill="#000" fill-opacity="0.5"/>
<circle cx="249.6" cy="344.6" r="1.5" fill="#000" fill-opacity="0.5"/>
<circle cx="239.8" cy="343.6" r="1.5" fill="#000" fill-opacity="0.5"/>
<circle cx="256.1" cy="346.1" r="1.5" fill="#000" fill-opacity="0.5"/>
<circle cx="267.8" cy="346.4" r="1.5" fill="#000" fill-opacity="0.5"/>
<circle cx="269.6" cy="347.2" r="1.5" fill="#000" fill-opacity="0.5"/>
<circle cx="271.0" cy="345.0" r="1.5" fill="#000" fill-opacity="0.5"/>
<circle cx="256.6" cy="346.7" r="1.5" fill="#000" fill-opacity="0.5"/>
<circle cx="255.0" cy="344.7" r="1.5" fill="#000" fill-opacity="0.5"/>
<circle cx="265.7" cy="345.9" r="1.5" fill="#000" fill-opacity="0.5"/>
<circle cx="265.8" cy="345.1" r="1.5" fill="#000" fill-opacity="0.5"/>
<circle cx="246.0" cy="345.7" r="1.5" fill="#000" fill-opacity="0.5"/>
<circle cx="274.1" cy="344.9" r="1.5" fill="#000" fill-opacity="0.5"/>
<circle cx="269.8" cy="346.2" r="1.5" fill="#000" fill-opacity="0.5"/>
<circle cx="262.8" cy="349.4" r="1.5" fill="#000" fill-opacity="0.5"/>
<circle cx="277.5" cy="344.5" r="1.5" fill="#000" fill-opacity="0.5"/>
<circle cx="266.7" cy="346.0" r="1.5" fill="#000" fill-opacity="0.5"/>
<circle cx="270.7" cy="345.7" r="1.5" fill="#000" fill-opacity="0.5"/>
<circle cx="265.9" cy="345.8" r="1.5" fill="#000" fill-opacity="0.5"/>
<circle cx="266.7" cy="345.2" r="1.5" fill="#000" fill-opacity="0.5"/>
<circle cx="265.9" cy="348.2" r="1.5" fill="#000" fill-opacity="0.5"/>
<circle cx="259.2" cy="349.3" r="1.5" fill="#000" fill-opacity="0.5"/>
<circle cx="259.4" cy="347.7" r="1.5" fill="#000" fill-opacity="0.5"/>
<circle cx="261.6" cy="349.7" r="1.5" fill="#000" fill-opacity="0.5"/>
<circle cx="248.0" cy="346.2" r="1.5" fill="#000" fill-opacity="0.5"/>
<circle cx="258.6" cy="349.7" r="1.5" fill="#000" fill-opacity="0.5"/>
<circle cx="276.4" cy="344.8" r="1.5" fill="#000" fill-opacity="0.5"/>
<circle cx="243.9" cy="344.0" r="1.5" fill="#000" fill-opacity="0.5"/>
<circle cx="253.6" cy="346.7" r="1.5" fill="#000" fill-opacity="0.5"/>
<circle cx="258.2" cy="348.6" r="1.5" fill="#000" fill-opacity="0.5"/>
<circle cx="258.1" cy="349.3" r="1.5" fill="#000" fill-opacity="0.5"/>
<circle cx="272.9" cy="345.5" r="1.5" fill="#000" fill-opacity="0.5"/>
<circle cx="254.1" cy="345.3" r="1.5" fill="#000" fill-opacity="0.5"/>
<circle cx="254.3" cy="345.8" r="1.5" fill="#000" fill-opacity="0.5"/>
<circle cx="263.9" cy="344.5" r="1.5" fill="#000" fill-opacity="0.5"/>
<circle cx="271.0" cy="344.9" r="1.5" fill="#000" fill-opacity="0.5"/>
<circle cx="248.1" cy="344.9" r="1.5" fill="#000" fill-opacity="0.5"/>
<circle cx="267.0" cy="345.5" r="1.5" fill="#000" fill-opacity="0.5"/>
<circle cx="256.8" cy="347.8" r="1.5" fill="#000" fill-opacity="0.5"/>
<circle cx="254.3" cy="345.8" r="1.5" fill="#000" fill-opacity="0.5"/>
<circle cx="254.1" cy="345.8" r="1.5" fill="#000" fill-opacity="0.5"/>
<circle cx="256.1" cy="348.3" r="1.5" fill="#000" fill-opacity="0.5"/>
<circle cx="253.4" cy="346.6" r="1.5" fill="#000" fill-opacity="0.5"/>
<circle cx="254.4" cy="345.9" r="1.5" fill="#000" fill-opacity="0.5"/>
<circle cx="254.7" cy="346.5" r="1.5" fill="#000" fill-opacity="0.5"/>
<circle cx="258.7" cy="349.8" r="1.5" fill="#000" fill-opacity="0.5"/>
<circle cx="256.4" cy="348.7" r="1.5" fill="#000" fill-opacity="0.5"/>
<circle cx="257.6" cy="348.2" r="1.5" fill="#000" fill-opacity="0.5"/>
<circle cx="276.1" cy="345.1" r="1.5" fill="#000" fill-opacity="0.5"/>
<circle cx="255.8" cy="347.3" r="1.5" fill="#000" fill-opacity="0.5"/>
<circle cx="263.1" cy="348.6" r="1.5" fill="#000" fill-opacity="0.5"/>
<circle cx="242.2" cy="343.8" r="1.5" fill="#000" fill-opacity="0.5"/>
<circle cx="275.7" cy="343.7" r="1.5" fill="#000" fill-opacity="0.5"/>
<circle cx="272.7" cy="344.4" r="1.5" fill="#000" fill-opacity="0.5"/>
<circle cx="269.2" cy="346.1" r="1.5" fill="#000" fill-opacity="0.5"/>
<circle cx="256.6" cy="349.3" r="1.5" fill="#000" fill-opacity="0.5"/>
<circle cx="275.7" cy="344.9" r="1.5" fill="#000" fill-opacity="0.5"/>
<circle cx="252.5" cy="344.3" r="1.5" fill="#000" fill-opacity="0.5"/>
<circle cx="249.1" cy="344.7" r="1.5" fill="#000" fill-opacity="0.5"/>
<circle cx="277.7" cy="344.5" r="1.5" fill="#000" fill-opacity="0.5"/>
<circle cx="256.7" cy="345.4" r="1.5" fill="#000" fill-opacity="0.5"/>
<circle cx="277.6" cy="344.0" r="1.5" fill="#000" fill-opacity="0.5"/>
<circle cx="254.4" cy="346.4" r="1.5" fill="#000" fill-opacity="0.5"/>
<circle cx="264.5" cy="348.0" r="1.5" fill="#000" fill-opacity="0.5"/>
<circle cx="246.1" cy="345.6" r="1.5" fill="#000" fill-opacity="0.5"/>
<circle cx="262.1" cy="348.9" r="1.5" fill="#000" fill-opacity="0.5"/>
<circle cx="252.0" cy="347.2" r="1.5" fill="#000" fill-opacity="0.5"/>
<circle cx="250.5" cy="347.0" r="1.5" fill="#000" fill-opacity="0.5"/>
<circle cx="264.9" cy="348.6" r="1.5" fill="#000" fill-opacity="0.5"/>
<circle cx="257.9" cy="348.2" r="1.5" fill="#000" fill-opacity="0.5"/>
<circle cx="257.3" cy="346.5" r="1.5" fill="#000" fill-opacity="0.5"/>
<circle cx="277.9" cy="344.2" r="1.5" fill="#000" fill-opacity="0.5"/>
<circle cx="245.1" cy="345.4" r="1.5" fill="#000" fill-opacity="0.5"/>
<circle cx="274.9" cy="345.2" r="1.5" fill="#000" fill-opacity="0.5"/>
<circle cx="268.9" cy="344.7" r="1.5" fill="#000" fill-opacity="0.5"/>
<circle cx="276.7" cy="344.9" r="1.5" fill="#000" fill-opacity="0.5"/>
<circle cx="246.4" cy="343.8" r="1.5" fill="#000" fill-opacity="0.5"/>
<circle cx="274.1" cy="345.4" r="1.5" fill="#000" fill-opacity="0.5"/>
<circle cx="268.1" cy="347.6" r="1.5" fill="#000" fill-opacity="0.5"/>
<circle cx="269.4" cy="343.9" r="1.5" fill="#000" fill-opacity="0.5"/>
<circle cx="269.9" cy="346.8" r="1.5" fill="#000" fill-opacity="0.5"/>
<circle cx="250.6" cy="346.0" r="1.5" fill="#000" fill-opacity="0.5"/>
<circle cx="251.8" cy="344.9" r="1.5" fill="#000" fill-opacity="0.5"/>
<circle cx="276.9" cy="344.7" r="1.5" fill="#000" fill-opacity="0.5"/>
<circle cx="267.3" cy="346.2" r="1.5" fill="#000" fill-opacity="0.5"/>
<circle cx="241.0" cy="344.2" r="1.5" fill="#000" fill-opacity="0.5"/>
<circle cx="257.1" cy="346.3" r="1.5" fill="#000" fill-opacity="0.5"/>
<circle cx="276.3" cy="345.1" r="1.5" fill="#000" fill-opacity="0.5"/>
<circle cx="261.8" cy="349.0" r="1.5" fill="#000" fill-opacity="0.5"/>
<circle cx="272.5" cy="346.4" r="1.5" fill="#000" fill-opacity="0.5"/>
<circle cx="241.0" cy="344.2" r="1.5" fill="#000" fill-opacity="0.5"/>
<circle cx="265.2" cy="344.7" r="1.5" fill="#000" fill-opacity="0.5"/>
<circle cx="243.2" cy="344.9" r="1.5" fill="#000" fill-opacity="0.5"/>
<circle cx="277.1" cy="344.8" r="1.5" fill="#000" fill-opacity="0.5"/>
<circle cx="258.1" cy="349.1" r="1.5" fill="#000" fill-opacity="0.5"/>
<circle cx="245.1" cy="345.0" r="1.5" fill="#000" fill-opacity="0.5"/>
<circle cx="274.3" cy="345.1" r="1.5" fill="#000" fill-opacity="0.5"/>
<circle cx="242.8" cy="344.5" r="1.5" fill="#000" fill-opacity="0.5"/>
<circle cx="254.5" cy="345.2" r="1.5" fill="#000" fill-opacity="0.5"/>
<circle cx="244.6" cy="345.1" r="1.5" fill="#000" fill-opacity="0.5"/>
<circle cx="276.9" cy="344.9" r="1.5" fill="#000" fill-opacity="0.5"/>
<circle cx="243.7" cy="345.0" r="1.5" fill="#000" fill-opacity="0.5"/>
<circle cx="242.1" cy="344.4" r="1.5" fill="#000" fill-opacity="0.5"/>
<circle cx="242.1" cy="344.2" r="1.5" fill="#000" fill-opacity="0.5"/>
<circle cx="262.2" cy="348.4" r="1.5" fill="#000" fill-opacity="0.5"/>
<circle cx="246.0" cy="344.5" r="1.5" fill="#000" fill-opacity="0.5"/>
<circle cx="242.6" cy="344.7" r="1.5" fill="#000" fill-opacity="0.5"/>
<circle cx="260.6" cy="349.0" r="1.5" fill="#000" fill-opacity="0.5"/>
<circle cx="274.5" cy="345.4" r="1.5" fill="#000" fill-opacity="0.5"/>
<circle cx="247.5" cy="344.9" r="1.5" fill="#000" fill-opacity="0.5"/>
<circle cx="249.2" cy="344.9" r="1.5" fill="#000" fill-opacity="0.5"/>
<circle cx="261.4" cy="349.7" r="1.5" fill="#000" fill-opacity="0.5"/>
<circle cx="247.7" cy="346.2" r="1.5" fill="#000" fill-opacity="0.5"/>
<circle cx="270.6" cy="344.4" r="1.5" fill="#000" fill-opacity="0.5"/>
<circle cx="265.3" cy="345.1" r="1.5" fill="#000" fill-opacity="0.5"/>
<circle cx="266.2" cy="347.8" r="1.5" fill="#000" fill-opacity="0.5"/>
<circle cx="252.9" cy="346.4" r="1.5" fill="#000" fill-opacity="0.5"/>
<circle cx="280.7" cy="343.5" r="1.5" fill="#000" fill-opacity="0.5"/>
<circle cx="256.3" cy="344.5" r="1.5" fill="#000" fill-opacity="0.5"/>
<circle cx="248.3" cy="346.1" r="1.5" fill="#000" fill-opacity="0.5"/>
<circle cx="243.8" cy="344.1" r="1.5" fill="#000" fill-opacity="0.5"/>
<circle cx="246.0" cy="344.5" r="1.5" fill="#000" fill-opacity="0.5"/>
<circle cx="274.5" cy="345.0" r="1.5" fill="#000" fill-opacity="0.5"/>
<circle cx="273.9" cy="345.8" r="1.5" fill="#000" fill-opacity="0.5"/>
<circle cx="267.0" cy="346.6" r="1.5" fill="#000" fill-opacity="0.5"/>
<circle cx="277.1" cy="344.7" r="1.5" fill="#000" fill-opacity="0.5"/>
<circle cx="270.9" cy="344.5" r="1.5" fill="#000" fill-opacity="0.5"/>
<circle cx="272.3" cy="346.1" r="1.5" fill="#000" fill-opacity="0.5"/>
<circle cx="272.3" cy="346.3" r="1.5" fill="#000" fill-opacity="0.5"/>
<circle cx="264.8" cy="348.1" r="1.5" fill="#000" fill-opacity="0.5"/>
<circle cx="274.2" cy="345.2" r="1.5" fill="#000" fill-opacity="0.5"/>
<circle cx="248.6" cy="345.3" r="1.5" fill="#000" fill-opacity="0.5"/>
<circle cx="246.0" cy="344.6" r="1.5" fill="#000" fill-opacity="0.5"/>
<circle cx="269.4" cy="345.7" r="1.5" fill="#000" fill-opacity="0.5"/>
<circle cx="274.1" cy="345.6" r="1.5" fill="#000" fill-opacity="0.5"/>
<circle cx="256.0" cy="347.2" r="1.5" fill="#000" fill-opacity="0.5"/>
<circle cx="276.6" cy="344.6" r="1.5" fill="#000" fill-opacity="0.5"/>
<circle cx="276.6" cy="344.7" r="1.5" fill="#000" fill-opacity="0.5"/>
<circle cx="260.0" cy="348.8" r="1.5" fill="#000" fill-opacity="0.5"/>
<circle cx="275.5" cy="344.9" r="1.5" fill="#000" fill-opacity="0.5"/>
<circle cx="258.5" cy="349.0" r="1.5" fill="#000" fill-opacity="0.5"/>
<circle cx="253.5" cy="347.1" r="1.5" fill="#000" fill-opacity="0.5"/>
<circle cx="250.5" cy="344.6" r="1.5" fill="#000" fill-opacity="0.5"/>
<circle cx="270.2" cy="346.3" r="1.5" fill="#000" fill-opacity="0.5"/>
<circle cx="275.2" cy="345.0" r="1.5" fill="#000" fill-opacity="0.5"/>
<circle cx="245.3" cy="345.7" r="1.5" fill="#000" fill-opacity="0.5"/>
<circle cx="253.9" cy="348.1" r="1.5" fill="#000" fill-opacity="0.5"/>
<circle cx="265.8" cy="346.4" r="1.5" fill="#000" fill-opacity="0.5"/>
<circle cx="260.5" cy="349.7" r="1.5" fill="#000" fill-opacity="0.5"/>
<circle cx="276.4" cy="344.5" r="1.5" fill="#000" fill-opacity="0.5"/>
<circle cx="275.4" cy="344.4" r="1.5" fill="#000" fill-opacity="0.5"/>
<circle cx="241.3" cy="344.4" r="1.5" fill="#000" fill-opacity="0.5"/>
<circle cx="261.2" cy="349.8" r="1.5" fill="#000" fill-opacity="0.5"/>
<circle cx="257.8" cy="348.7" r="1.5" fill="#000" fill-opacity="0.5"/>
<circle cx="268.2" cy="345.8" r="1.5" fill="#000" fill-opacity="0.5"/>
<circle cx="254.0" cy="345.2" r="1.5" fill="#000" fill-opacity="0.5"/>
<circle cx="276.6" cy="344.8" r="1.5" fill="#000" fill-opacity="0.5"/>
<circle cx="258.0" cy="349.5" r="1.5" fill="#000" fill-opacity="0.5"/>
<circle cx="271.5" cy="344.7" r="1.5" fill="#000" fill-opacity="0.5"/>
<circle cx="252.1" cy="347.9" r="1.5" fill="#000" fill-opacity="0.5"/>
<circle cx="279.3" cy="343.9" r="1.5" fill="#000" fill-opacity="0.5"/>
<circle cx="264.2" cy="345.7" r="1.5" fill="#000" fill-opacity="0.5"/>
<circle cx="272.4" cy="345.0" r="1.5" fill="#000" fill-opacity="0.5"/>
<circle cx="273.1" cy="345.2" r="1.5" fill="#000" fill-opacity="0.5"/>
<circle cx="256.7" cy="347.9" r="1.5" fill="#000" fill-opacity="0.5"/>
<circle cx="275.1" cy="344.9" r="1.5" fill="#000" fill-opacity="0.5"/>
<circle cx="269.7" cy="344.4" r="1.5" fill="#000" fill-opacity="0.5"/>
<circle cx="264.1" cy="348.2" r="1.5" fill="#000" fill-opacity="0.5"/>
<circle cx="253.2" cy="346.1" r="1.5" fill="#000" fill-opacity="0.5"/>
<circle cx="278.6" cy="344.2" r="1.5" fill="#000" fill-opacity="0.5"/>
<circle cx="244.7" cy="344.0" r="1.5" fill="#000" fill-opacity="0.5"/>
<circle cx="250.8" cy="347.5" r="1.5" fill="#000" fill-opacity="0.5"/>
<circle cx="251.4" cy="345.5" r="1.5" fill="#000" fill-opacity="0.5"/>
<circle cx="251.9" cy="344.5" r="1.5" fill="#000" fill-opacity="0.5"/>
<circle cx="249.0" cy="345.2" r="1.5" fill="#000" fill-opacity="0.5"/>
<circle cx="246.3" cy="345.4" r="1.5" fill="#000" fill-opacity="0.5"/>
<circle cx="276.7" cy="344.9" r="1.5" fill="#000" fill-opacity="0.5"/>
<circle cx="251.6" cy="346.9" r="1.5" fill="#000" fill-opacity="0.5"/>
<circle cx="259.1" cy="349.5" r="1.5" fill="#000" fill-opacity="0.5"/>
<circle cx="272.6" cy="344.8" r="1.5" fill="#000" fill-opacity="0.5"/>
<circle cx="250.3" cy="345.2" r="1.5" fill="#000" fill-opacity="0.5"/>
<circle cx="273.5" cy="345.7" r="1.5" fill="#000" fill-opacity="0.5"/>
<circle cx="263.7" cy="349.0" r="1.5" fill="#000" fill-opacity="0.5"/>
<circle cx="249.2" cy="344.0" r="1.5" fill="#000" fill-opacity="0.5"/>
<circle cx="262.8" cy="348.5" r="1.5" fill="#000" fill-opacity="0.5"/>
<circle cx="256.3" cy="345.2" r="1.5" fill="#000" fill-opacity="0.5"/>
<circle cx="251.2" cy="347.7" r="1.5" fill="#000" fill-opacity="0.5"/>
<circle cx="266.9" cy="347.5" r="1.5" fill="#000" fill-opacity="0.5"/>
<circle cx="255.4" cy="348.0" r="1.5" fill="#000" fill-opacity="0.5"/>
<circle cx="252.9" cy="347.5" r="1.5" fill="#000" fill-opacity="0.5"/>
<circle cx="253.3" cy="347.8" r="1.5" fill="#000" fill-opacity="0.5"/>
<circle cx="262.0" cy="349.2" r="1.5" fill="#000" fill-opacity="0.5"/>
<circle cx="279.8" cy="343.7" r="1.5" fill="#000" fill-opacity="0.5"/>
<circle cx="260.6" cy="349.6" r="1.5" fill="#000" fill-opacity="0.5"/>
<circle cx="264.2" cy="347.0" r="1.5" fill="#000" fill-opacity="0.5"/>
<circle cx="249.6" cy="346.8" r="1.5" fill="#000" fill-opacity="0.5"/>
<circle cx="276.7" cy="344.6" r="1.5" fill="#000" fill-opacity="0.5"/>
<circle cx="272.7" cy="346.3" r="1.5" fill="#000" fill-opacity="0.5"/>
<circle cx="275.9" cy="345.2" r="1.5" fill="#000" fill-opacity="0.5"/>
<circle cx="242.8" cy="344.8" r="1.5" fill="#000" fill-opacity="0.5"/>
<circle cx="265.9" cy="344.2" r="1.5" fill="#000" fill-opacity="0.5"/>
<circle cx="265.5" cy="345.8" r="1.5" fill="#000" fill-opacity="0.5"/>
<circle cx="246.7" cy="344.0" r="1.5" fill="#000" fill-opacity="0.5"/>
<circle cx="268.9" cy="347.2" r="1.5" fill="#000" fill-opacity="0.5"/>
<circle cx="253.8" cy="344.8" r="1.5" fill="#000" fill-opacity="0.5"/>
<circle cx="276.8" cy="343.9" r="1.5" fill="#000" fill-opacity="0.5"/>
<circle cx="266.7" cy="344.9" r="1.5" fill="#000" fill-opacity="0.5"/>
<circle cx="263.1" cy="345.8" r="1.5" fill="#000" fill-opacity="0.5"/>
<circle cx="276.2" cy="344.0" r="1.5" fill="#000" fill-opacity="0.5"/>
<circle cx="266.7" cy="345.4" r="1.5" fill="#000" fill-opacity="0.5"/>
<circle cx="263.8" cy="348.1" r="1.5" fill="#000" fill-opacity="0.5"/>
<circle cx="246.5" cy="346.0" r="1.5" fill="#000" fill-opacity="0.5"/>
<circle cx="262.3" cy="349.0" r="1.5" fill="#000" fill-opacity="0.5"/>
<circle cx="256.8" cy="347.4" r="1.5" fill="#000" fill-opacity="0.5"/>
<circle cx="271.3" cy="345.4" r="1.5" fill="#000" fill-opacity="0.5"/>
<circle cx="261.1" cy="349.0" r="1.5" fill="#000" fill-opacity="0.5"/>
<circle cx="275.1" cy="345.2" r="1.5" fill="#000" fill-opacity="0.5"/>
<circle cx="259.4" cy="348.5" r="1.5" fill="#000" fill-opacity="0.5"/>
<circle cx="269.3" cy="345.9" r="1.5" fill="#000" fill-opacity="0.5"/>
<circle cx="252.9" cy="345.6" r="1.5" fill="#000" fill-opacity="0.5"/>
<circle cx="250.1" cy="346.4" r="1.5" fill="#000" fill-opacity="0.5"/>
<circle cx="261.3" cy="349.2" r="1.5" fill="#000" fill-opacity="0.5"/>
<circle cx="270.3" cy="344.7" r="1.5" fill="#000" fill-opacity="0.5"/>
<circle cx="263.4" cy="349.2" r="1.5" fill="#000" fill-opacity="0.5"/>
<circle cx="272.4" cy="346.5" r="1.5" fill="#000" fill-opacity="0.5"/>
<circle cx="271.2" cy="344.7" r="1.5" fill="#000" fill-opacity="0.5"/>
<circle cx="246.4" cy="345.8" r="1.5" fill="#000" fill-opacity="0.5"/>
<circle cx="271.2" cy="345.1" r="1.5" fill="#000" fill-opacity="0.5"/>
<circle cx="253.6" cy="346.7" r="1.5" fill="#000" fill-opacity="0.5"/>
<circle cx="253.6" cy="347.8" r="1.5" fill="#000" fill-opacity="0.5"/>
<circle cx="258.3" cy="348.3" r="1.5" fill="#000" fill-opacity="0.5"/>
<circle cx="243.9" cy="345.0" r="1.5" fill="#000" fill-opacity="0.5"/>
<circle cx="274.6" cy="345.5" r="1.5" fill="#000" fill-opacity="0.5"/>
<circle cx="242.7" cy="344.3" r="1.5" fill="#000" fill-opacity="0.5"/>
<circle cx="260.9" cy="348.2" r="1.5" fill="#000" fill-opacity="0.5"/>
<circle cx="270.6" cy="347.2" r="1.5" fill="#000" fill-opacity="0.5"/>
<circle cx="257.5" cy="347.9" r="1.5" fill="#000" fill-opacity="0.5"/>
<circle cx="275.5" cy="344.8" r="1.5" fill="#000" fill-opacity="0.5"/>
<circle cx="264.6" cy="344.1" r="1.5" fill="#000" fill-opacity="0.5"/>
<circle cx="276.4" cy="344.9" r="1.5" fill="#000" fill-opacity="0.5"/>
<circle cx="262.1" cy="348.0" r="1.5" fill="#000" fill-opacity="0.5"/>
<circle cx="266.5" cy="346.6" r="1.5" fill="#000" fill-opacity="0.5"/>
<circle cx="267.2" cy="344.8" r="1.5" fill="#000" fill-opacity="0.5"/>
<circle cx="241.5" cy="344.4" r="1.5" fill="#000" fill-opacity="0.5"/>
<circle cx="246.1" cy="345.3" r="1.5" fill="#000" fill-opacity="0.5"/>
<circle cx="267.0" cy="346.2" r="1.5" fill="#000" fill-opacity="0.5"/>
<circle cx="255.7" cy="347.8" r="1.5" fill="#000" fill-opacity="0.5"/>
<circle cx="248.0" cy="346.0" r="1.5" fill="#000" fill-opacity="0.5"/>
<circle cx="259.1" cy="349.7" r="1.5" fill="#000" fill-opacity="0.5"/>
<circle cx="265.3" cy="344.8" r="1.5" fill="#000" fill-opacity="0.5"/>
<circle cx="255.3" cy="348.2" r="1.5" fill="#000" fill-opacity="0.5"/>
<circle cx="266.9" cy="344.7" r="1.5" fill="#000" fill-opacity="0.5"/>
<circle cx="275.0" cy="343.6" r="1.5" fill="#000" fill-opacity="0.5"/>
<circle cx="248.0" cy="345.3" r="1.5" fill="#000" fill-opacity="0.5"/>
<circle cx="268.8" cy="346.8" r="1.5" fill="#000" fill-opacity="0.5"/>
<circle cx="243.9" cy="344.8" r="1.5" fill="#000" fill-opacity="0.5"/>
<circle cx="270.6" cy="346.5" r="1.5" fill="#000" fill-opacity="0.5"/>
<circle cx="244.3" cy="344.4" r="1.5" fill="#000" fill-opacity="0.5"/>
<circle cx="274.3" cy="345.9" r="1.5" fill="#000" fill-opacity="0.5"/>
<circle cx="263.2" cy="347.5" r="1.5" fill="#000" fill-opacity="0.5"/>
<circle cx="266.3" cy="347.7" r="1.5" fill="#000" fill-opacity="0.5"/>
<circle cx="240.2" cy="343.7" r="1.5" fill="#000" fill-opacity="0.5"/>
<circle cx="250.5" cy="344.1" r="1.5" fill="#000" fill-opacity="0.5"/>
<circle cx="272.3" cy="346.1" r="1.5" fill="#000" fill-opacity="0.5"/>
<circle cx="275.5" cy="344.3" r="1.5" fill="#000" fill-opacity="0.5"/>
<circle cx="267.7" cy="345.6" r="1.5" fill="#000" fill-opacity="0.5"/>
<circle cx="262.7" cy="346.4" r="1.5" fill="#000" fill-opacity="0.5"/>
<circle cx="271.5" cy="346.6" r="1.5" fill="#000" fill-opacity="0.5"/>
<circle cx="241.4" cy="344.1" r="1.5" fill="#000" fill-opacity="0.5"/>
<circle cx="273.1" cy="345.3" r="1.5" fill="#000" fill-opacity="0.5"/>
<circle cx="242.0" cy="344.6" r="1.5" fill="#000" fill-opacity="0.5"/>
<circle cx="261.5" cy="349.6" r="1.5" fill="#000" fill-opacity="0.5"/>
<circle cx="265.8" cy="348.3" r="1.5" fill="#000" fill-opacity="0.5"/>
<circle cx="271.7" cy="346.7" r="1.5" fill="#000" fill-opacity="0.5"/>
<circle cx="276.7" cy="344.6" r="1.5" fill="#000" fill-opacity="0.5"/>
<circle cx="269.2" cy="346.0" r="1.5" fill="#000" fill-opacity="0.5"/>
<circle cx="278.7" cy="344.3" r="1.5" fill="#000" fill-opacity="0.5"/>
<circle cx="257.7" cy="348.0" r="1.5" fill="#000" fill-opacity="0.5"/>
<circle cx="250.9" cy="345.2" r="1.5" fill="#000" fill-opacity="0.5"/>
<circle cx="241.0" cy="344.3" r="1.5" fill="#000" fill-opacity="0.5"/>
<circle cx="267.9" cy="347.3" r="1.5" fill="#000" fill-opacity="0.5"/>
<circle cx="276.7" cy="345.1" r="1.5" fill="#000" fill-opacity="0.5"/>
<circle cx="249.7" cy="345.2" r="1.5" fill="#000" fill-opacity="0.5"/>
<circle cx="252.3" cy="347.3" r="1.5" fill="#000" fill-opacity="0.5"/>
<circle cx="262.0" cy="349.3" r="1.5" fill="#000" fill-opacity="0.5"/>
<circle cx="251.6" cy="345.7" r="1.5" fill="#000" fill-opacity="0.5"/>
<circle cx="262.3" cy="348.5" r="1.5" fill="#000" fill-opacity="0.5"/>
<circle cx="262.0" cy="349.2" r="1.5" fill="#000" fill-opacity="0.5"/>
<circle cx="246.7" cy="346.1" r="1.5" fill="#000" fill-opacity="0.5"/>
<circle cx="270.9" cy="345.4" r="1.5" fill="#000" fill-opacity="0.5"/>
<circle cx="257.5" cy="348.7" r="1.5" fill="#000" fill-opacity="0.5"/>
<circle cx="272.3" cy="345.1" r="1.5" fill="#000" fill-opacity="0.5"/>
<circle cx="248.8" cy="345.9" r="1.5" fill="#000" fill-opacity="0.5"/>
<circle cx="246.5" cy="346.2" r="1.5" fill="#000" fill-opacity="0.5"/>
<circle cx="267.4" cy="346.9" r="1.5" fill="#000" fill-opacity="0.5"/>
<circle cx="265.2" cy="345.8" r="1.5" fill="#000" fill-opacity="0.5"/>
<circle cx="239.6" cy="343.5" r="1.5" fill="#000" fill-opacity="0.5"/>
<circle cx="253.9" cy="344.2" r="1.5" fill="#000" fill-opacity="0.5"/>
<circle cx="269.5" cy="346.7" r="1.5" fill="#000" fill-opacity="0.5"/>
<circle cx="245.0" cy="344.2" r="1.5" fill="#000" fill-opacity="0.5"/>
<circle cx="256.1" cy="346.6" r="1.5" fill="#000" fill-opacity="0.5"/>
<circle cx="271.5" cy="346.7" r="1.5" fill="#000" fill-opacity="0.5"/>
<circle cx="252.9" cy="344.8" r="1.5" fill="#000" fill-opacity="0.5"/>
<circle cx="276.3" cy="345.0" r="1.5" fill="#000" fill-opacity="0.5"/>
<circle cx="275.0" cy="344.8" r="1.5" fill="#000" fill-opacity="0.5"/>
<circle cx="279.9" cy="343.8" r="1.5" fill="#000" fill-opacity="0.5"/>
<circle cx="264.7" cy="345.3" r="1.5" fill="#000" fill-opacity="0.5"/>
<circle cx="243.4" cy="345.1" r="1.5" fill="#000" fill-opacity="0.5"/>
<circle cx="254.9" cy="347.0" r="1.5" fill="#000" fill-opacity="0.5"/>
<circle cx="247.2" cy="343.5" r="1.5" fill="#000" fill-opacity="0.5"/>
<circle cx="277.4" cy="344.7" r="1.5" fill="#000" fill-opacity="0.5"/>
<circle cx="254.0" cy="345.1" r="1.5" fill="#000" fill-opacity="0.5"/>
<circle cx="274.3" cy="344.6" r="1.5" fill="#000" fill-opacity="0.5"/>
<circle cx="261.6" cy="349.0" r="1.5" fill="#000" fill-opacity="0.5"/>
<circle cx="274.7" cy="344.6" r="1.5" fill="#000" fill-opacity="0.5"/>
<circle cx="273.2" cy="344.3" r="1.5" fill="#000" fill-opacity="0.5"/>
<circle cx="247.0" cy="344.9" r="1.5" fill="#000" fill-opacity="0.5"/>
<circle cx="267.3" cy="347.7" r="1.5" fill="#000" fill-opacity="0.5"/>
<circle cx="276.6" cy="343.8" r="1.5" fill="#000" fill-opacity="0.5"/>
<circle cx="257.5" cy="347.7" r="1.5" fill="#000" fill-opacity="0.5"/>
<circle cx="270.7" cy="344.0" r="1.5" fill="#000" fill-opacity="0.5"/>
<circle cx="259.5" cy="348.2" r="1.5" fill="#000" fill-opacity="0.5"/>
<circle cx="257.6" cy="346.5" r="1.5" fill="#000" fill-opacity="0.5"/>
<circle cx="253.8" cy="348.3" r="1.5" fill="#000" fill-opacity="0.5"/>
<circle cx="263.1" cy="345.6" r="1.5" fill="#000" fill-opacity="0.5"/>
<circle cx="272.2" cy="346.4" r="1.5" fill="#000" fill-opacity="0.5"/>
<circle cx="261.7" cy="348.9" r="1.5" fill="#000" fill-opacity="0.5"/>
<circle cx="278.0" cy="343.8" r="1.5" fill="#000" fill-opacity="0.5"/>
<circle cx="249.2" cy="345.9" r="1.5" fill="#000" fill-opacity="0.5"/>
<circle cx="271.6" cy="345.0" r="1.5" fill="#000" fill-opacity="0.5"/>
<circle cx="251.8" cy="346.5" r="1.5" fill="#000" fill-opacity="0.5"/>
<circle cx="253.8" cy="348.5" r="1.5" fill="#000" fill-opacity="0.5"/>
<circle cx="259.6" cy="347.9" r="1.5" fill="#000" fill-opacity="0.5"/>
<circle cx="267.8" cy="344.3" r="1.5" fill="#000" fill-opacity="0.5"/>
<circle cx="259.1" cy="349.5" r="1.5" fill="#000" fill-opacity="0.5"/>
<circle cx="247.7" cy="345.7" r="1.5" fill="#000" fill-opacity="0.5"/>
<circle cx="267.8" cy="347.2" r="1.5" fill="#000" fill-opacity="0.5"/>
<circle cx="277.7" cy="344.6" r="1.5" fill="#000" fill-opacity="0.5"/>
<circle cx="245.2" cy="345.0" r="1.5" fill="#000" fill-opacity="0.5"/>
<circle cx="279.8" cy="343.6" r="1.5" fill="#000" fill-opacity="0.5"/>
<circle cx="243.2" cy="344.7" r="1.5" fill="#000" fill-opacity="0.5"/>
<circle cx="264.5" cy="346.6" r="1.5" fill="#000" fill-opacity="0.5"/>
<circle cx="269.1" cy="347.5" r="1.5" fill="#000" fill-opacity="0.5"/>
<circle cx="247.7" cy="345.4" r="1.5" fill="#000" fill-opacity="0.5"/>
<circle cx="246.9" cy="345.1" r="1.5" fill="#000" fill-opacity="0.5"/>
<circle cx="247.4" cy="345.5" r="1.5" fill="#000" fill-opacity="0.5"/>
<circle cx="256.0" cy="347.4" r="1.5" fill="#000" fill-opacity="0.5"/>
<circle cx="244.3" cy="344.7" r="1.5" fill="#000" fill-opacity="0.5"/>
<circle cx="265.7" cy="346.1" r="1.5" fill="#000" fill-opacity="0.5"/>
<circle cx="263.5" cy="345.2" r="1.5" fill="#000" fill-opacity="0.5"/>
<circle cx="248.0" cy="346.6" r="1.5" fill="#000" fill-opacity="0.5"/>
<circle cx="243.7" cy="344.5" r="1.5" fill="#000" fill-opacity="0.5"/>
<circle cx="264.4" cy="345.1" r="1.5" fill="#000" fill-opacity="0.5"/>
<circle cx="247.7" cy="345.4" r="1.5" fill="#000" fill-opacity="0.5"/>
<circle cx="258.2" cy="349.5" r="1.5" fill="#000" fill-opacity="0.5"/>
<circle cx="268.3" cy="347.8" r="1.5" fill="#000" fill-opacity="0.5"/>
<circle cx="249.4" cy="345.8" r="1.5" fill="#000" fill-opacity="0.5"/>
<circle cx="241.5" cy="343.7" r="1.5" fill="#000" fill-opacity="0.5"/>
<circle cx="250.4" cy="347.2" r="1.5" fill="#000" fill-opacity="0.5"/>
<circle cx="256.7" cy="348.6" r="1.5" fill="#000" fill-opacity="0.5"/>
<circle cx="275.2" cy="345.0" r="1.5" fill="#000" fill-opacity="0.5"/>
<circle cx="242.1" cy="344.4" r="1.5" fill="#000" fill-opacity="0.5"/>
<circle cx="264.6" cy="348.6" r="1.5" fill="#000" fill-opacity="0.5"/>
<circle cx="263.9" cy="347.5" r="1.5" fill="#000" fill-opacity="0.5"/>
<circle cx="248.8" cy="345.0" r="1.5" fill="#000" fill-opacity="0.5"/>
<circle cx="261.6" cy="349.6" r="1.5" fill="#000" fill-opacity="0.5"/>
<circle cx="272.1" cy="345.5" r="1.5" fill="#000" fill-opacity="0.5"/>
<circle cx="268.8" cy="344.7" r="1.5" fill="#000" fill-opacity="0.5"/>
<circle cx="259.3" cy="349.4" r="1.5" fill="#000" fill-opacity="0.5"/>
<circle cx="267.6" cy="348.0" r="1.5" fill="#000" fill-opacity="0.5"/>
<circle cx="274.2" cy="344.7" r="1.5" fill="#000" fill-opacity="0.5"/>
<circle cx="256.1" cy="348.8" r="1.5" fill="#000" fill-opacity="0.5"/>
<circle cx="247.7" cy="345.3" r="1.5" fill="#000" fill-opacity="0.5"/>
<circle cx="268.3" cy="345.0" r="1.5" fill="#000" fill-opacity="0.5"/>
<circle cx="247.2" cy="344.5" r="1.5" fill="#000" fill-opacity="0.5"/>
<circle cx="256.0" cy="344.5" r="1.5" fill="#000" fill-opacity="0.5"/>
<circle cx="264.5" cy="347.3" r="1.5" fill="#000" fill-opacity="0.5"/>
<circle cx="253.6" cy="346.3" r="1.5" fill="#000" fill-opacity="0.5"/>
<circle cx="244.9" cy="344.2" r="1.5" fill="#000" fill-opacity="0.5"/>
<circle cx="268.9" cy="345.2" r="1.5" fill="#000" fill-opacity="0.5"/>
<circle cx="276.6" cy="344.9" r="1.5" fill="#000" fill-opacity="0.5"/>
<circle cx="270.3" cy="345.4" r="1.5" fill="#000" fill-opacity="0.5"/>
<circle cx="273.3" cy="344.5" r="1.5" fill="#000" fill-opacity="0.5"/>
<circle cx="275.9" cy="345.2" r="1.5" fill="#000" fill-opacity="0.5"/>
<circle cx="278.5" cy="344.3" r="1.5" fill="#000" fill-opacity="0.5"/>
<circle cx="271.3" cy="344.1" r="1.5" fill="#000" fill-opacity="0.5"/>
<circle cx="269.9" cy="344.3" r="1.5" fill="#000" fill-opacity="0.5"/>
<circle cx="249.2" cy="347.1" r="1.5" fill="#000" fill-opacity="0.5"/>
<circle cx="243.6" cy="344.6" r="1.5" fill="#000" fill-opacity="0.5"/>
<circle cx="251.9" cy="345.9" r="1.5" fill="#000" fill-opacity="0.5"/>
<circle cx="248.9" cy="343.8" r="1.5" fill="#000" fill-opacity="0.5"/>
<circle cx="244.3" cy="344.7" r="1.5" fill="#000" fill-opacity="0.5"/>
<circle cx="269.9" cy="346.7" r="1.5" fill="#000" fill-opacity="0.5"/>
<circle cx="271.5" cy="345.4" r="1.5" fill="#000" fill-opacity="0.5"/>
<circle cx="245.5" cy="345.5" r="1.5" fill="#000" fill-opacity="0.5"/>
<circle cx="269.7" cy="346.5" r="1.5" fill="#000" fill-opacity="0.5"/>
<circle cx="247.5" cy="346.2" r="1.5" fill="#000" fill-opacity="0.5"/>
<circle cx="245.7" cy="345.7" r="1.5" fill="#000" fill-opacity="0.5"/>
<circle cx="274.5" cy="344.0" r="1.5" fill="#000" fill-opacity="0.5"/>
<circle cx="268.3" cy="344.8" r="1.5" fill="#000" fill-opacity="0.5"/>
<circle cx="245.8" cy="344.5" r="1.5" fill="#000" fill-opacity="0.5"/>
<circle cx="266.9" cy="345.0" r="1.5" fill="#000" fill-opacity="0.5"/>
<circle cx="256.8" cy="348.1" r="1.5" fill="#000" fill-opacity="0.5"/>
<circle cx="247.1" cy="345.5" r="1.5" fill="#000" fill-opacity="0.5"/>
<circle cx="269.7" cy="347.2" r="1.5" fill="#000" fill-opacity="0.5"/>
<circle cx="246.3" cy="345.4" r="1.5" fill="#000" fill-opacity="0.5"/>
<circle cx="249.0" cy="344.4" r="1.5" fill="#000" fill-opacity="0.5"/>
<circle cx="273.5" cy="345.8" r="1.5" fill="#000" fill-opacity="0.5"/>
<circle cx="251.4" cy="346.7" r="1.5" fill="#000" fill-opacity="0.5"/>
<circle cx="240.8" cy="343.8" r="1.5" fill="#000" fill-opacity="0.5"/>
<circle cx="243.8" cy="345.2" r="1.5" fill="#000" fill-opacity="0.5"/>
<circle cx="258.7" cy="349.2" r="1.5" fill="#000" fill-opacity="0.5"/>
<circle cx="260.8" cy="348.7" r="1.5" fill="#000" fill-opacity="0.5"/>
<circle cx="270.9" cy="346.5" r="1.5" fill="#000" fill-opacity="0.5"/>
<circle cx="241.6" cy="343.9" r="1.5" fill="#000" fill-opacity="0.5"/>
<circle cx="259.7" cy="349.4" r="1.5" fill="#000" fill-opacity="0.5"/>
<circle cx="247.2" cy="345.1" r="1.5" fill="#000" fill-opacity="0.5"/>
<circle cx="270.7" cy="345.6" r="1.5" fill="#000" fill-opacity="0.5"/>
<circle cx="257.9" cy="349.5" r="1.5" fill="#000" fill-opacity="0.5"/>
<circle cx="266.2" cy="345.9" r="1.5" fill="#000" fill-opacity="0.5"/>
<circle cx="267.1" cy="344.0" r="1.5" fill="#000" fill-opacity="0.5"/>
<circle cx="242.7" cy="344.6" r="1.5" fill="#000" fill-opacity="0.5"/>
<circle cx="250.9" cy="346.6" r="1.5" fill="#000" fill-opacity="0.5"/>
<circle cx="273.5" cy="344.3" r="1.5" fill="#000" fill-opacity="0.5"/>
<circle cx="255.4" cy="348.8" r="1.5" fill="#000" fill-opacity="0.5"/>
<circle cx="273.4" cy="343.9" r="1.5" fill="#000" fill-opacity="0.5"/>
<circle cx="239.9" cy="343.7" r="1.5" fill="#000" fill-opacity="0.5"/>
<circle cx="276.5" cy="343.9" r="1.5" fill="#000" fill-opacity="0.5"/>
<circle cx="273.2" cy="344.8" r="1.5" fill="#000" fill-opacity="0.5"/>
<circle cx="242.4" cy="344.7" r="1.5" fill="#000" fill-opacity="0.5"/>
<circle cx="242.1" cy="344.4" r="1.5" fill="#000" fill-opacity="0.5"/>
<circle cx="259.2" cy="349.6" r="1.5" fill="#000" fill-opacity="0.5"/>
<circle cx="250.4" cy="346.6" r="1.5" fill="#000" fill-opacity="0.5"/>
<circle cx="271.7" cy="344.2" r="1.5" fill="#000" fill-opacity="0.5"/>
<circle cx="275.5" cy="344.3" r="1.5" fill="#000" fill-opacity="0.5"/>
<circle cx="248.7" cy="347.0" r="1.5" fill="#000" fill-opacity="0.5"/>
<circle cx="243.6" cy="344.9" r="1.5" fill="#000" fill-opacity="0.5"/>
<circle cx="244.8" cy="344.9" r="1.5" fill="#000" fill-opacity="0.5"/>
<circle cx="245.5" cy="345.6" r="1.5" fill="#000" fill-opacity="0.5"/>
<circle cx="277.9" cy="344.3" r="1.5" fill="#000" fill-opacity="0.5"/>
<circle cx="273.1" cy="346.1" r="1.5" fill="#000" fill-opacity="0.5"/>
<circle cx="277.2" cy="344.8" r="1.5" fill="#000" fill-opacity="0.5"/>
<circle cx="254.1" cy="345.6" r="1.5" fill="#000" fill-opacity="0.5"/>
<circle cx="254.7" cy="344.8" r="1.5" fill="#000" fill-opacity="0.5"/>
<circle cx="267.0" cy="347.5" r="1.5" fill="#000" fill-opacity="0.5"/>
<circle cx="248.2" cy="346.4" r="1.5" fill="#000" fill-opacity="0.5"/>
<circle cx="272.7" cy="345.2" r="1.5" fill="#000" fill-opacity="0.5"/>
<circle cx="268.0" cy="347.4" r="1.5" fill="#000" fill-opacity="0.5"/>
<circle cx="242.9" cy="344.5" r="1.5" fill="#000" fill-opacity="0.5"/>
<circle cx="275.9" cy="345.1" r="1.5" fill="#000" fill-opacity="0.5"/>
<circle cx="277.2" cy="344.8" r="1.5" fill="#000" fill-opacity="0.5"/>
<circle cx="269.0" cy="344.6" r="1.5" fill="#000" fill-opacity="0.5"/>
<circle cx="278.3" cy="344.4" r="1.5" fill="#000" fill-opacity="0.5"/>
<circle cx="252.8" cy="347.5" r="1.5" fill="#000" fill-opacity="0.5"/>
<circle cx="278.3" cy="344.0" r="1.5" fill="#000" fill-opacity="0.5"/>
<circle cx="248.5" cy="344.7" r="1.5" fill="#000" fill-opacity="0.5"/>
<circle cx="247.4" cy="343.7" r="1.5" fill="#000" fill-opacity="0.5"/>
<circle cx="272.1" cy="345.1" r="1.5" fill="#000" fill-opacity="0.5"/>
<circle cx="255.8" cy="348.9" r="1.5" fill="#000" fill-opacity="0.5"/>
<circle cx="251.4" cy="347.5" r="1.5" fill="#000" fill-opacity="0.5"/>
<circle cx="259.1" cy="349.7" r="1.5" fill="#000" fill-opacity="0.5"/>
<circle cx="251.5" cy="346.6" r="1.5" fill="#000" fill-opacity="0.5"/>
<circle cx="241.6" cy="344.4" r="1.5" fill="#000" fill-opacity="0.5"/>
<circle cx="261.4" cy="349.6" r="1.5" fill="#000" fill-opacity="0.5"/>
<circle cx="246.5" cy="344.8" r="1.5" fill="#000" fill-opacity="0.5"/>
<circle cx="257.3" cy="347.6" r="1.5" fill="#000" fill-opacity="0.5"/>
<circle cx="275.9" cy="344.9" r="1.5" fill="#000" fill-opacity="0.5"/>
<circle cx="247.2" cy="346.1" r="1.5" fill="#000" fill-opacity="0.5"/>
<circle cx="247.0" cy="346.4" r="1.5" fill="#000" fill-opacity="0.5"/>
<circle cx="257.3" cy="348.4" r="1.5" fill="#000" fill-opacity="0.5"/>
<circle cx="251.0" cy="346.7" r="1.5" fill="#000" fill-opacity="0.5"/>
<circle cx="245.5" cy="345.1" r="1.5" fill="#000" fill-opacity="0.5"/>
<circle cx="268.6" cy="347.7" r="1.5" fill="#000" fill-opacity="0.5"/>
<circle cx="274.7" cy="345.6" r="1.5" fill="#000" fill-opacity="0.5"/>
<circle cx="263.0" cy="349.0" r="1.5" fill="#000" fill-opacity="0.5"/>
<circle cx="253.9" cy="345.6" r="1.5" fill="#000" fill-opacity="0.5"/>
<circle cx="243.4" cy="345.0" r="1.5" fill="#000" fill-opacity="0.5"/>
<circle cx="256.8" cy="346.1" r="1.5" fill="#000" fill-opacity="0.5"/>
<circle cx="249.7" cy="345.7" r="1.5" fill="#000" fill-opacity="0.5"/>
<circle cx="259.0" cy="348.3" r="1.5" fill="#000" fill-opacity="0.5"/>
<circle cx="252.8" cy="347.3" r="1.5" fill="#000" fill-opacity="0.5"/>
<circle cx="247.9" cy="345.3" r="1.5" fill="#000" fill-opacity="0.5"/>
<circle cx="244.9" cy="345.6" r="1.5" fill="#000" fill-opacity="0.5"/>
<circle cx="246.2" cy="345.6" r="1.5" fill="#000" fill-opacity="0.5"/>
<circle cx="272.5" cy="346.0" r="1.5" fill="#000" fill-opacity="0.5"/>
<circle cx="249.6" cy="347.1" r="1.5" fill="#000" fill-opacity="0.5"/>
<circle cx="257.7" cy="346.7" r="1.5" fill="#000" fill-opacity="0.5"/>
<circle cx="274.7" cy="344.7" r="1.5" fill="#000" fill-opacity="0.5"/>
<circle cx="258.6" cy="349.8" r="1.5" fill="#000" fill-opacity="0.5"/>
<circle cx="252.6" cy="345.5" r="1.5" fill="#000" fill-opacity="0.5"/>
<circle cx="246.0" cy="344.6" r="1.5" fill="#000" fill-opacity="0.5"/>
<circle cx="266.2" cy="344.6" r="1.5" fill="#000" fill-opacity="0.5"/>
<circle cx="247.0" cy="344.1" r="1.5" fill="#000" fill-opacity="0.5"/>
<circle cx="251.7" cy="344.9" r="1.5" fill="#000" fill-opacity="0.5"/>
<circle cx="259.5" cy="349.9" r="1.5" fill="#000" fill-opacity="0.5"/>
<circle cx="259.8" cy="349.8" r="1.5" fill="#000" fill-opacity="0.5"/>
<circle cx="246.0" cy="344.6" r="1.5" fill="#000" fill-opacity="0.5"/>
<path d="M141.9 53.7L145.9 53.7L143.9 50.1Z" fill="#ff0000" fill-opacity="0.55"/>
<path d="M172.7 53.7L176.7 53.7L174.7 50.1Z" fill="#ff0000" fill-opacity="0.55"/>
<path d="M190.4 53.7L194.4 53.7L192.4 50.1Z" fill="#ff0000" fill-opacity="0.55"/>
<path d="M198.2 53.7L202.2 53.7L200.2 50.1Z" fill="#ff0000" fill-opacity="0.55"/>
<path d="M207.0 53.7L211.0 53.7L209.0 50.1Z" fill="#ff0000" fill-opacity="0.55"/>
<path d="M51.6 53.5L55.6 53.5L53.6 49.9Z" fill="#ff0000" fill-opacity="0.55"/>
<path d="M84.7 53.9L88.7 53.9L86.7 50.3Z" fill="#ff0000" fill-opacity="0.55"/>
<path d="M88.3 53.9L92.3 53.9L90.3 50.3Z" fill="#ff0000" fill-opacity="0.55"/>
<path d="M90.4 53.9L94.4 53.9L92.4 50.3Z" fill="#ff0000" fill-opacity="0.55"/>
<path d="M93.1 53.9L97.1 53.9L95.1 50.3Z" fill="#ff0000" fill-opacity="0.55"/>
<path d="M111.3 53.7L115.3 53.7L113.3 50.1Z" fill="#ff0000" fill-opacity="0.55"/>
<path d="M298.2 53.7L302.2 53.7L300.2 50.1Z" fill="#ff0000" fill-opacity="0.55"/>
<path d="M299.6 53.7L303.6 53.7L301.6 50.1Z" fill="#ff0000" fill-opacity="0.55"/>
<path d="M300.8 53.7L304.8 53.7L302.8 50.1Z" fill="#ff0000" fill-opacity="0.55"/>
<path d="M302.0 53.7L306.0 53.7L304.0 50.1Z" fill="#ff0000" fill-opacity="0.55"/>
<path d="M303.2 53.7L307.2 53.7L305.2 50.1Z" fill="#ff0000" fill-opacity="0.55"/>
<path d="M307.8 53.7L311.8 53.7L309.8 50.1Z" fill="#ff0000" fill-opacity="0.55"/>
<path d="M309.0 53.7L313.0 53.7L311.0 50.1Z" fill="#ff0000" fill-opacity="0.55"/>
<path d="M310.4 53.7L314.4 53.7L312.4 50.1Z" fill="#ff0000" fill-opacity="0.55"/>
<path d="M312.0 53.7L316.0 53.7L314.0 50.1Z" fill="#ff0000" fill-opacity="0.55"/>
<path d="M313.0 53.7L317.0 53.7L315.0 50.1Z" fill="#ff0000" fill-opacity="0.55"/>
<path d="M320.0 53.7L324.0 53.7L322.0 50.1Z" fill="#ff0000" fill-opacity="0.55"/>
<path d="M321.3 53.7L325.3 53.7L323.3 50.1Z" fill="#ff0000" fill-opacity="0.55"/>
<path d="M322.8 53.7L326.8 53.7L324.8 50.1Z" fill="#ff0000" fill-opacity="0.55"/>
<path d="M324.2 53.7L328.2 53.7L326.2 50.1Z" fill="#ff0000" fill-opacity="0.55"/>
<path d="M334.4 53.7L338.4 53.7L336.4 50.1Z" fill="#ff0000" fill-opacity="0.55"/>
<path d="M335.8 53.7L339.8 53.7L337.8 50.1Z" fill="#ff0000" fill-opacity="0.55"/>
<path d="M337.2 53.7L341.2 53.7L339.2 50.1Z" fill="#ff0000" fill-opacity="0.55"/>
<path d="M338.5 53.7L342.5 53.7L340.5 50.1Z" fill="#ff0000" fill-opacity="0.55"/>
<path d="M339.8 53.7L343.8 53.7L341.8 50.1Z" fill="#ff0000" fill-opacity="0.55"/>
<path d="M341.0 53.7L345.0 53.7L343.0 50.1Z" fill="#ff0000" fill-opacity="0.55"/>
<path d="M342.2 53.7L346.2 53.7L344.2 50.1Z" fill="#ff0000" fill-opacity="0.55"/>
</g>
<circle cx="53.5" cy="51.6" r="8.9" stroke="#000" fill="none" stroke-width="1.7"/>
<ellipse cx="89.6" cy="51.6" rx="11.2" ry="8.9" stroke="#000" fill="none" stroke-width="1.7"/>
<circle cx="113.3" cy="52" r="8.8" stroke="#000" fill="none" stroke-width="1.7"/>
<line x1="54.8" y1="86.5" x2="54.8" y2="70.8" stroke="#000" stroke-width="1.8"/><path d="M54.8 61.8L60.0 71.8L49.5 71.8Z" fill="#000"/>
<line x1="101.1" y1="120.6" x2="92.2" y2="71.5" stroke="#000" stroke-width="1.8"/><path d="M90.6 62.6L97.5 71.5L87.2 73.4Z" fill="#000"/>
<line x1="132.2" y1="86.6" x2="121.2" y2="69.5" stroke="#000" stroke-width="1.8"/><path d="M116.4 61.9L126.2 67.5L117.4 73.2Z" fill="#000"/>
<text x="42.6" y="101.8" font-size="15.3" textLength="38.0" lengthAdjust="spacingAndGlyphs" fill="#000" stroke="#000" stroke-width="0.3" style="font-family:&quot;Liberation Sans&quot;,sans-serif;font-weight:bold;font-style:italic">phoP</text>
<text x="117.2" y="102.4" font-size="15.3" textLength="36.8" lengthAdjust="spacingAndGlyphs" fill="#000" stroke="#000" stroke-width="0.3" style="font-family:&quot;Liberation Sans&quot;,sans-serif;font-weight:bold;font-style:italic">ackA</text>
<text x="77.8" y="136.6" font-size="15.3" textLength="68.8" lengthAdjust="spacingAndGlyphs" fill="#000" stroke="#000" stroke-width="0.3" style="font-family:&quot;Liberation Sans&quot;,sans-serif;font-weight:bold;font-style:italic">phnDCEB</text>
<text x="12.0" y="19.6" font-size="27.8" fill="#000" stroke="#000" stroke-width="0.5" style="font-family:&quot;Liberation Sans&quot;,sans-serif;font-weight:bold">A</text>
<text transform="translate(406.7,19.1) scale(0.82,1)" font-size="27.5" fill="#000" stroke="#000" stroke-width="0.5" style="font-family:&quot;Liberation Sans&quot;,sans-serif;font-weight:bold">B</text>
<g shape-rendering="crispEdges" filter="url(#hb)" clip-path="url(#hc)">
<rect x="425.30" y="39.00" width="45.00" height="17.00" fill="#7a1d1d"/>
<rect x="425.30" y="55.70" width="45.00" height="2.90" fill="#5c1515"/>
<rect x="425.30" y="58.30" width="45.00" height="3.80" fill="#7a1e1e"/>
<rect x="425.30" y="61.80" width="45.00" height="5.60" fill="#581414"/>
<rect x="425.30" y="67.10" width="45.00" height="3.50" fill="#701a1a"/>
<rect x="425.30" y="70.30" width="45.00" height="3.30" fill="#3a0c0c"/>
<rect x="425.30" y="73.30" width="45.00" height="2.90" fill="#5a1515"/>
<rect x="425.30" y="75.90" width="45.00" height="2.90" fill="#7c1e1e"/>
<rect x="425.30" y="78.50" width="45.00" height="6.80" fill="#4a1010"/>
<rect x="425.30" y="85.00" width="45.00" height="2.10" fill="#1a0505"/>
<rect x="425.30" y="86.80" width="45.00" height="3.50" fill="#8c2222"/>
<rect x="425.30" y="90.00" width="45.00" height="2.90" fill="#5a1414"/>
<rect x="425.30" y="92.60" width="45.00" height="11.40" fill="#7a1d1d"/>
<rect x="425.30" y="103.70" width="45.00" height="2.80" fill="#1a5e1a"/>
<rect x="425.30" y="106.20" width="45.00" height="3.80" fill="#1e6a1e"/>
<rect x="425.30" y="109.70" width="45.00" height="2.60" fill="#0c2e0c"/>
<rect x="425.30" y="112.00" width="45.00" height="5.90" fill="#1a601a"/>
<rect x="425.30" y="117.60" width="45.00" height="3.80" fill="#1e6e1e"/>
<rect x="425.30" y="121.10" width="45.00" height="7.30" fill="#1a601a"/>
<rect x="425.30" y="128.10" width="45.00" height="6.50" fill="#1c661c"/>
<rect x="425.30" y="134.30" width="45.00" height="8.20" fill="#1e6a1e"/>
<rect x="425.30" y="142.20" width="45.00" height="3.80" fill="#228022"/>
<rect x="425.30" y="145.70" width="45.00" height="14.40" fill="#185418"/>
<rect x="425.30" y="159.80" width="45.00" height="7.30" fill="#1a5e1a"/>
<rect x="425.30" y="166.80" width="45.00" height="7.30" fill="#1e701e"/>
<rect x="425.30" y="173.80" width="45.00" height="2.90" fill="#185418"/>
<rect x="425.30" y="176.40" width="45.00" height="6.50" fill="#1e701e"/>
<rect x="425.30" y="182.60" width="45.00" height="2.90" fill="#1a5e1a"/>
<rect x="425.30" y="185.20" width="45.00" height="6.50" fill="#1a5a1a"/>
<rect x="425.30" y="191.40" width="45.00" height="15.20" fill="#1e701e"/>
<rect x="425.30" y="206.30" width="45.00" height="5.60" fill="#1a5c1a"/>
<rect x="425.30" y="211.60" width="45.00" height="4.70" fill="#1e6a1e"/>
<rect x="425.30" y="216.00" width="45.00" height="6.40" fill="#1c661c"/>
<rect x="425.30" y="222.10" width="45.00" height="3.00" fill="#185418"/>
<rect x="425.30" y="224.80" width="45.00" height="5.50" fill="#1c641c"/>
<rect x="425.30" y="230.00" width="45.00" height="3.80" fill="#1e6e1e"/>
<rect x="425.30" y="233.50" width="45.00" height="4.70" fill="#185218"/>
<rect x="425.30" y="237.90" width="45.00" height="9.10" fill="#1e6a1e"/>
<rect x="425.30" y="246.70" width="45.00" height="2.90" fill="#185418"/>
<rect x="425.30" y="249.30" width="45.00" height="7.40" fill="#1e6a1e"/>
<rect x="425.30" y="256.40" width="45.00" height="9.00" fill="#1a5e1a"/>
<rect x="425.30" y="265.10" width="45.00" height="7.40" fill="#1e6a1e"/>
<rect x="425.30" y="272.20" width="45.00" height="4.70" fill="#1a5a1a"/>
<rect x="425.30" y="276.60" width="45.00" height="6.40" fill="#1e6e1e"/>
<rect x="425.30" y="282.70" width="45.00" height="5.60" fill="#1a601a"/>
<rect x="425.30" y="288.00" width="45.00" height="8.30" fill="#1e701e"/>
<rect x="425.30" y="296.00" width="45.00" height="10.10" fill="#1e6e1e"/>
<rect x="425.30" y="305.80" width="45.00" height="4.70" fill="#1a5e1a"/>
<rect x="425.30" y="310.20" width="45.00" height="3.80" fill="#154c15"/>
<rect x="425.30" y="313.70" width="45.00" height="9.10" fill="#1e6a1e"/>
<rect x="425.30" y="322.50" width="45.00" height="8.20" fill="#1e701e"/>
<rect x="425.30" y="330.40" width="45.00" height="2.90" fill="#185418"/>
<rect x="425.30" y="333.00" width="45.00" height="9.10" fill="#1e6e1e"/>
<rect x="425.30" y="341.80" width="45.00" height="3.00" fill="#144814"/>
<rect x="425.30" y="344.50" width="45.00" height="3.80" fill="#1e701e"/>
<rect x="425.30" y="348.00" width="45.00" height="8.20" fill="#1a601a"/>
<rect x="425.30" y="355.90" width="45.00" height="6.40" fill="#185418"/>
<rect x="470.00" y="39.00" width="45.00" height="17.00" fill="#621818"/>
<rect x="470.00" y="55.70" width="45.00" height="3.30" fill="#8e2424"/>
<rect x="470.00" y="58.70" width="45.00" height="3.40" fill="#6a1a1a"/>
<rect x="470.00" y="61.80" width="45.00" height="3.90" fill="#922626"/>
<rect x="470.00" y="65.40" width="45.00" height="2.90" fill="#7a1e1e"/>
<rect x="470.00" y="68.00" width="45.00" height="4.70" fill="#5c1616"/>
<rect x="470.00" y="72.40" width="45.00" height="3.80" fill="#8a2222"/>
<rect x="470.00" y="75.90" width="45.00" height="3.00" fill="#5a1616"/>
<rect x="470.00" y="78.60" width="45.00" height="8.50" fill="#942727"/>
<rect x="470.00" y="86.80" width="45.00" height="3.10" fill="#0a0202"/>
<rect x="470.00" y="89.60" width="45.00" height="11.20" fill="#6e1a1a"/>
<rect x="470.00" y="100.50" width="45.00" height="3.50" fill="#7a1e1e"/>
<rect x="470.00" y="103.70" width="45.00" height="3.60" fill="#1e6e1e"/>
<rect x="470.00" y="107.00" width="45.00" height="5.60" fill="#228022"/>
<rect x="470.00" y="112.30" width="45.00" height="2.90" fill="#185418"/>
<rect x="470.00" y="114.90" width="45.00" height="4.70" fill="#2a8e2a"/>
<rect x="470.00" y="119.30" width="45.00" height="3.00" fill="#1e701e"/>
<rect x="470.00" y="122.00" width="45.00" height="7.30" fill="#1a601a"/>
<rect x="470.00" y="129.00" width="45.00" height="5.60" fill="#1e6e1e"/>
<rect x="470.00" y="134.30" width="45.00" height="5.50" fill="#1a5e1a"/>
<rect x="470.00" y="139.50" width="45.00" height="4.70" fill="#1e6a1e"/>
<rect x="470.00" y="143.90" width="45.00" height="10.00" fill="#1c641c"/>
<rect x="470.00" y="153.60" width="45.00" height="3.80" fill="#228022"/>
<rect x="470.00" y="157.10" width="45.00" height="3.80" fill="#1a5a1a"/>
<rect x="470.00" y="160.60" width="45.00" height="6.50" fill="#1e6e1e"/>
<rect x="470.00" y="166.80" width="45.00" height="4.70" fill="#1e741e"/>
<rect x="470.00" y="171.20" width="45.00" height="5.50" fill="#1a621a"/>
<rect x="470.00" y="176.40" width="45.00" height="6.50" fill="#144a14"/>
<rect x="470.00" y="182.60" width="45.00" height="3.80" fill="#1e701e"/>
<rect x="470.00" y="186.10" width="45.00" height="7.30" fill="#228022"/>
<rect x="470.00" y="193.10" width="45.00" height="10.90" fill="#1a601a"/>
<rect x="470.00" y="203.70" width="45.00" height="4.60" fill="#1e6e1e"/>
<rect x="470.00" y="208.00" width="45.00" height="3.00" fill="#185418"/>
<rect x="470.00" y="210.70" width="45.00" height="7.30" fill="#1e721e"/>
<rect x="470.00" y="217.70" width="45.00" height="4.70" fill="#1a621a"/>
<rect x="470.00" y="222.10" width="45.00" height="8.20" fill="#1e741e"/>
<rect x="470.00" y="230.00" width="45.00" height="2.90" fill="#1a5a1a"/>
<rect x="470.00" y="232.60" width="45.00" height="7.40" fill="#1e721e"/>
<rect x="470.00" y="239.70" width="45.00" height="4.70" fill="#2a8c2a"/>
<rect x="470.00" y="244.10" width="45.00" height="2.90" fill="#1a621a"/>
<rect x="470.00" y="246.70" width="45.00" height="2.90" fill="#228022"/>
<rect x="470.00" y="249.30" width="45.00" height="3.80" fill="#1a601a"/>
<rect x="470.00" y="252.80" width="45.00" height="21.40" fill="#1c661c"/>
<rect x="470.00" y="273.90" width="45.00" height="9.10" fill="#1e6e1e"/>
<rect x="470.00" y="282.70" width="45.00" height="5.60" fill="#1a601a"/>
<rect x="470.00" y="288.00" width="45.00" height="3.80" fill="#144814"/>
<rect x="470.00" y="291.50" width="45.00" height="4.80" fill="#1e6e1e"/>
<rect x="470.00" y="296.00" width="45.00" height="3.90" fill="#1a5e1a"/>
<rect x="470.00" y="299.60" width="45.00" height="3.90" fill="#228022"/>
<rect x="470.00" y="303.20" width="45.00" height="11.70" fill="#1a601a"/>
<rect x="470.00" y="314.60" width="45.00" height="2.90" fill="#185418"/>
<rect x="470.00" y="317.20" width="45.00" height="12.60" fill="#1e761e"/>
<rect x="470.00" y="329.50" width="45.00" height="11.70" fill="#1a601a"/>
<rect x="470.00" y="340.90" width="45.00" height="9.10" fill="#1a5e1a"/>
<rect x="470.00" y="349.70" width="45.00" height="5.60" fill="#1c641c"/>
<rect x="470.00" y="355.00" width="45.00" height="7.30" fill="#1e6e1e"/>
<rect x="514.70" y="39.00" width="45.00" height="19.60" fill="#721c1c"/>
<rect x="514.70" y="58.30" width="45.00" height="3.80" fill="#8a2222"/>
<rect x="514.70" y="61.80" width="45.00" height="3.90" fill="#6a1a1a"/>
<rect x="514.70" y="65.40" width="45.00" height="4.70" fill="#842020"/>
<rect x="514.70" y="69.80" width="45.00" height="3.80" fill="#9a2828"/>
<rect x="514.70" y="73.30" width="45.00" height="2.90" fill="#761c1c"/>
<rect x="514.70" y="75.90" width="45.00" height="2.90" fill="#842020"/>
<rect x="514.70" y="78.50" width="45.00" height="5.60" fill="#5e1616"/>
<rect x="514.70" y="83.80" width="45.00" height="20.20" fill="#862121"/>
<rect x="514.70" y="103.70" width="45.00" height="4.50" fill="#1e6a1e"/>
<rect x="514.70" y="107.90" width="45.00" height="7.30" fill="#1e741e"/>
<rect x="514.70" y="114.90" width="45.00" height="3.00" fill="#185418"/>
<rect x="514.70" y="117.60" width="45.00" height="4.70" fill="#1e6e1e"/>
<rect x="514.70" y="122.00" width="45.00" height="7.30" fill="#228422"/>
<rect x="514.70" y="129.00" width="45.00" height="2.90" fill="#1a621a"/>
<rect x="514.70" y="131.60" width="45.00" height="4.70" fill="#228022"/>
<rect x="514.70" y="136.00" width="45.00" height="3.80" fill="#1e721e"/>
<rect x="514.70" y="139.50" width="45.00" height="3.80" fill="#1a5e1a"/>
<rect x="514.70" y="143.00" width="45.00" height="10.90" fill="#228022"/>
<rect x="514.70" y="153.60" width="45.00" height="3.80" fill="#1a5a1a"/>
<rect x="514.70" y="157.10" width="45.00" height="8.20" fill="#228422"/>
<rect x="514.70" y="165.00" width="45.00" height="5.60" fill="#1e6a1e"/>
<rect x="514.70" y="170.30" width="45.00" height="3.80" fill="#1c661c"/>
<rect x="514.70" y="173.80" width="45.00" height="9.10" fill="#228222"/>
<rect x="514.70" y="182.60" width="45.00" height="2.90" fill="#185418"/>
<rect x="514.70" y="185.20" width="45.00" height="17.00" fill="#1e761e"/>
<rect x="514.70" y="201.90" width="45.00" height="3.80" fill="#228022"/>
<rect x="514.70" y="205.40" width="45.00" height="2.10" fill="#1a5a1a"/>
<rect x="514.70" y="207.20" width="45.00" height="9.10" fill="#248624"/>
<rect x="514.70" y="216.00" width="45.00" height="4.70" fill="#1a5e1a"/>
<rect x="514.70" y="220.40" width="45.00" height="9.90" fill="#228022"/>
<rect x="514.70" y="230.00" width="45.00" height="4.70" fill="#228022"/>
<rect x="514.70" y="234.40" width="45.00" height="9.10" fill="#1a621a"/>
<rect x="514.70" y="243.20" width="45.00" height="9.90" fill="#1e761e"/>
<rect x="514.70" y="252.80" width="45.00" height="3.00" fill="#1a621a"/>
<rect x="514.70" y="255.50" width="45.00" height="14.30" fill="#228022"/>
<rect x="514.70" y="269.50" width="45.00" height="3.90" fill="#248624"/>
<rect x="514.70" y="273.10" width="45.00" height="9.90" fill="#1e701e"/>
<rect x="514.70" y="282.70" width="45.00" height="13.60" fill="#228022"/>
<rect x="514.70" y="296.00" width="45.00" height="9.20" fill="#1c661c"/>
<rect x="514.70" y="304.90" width="45.00" height="10.00" fill="#248624"/>
<rect x="514.70" y="314.60" width="45.00" height="5.50" fill="#185418"/>
<rect x="514.70" y="319.80" width="45.00" height="12.60" fill="#1a601a"/>
<rect x="514.70" y="332.10" width="45.00" height="6.50" fill="#1a5e1a"/>
<rect x="514.70" y="338.30" width="45.00" height="2.90" fill="#124012"/>
<rect x="514.70" y="340.90" width="45.00" height="14.40" fill="#228022"/>
<rect x="514.70" y="355.00" width="45.00" height="7.30" fill="#1e701e"/>
<rect x="559.40" y="39.00" width="45.00" height="17.00" fill="#1e6e1e"/>
<rect x="559.40" y="55.70" width="45.00" height="3.80" fill="#185818"/>
<rect x="559.40" y="59.20" width="45.00" height="2.90" fill="#1e701e"/>
<rect x="559.40" y="61.80" width="45.00" height="3.90" fill="#2a8a2a"/>
<rect x="559.40" y="65.40" width="45.00" height="8.20" fill="#1f741f"/>
<rect x="559.40" y="73.30" width="45.00" height="2.90" fill="#1a661a"/>
<rect x="559.40" y="75.90" width="45.00" height="2.90" fill="#228022"/>
<rect x="559.40" y="78.50" width="45.00" height="3.80" fill="#268626"/>
<rect x="559.40" y="82.00" width="45.00" height="2.60" fill="#104010"/>
<rect x="559.40" y="84.30" width="45.00" height="3.30" fill="#2a8c2a"/>
<rect x="559.40" y="87.30" width="45.00" height="3.00" fill="#1a621a"/>
<rect x="559.40" y="90.00" width="45.00" height="7.30" fill="#185a18"/>
<rect x="559.40" y="97.00" width="45.00" height="4.70" fill="#2a8c2a"/>
<rect x="559.40" y="101.40" width="45.00" height="2.60" fill="#185818"/>
<rect x="559.40" y="103.70" width="45.00" height="3.30" fill="#380b0b"/>
<rect x="559.40" y="106.70" width="45.00" height="5.00" fill="#801f1f"/>
<rect x="559.40" y="111.40" width="45.00" height="3.80" fill="#ab2c2c"/>
<rect x="559.40" y="114.90" width="45.00" height="3.90" fill="#872323"/>
<rect x="559.40" y="118.50" width="45.00" height="2.90" fill="#661717"/>
<rect x="559.40" y="121.10" width="45.00" height="3.80" fill="#b23030"/>
<rect x="559.40" y="124.60" width="45.00" height="7.30" fill="#842121"/>
<rect x="559.40" y="131.60" width="45.00" height="3.00" fill="#571313"/>
<rect x="559.40" y="134.30" width="45.00" height="5.50" fill="#8f2525"/>
<rect x="559.40" y="139.50" width="45.00" height="3.80" fill="#b23030"/>
<rect x="559.40" y="143.00" width="45.00" height="8.30" fill="#801f1f"/>
<rect x="559.40" y="151.00" width="45.00" height="7.30" fill="#5b1515"/>
<rect x="559.40" y="158.00" width="45.00" height="7.30" fill="#7a1d1d"/>
<rect x="559.40" y="165.00" width="45.00" height="3.80" fill="#ab2c2c"/>
<rect x="559.40" y="168.50" width="45.00" height="3.00" fill="#761d1d"/>
<rect x="559.40" y="171.20" width="45.00" height="5.50" fill="#8f2525"/>
<rect x="559.40" y="176.40" width="45.00" height="6.50" fill="#b23030"/>
<rect x="559.40" y="182.60" width="45.00" height="2.90" fill="#571313"/>
<rect x="559.40" y="185.20" width="45.00" height="4.70" fill="#7a1d1d"/>
<rect x="559.40" y="189.60" width="45.00" height="6.50" fill="#842121"/>
<rect x="559.40" y="195.80" width="45.00" height="6.40" fill="#761d1d"/>
<rect x="559.40" y="201.90" width="45.00" height="4.70" fill="#5b1515"/>
<rect x="559.40" y="206.30" width="45.00" height="4.70" fill="#a32a2a"/>
<rect x="559.40" y="210.70" width="45.00" height="5.60" fill="#8f2525"/>
<rect x="559.40" y="216.00" width="45.00" height="3.80" fill="#571313"/>
<rect x="559.40" y="219.50" width="45.00" height="5.60" fill="#8f2525"/>
<rect x="559.40" y="224.80" width="45.00" height="5.50" fill="#470f0f"/>
<rect x="559.40" y="230.00" width="45.00" height="3.80" fill="#761d1d"/>
<rect x="559.40" y="233.50" width="45.00" height="8.20" fill="#ab2c2c"/>
<rect x="559.40" y="241.40" width="45.00" height="6.50" fill="#801f1f"/>
<rect x="559.40" y="247.60" width="45.00" height="7.30" fill="#3c0b0b"/>
<rect x="559.40" y="254.60" width="45.00" height="4.70" fill="#842121"/>
<rect x="559.40" y="259.00" width="45.00" height="8.20" fill="#6a1919"/>
<rect x="559.40" y="266.90" width="45.00" height="4.70" fill="#801f1f"/>
<rect x="559.40" y="271.30" width="45.00" height="3.80" fill="#b23030"/>
<rect x="559.40" y="274.80" width="45.00" height="3.00" fill="#571313"/>
<rect x="559.40" y="277.50" width="45.00" height="7.30" fill="#801f1f"/>
<rect x="559.40" y="284.50" width="45.00" height="3.80" fill="#661717"/>
<rect x="559.40" y="288.00" width="45.00" height="8.30" fill="#842121"/>
<rect x="559.40" y="296.00" width="45.00" height="4.80" fill="#b23030"/>
<rect x="559.40" y="300.50" width="45.00" height="3.80" fill="#571313"/>
<rect x="559.40" y="304.00" width="45.00" height="3.80" fill="#801f1f"/>
<rect x="559.40" y="307.50" width="45.00" height="6.50" fill="#661717"/>
<rect x="559.40" y="313.70" width="45.00" height="3.80" fill="#b23030"/>
<rect x="559.40" y="317.20" width="45.00" height="11.70" fill="#761d1d"/>
<rect x="559.40" y="328.60" width="45.00" height="4.70" fill="#842121"/>
<rect x="559.40" y="333.00" width="45.00" height="3.00" fill="#380b0b"/>
<rect x="559.40" y="335.70" width="45.00" height="3.80" fill="#ab2c2c"/>
<rect x="559.40" y="339.20" width="45.00" height="2.90" fill="#470f0f"/>
<rect x="559.40" y="341.80" width="45.00" height="6.50" fill="#8f2525"/>
<rect x="559.40" y="348.00" width="45.00" height="4.70" fill="#661717"/>
<rect x="559.40" y="352.40" width="45.00" height="4.70" fill="#b23030"/>
<rect x="559.40" y="356.80" width="45.00" height="5.50" fill="#7a1d1d"/>
<rect x="604.10" y="39.00" width="45.00" height="5.60" fill="#1e6e1e"/>
<rect x="604.10" y="44.30" width="45.00" height="17.00" fill="#1e721e"/>
<rect x="604.10" y="61.00" width="45.00" height="7.30" fill="#1a661a"/>
<rect x="604.10" y="68.00" width="45.00" height="2.90" fill="#1e721e"/>
<rect x="604.10" y="70.60" width="45.00" height="3.00" fill="#185c18"/>
<rect x="604.10" y="73.30" width="45.00" height="3.80" fill="#228022"/>
<rect x="604.10" y="76.80" width="45.00" height="2.90" fill="#1c6c1c"/>
<rect x="604.10" y="79.40" width="45.00" height="4.70" fill="#1e721e"/>
<rect x="604.10" y="83.80" width="45.00" height="6.50" fill="#185218"/>
<rect x="604.10" y="90.00" width="45.00" height="3.80" fill="#228022"/>
<rect x="604.10" y="93.50" width="45.00" height="10.50" fill="#1e721e"/>
<rect x="604.10" y="103.70" width="45.00" height="3.60" fill="#c03434"/>
<rect x="604.10" y="107.00" width="45.00" height="3.00" fill="#6a1818"/>
<rect x="604.10" y="109.70" width="45.00" height="5.50" fill="#240808"/>
<rect x="604.10" y="114.90" width="45.00" height="6.10" fill="#7a1e1e"/>
<rect x="604.10" y="120.70" width="45.00" height="4.20" fill="#3a0c0c"/>
<rect x="604.10" y="124.60" width="45.00" height="4.70" fill="#5a1414"/>
<rect x="604.10" y="129.00" width="45.00" height="8.20" fill="#6e1a1a"/>
<rect x="604.10" y="136.90" width="45.00" height="5.60" fill="#2a0808"/>
<rect x="604.10" y="142.20" width="45.00" height="9.10" fill="#4a1010"/>
<rect x="604.10" y="151.00" width="45.00" height="6.40" fill="#8a2222"/>
<rect x="604.10" y="157.10" width="45.00" height="3.80" fill="#5a1414"/>
<rect x="604.10" y="160.60" width="45.00" height="4.70" fill="#3a0c0c"/>
<rect x="604.10" y="165.00" width="45.00" height="2.90" fill="#2a0808"/>
<rect x="604.10" y="167.60" width="45.00" height="3.90" fill="#6a1818"/>
<rect x="604.10" y="171.20" width="45.00" height="11.70" fill="#3a0c0c"/>
<rect x="604.10" y="182.60" width="45.00" height="3.80" fill="#7a1e1e"/>
<rect x="604.10" y="186.10" width="45.00" height="13.50" fill="#4e1212"/>
<rect x="604.10" y="199.30" width="45.00" height="5.50" fill="#6a1818"/>
<rect x="604.10" y="204.50" width="45.00" height="4.70" fill="#2a0808"/>
<rect x="604.10" y="208.90" width="45.00" height="14.40" fill="#4a1010"/>
<rect x="604.10" y="223.00" width="45.00" height="3.80" fill="#2e0a0a"/>
<rect x="604.10" y="226.50" width="45.00" height="3.80" fill="#6a1818"/>
<rect x="604.10" y="230.00" width="45.00" height="2.90" fill="#3a0c0c"/>
<rect x="604.10" y="232.60" width="45.00" height="5.60" fill="#6a1818"/>
<rect x="604.10" y="237.90" width="45.00" height="2.90" fill="#2a0808"/>
<rect x="604.10" y="240.50" width="45.00" height="9.10" fill="#5a1414"/>
<rect x="604.10" y="249.30" width="45.00" height="5.60" fill="#4a1010"/>
<rect x="604.10" y="254.60" width="45.00" height="7.30" fill="#5a1414"/>
<rect x="604.10" y="261.60" width="45.00" height="12.60" fill="#4a1010"/>
<rect x="604.10" y="273.90" width="45.00" height="7.40" fill="#6a1818"/>
<rect x="604.10" y="281.00" width="45.00" height="7.30" fill="#4a1010"/>
<rect x="604.10" y="288.00" width="45.00" height="3.80" fill="#2a0808"/>
<rect x="604.10" y="291.50" width="45.00" height="4.80" fill="#4a1010"/>
<rect x="604.10" y="296.00" width="45.00" height="3.90" fill="#3a0c0c"/>
<rect x="604.10" y="299.60" width="45.00" height="5.60" fill="#8a2222"/>
<rect x="604.10" y="304.90" width="45.00" height="2.90" fill="#3a0c0c"/>
<rect x="604.10" y="307.50" width="45.00" height="6.50" fill="#6a1818"/>
<rect x="604.10" y="313.70" width="45.00" height="3.80" fill="#3a0c0c"/>
<rect x="604.10" y="317.20" width="45.00" height="2.90" fill="#7a1e1e"/>
<rect x="604.10" y="319.80" width="45.00" height="10.90" fill="#4a1010"/>
<rect x="604.10" y="330.40" width="45.00" height="6.40" fill="#8a2222"/>
<rect x="604.10" y="336.50" width="45.00" height="4.70" fill="#5a1414"/>
<rect x="604.10" y="340.90" width="45.00" height="9.10" fill="#3a0c0c"/>
<rect x="604.10" y="349.70" width="45.00" height="5.60" fill="#4a1010"/>
<rect x="604.10" y="355.00" width="45.00" height="7.30" fill="#3a0c0c"/>
<rect x="648.80" y="39.00" width="45.00" height="22.30" fill="#1e701e"/>
<rect x="648.80" y="61.00" width="45.00" height="3.80" fill="#1a5e1a"/>
<rect x="648.80" y="64.50" width="45.00" height="3.80" fill="#1e701e"/>
<rect x="648.80" y="68.00" width="45.00" height="4.70" fill="#185a18"/>
<rect x="648.80" y="72.40" width="45.00" height="4.70" fill="#1e721e"/>
<rect x="648.80" y="76.80" width="45.00" height="5.50" fill="#1a601a"/>
<rect x="648.80" y="82.00" width="45.00" height="3.30" fill="#2a8c2a"/>
<rect x="648.80" y="85.00" width="45.00" height="2.10" fill="#0e360e"/>
<rect x="648.80" y="86.80" width="45.00" height="11.40" fill="#228022"/>
<rect x="648.80" y="97.90" width="45.00" height="2.90" fill="#0e3a0e"/>
<rect x="648.80" y="100.50" width="45.00" height="3.50" fill="#1a5e1a"/>
<rect x="648.80" y="103.70" width="45.00" height="3.60" fill="#470f0f"/>
<rect x="648.80" y="107.00" width="45.00" height="5.60" fill="#761d1d"/>
<rect x="648.80" y="112.30" width="45.00" height="5.60" fill="#2c0909"/>
<rect x="648.80" y="117.60" width="45.00" height="3.80" fill="#661717"/>
<rect x="648.80" y="121.10" width="45.00" height="2.90" fill="#380b0b"/>
<rect x="648.80" y="123.70" width="45.00" height="8.20" fill="#801f1f"/>
<rect x="648.80" y="131.60" width="45.00" height="3.80" fill="#922525"/>
<rect x="648.80" y="135.10" width="45.00" height="3.00" fill="#571313"/>
<rect x="648.80" y="137.80" width="45.00" height="2.90" fill="#801f1f"/>
<rect x="648.80" y="140.40" width="45.00" height="2.90" fill="#380b0b"/>
<rect x="648.80" y="143.00" width="45.00" height="13.50" fill="#7a1d1d"/>
<rect x="648.80" y="156.20" width="45.00" height="9.10" fill="#8f2323"/>
<rect x="648.80" y="165.00" width="45.00" height="3.80" fill="#470f0f"/>
<rect x="648.80" y="168.50" width="45.00" height="5.60" fill="#661717"/>
<rect x="648.80" y="173.80" width="45.00" height="3.80" fill="#8f2525"/>
<rect x="648.80" y="177.30" width="45.00" height="5.60" fill="#380b0b"/>
<rect x="648.80" y="182.60" width="45.00" height="8.20" fill="#801f1f"/>
<rect x="648.80" y="190.50" width="45.00" height="5.60" fill="#661717"/>
<rect x="648.80" y="195.80" width="45.00" height="8.20" fill="#801f1f"/>
<rect x="648.80" y="203.70" width="45.00" height="5.50" fill="#ab2c2c"/>
<rect x="648.80" y="208.90" width="45.00" height="4.70" fill="#5b1515"/>
<rect x="648.80" y="213.30" width="45.00" height="6.50" fill="#8f2525"/>
<rect x="648.80" y="219.50" width="45.00" height="3.80" fill="#661717"/>
<rect x="648.80" y="223.00" width="45.00" height="7.30" fill="#8f2525"/>
<rect x="648.80" y="230.00" width="45.00" height="4.70" fill="#801f1f"/>
<rect x="648.80" y="234.40" width="45.00" height="6.40" fill="#380b0b"/>
<rect x="648.80" y="240.50" width="45.00" height="7.40" fill="#801f1f"/>
<rect x="648.80" y="247.60" width="45.00" height="7.30" fill="#a32a2a"/>
<rect x="648.80" y="254.60" width="45.00" height="10.80" fill="#801f1f"/>
<rect x="648.80" y="265.10" width="45.00" height="4.70" fill="#5b1515"/>
<rect x="648.80" y="269.50" width="45.00" height="3.00" fill="#8f2525"/>
<rect x="648.80" y="272.20" width="45.00" height="2.90" fill="#380b0b"/>
<rect x="648.80" y="274.80" width="45.00" height="8.20" fill="#801f1f"/>
<rect x="648.80" y="282.70" width="45.00" height="13.60" fill="#852121"/>
<rect x="648.80" y="296.00" width="45.00" height="4.80" fill="#280707"/>
<rect x="648.80" y="300.50" width="45.00" height="4.70" fill="#661717"/>
<rect x="648.80" y="304.90" width="45.00" height="9.10" fill="#8f2525"/>
<rect x="648.80" y="313.70" width="45.00" height="2.90" fill="#380b0b"/>
<rect x="648.80" y="316.30" width="45.00" height="13.50" fill="#8f2525"/>
<rect x="648.80" y="329.50" width="45.00" height="2.90" fill="#571313"/>
<rect x="648.80" y="332.10" width="45.00" height="3.90" fill="#a32a2a"/>
<rect x="648.80" y="335.70" width="45.00" height="2.90" fill="#470f0f"/>
<rect x="648.80" y="338.30" width="45.00" height="9.10" fill="#9c2727"/>
<rect x="648.80" y="347.10" width="45.00" height="6.40" fill="#8f2525"/>
<rect x="648.80" y="353.20" width="45.00" height="3.00" fill="#380b0b"/>
<rect x="648.80" y="355.90" width="45.00" height="6.40" fill="#8f2323"/>
</g>
<rect x="425.3" y="38.8" width="268.9" height="322.6" fill="none" stroke="#000" stroke-width="1.2"/>
<line x1="425.8" y1="374.6" x2="558" y2="374.6" stroke="#3a6cc9" stroke-width="2.2"/>
<line x1="560.7" y1="374.6" x2="694.3" y2="374.6" stroke="#3a6cc9" stroke-width="2.2"/>
<text x="493" y="394.1" font-size="12" fill="#000" text-anchor="middle" style="font-family:&quot;Liberation Sans&quot;,sans-serif;font-weight:bold">wild type</text>
<text x="627.2" y="394.1" font-size="12" fill="#000" text-anchor="middle" style="font-family:&quot;Liberation Sans&quot;,sans-serif;font-weight:bold"><tspan font-weight="normal">Δ</tspan><tspan font-style="italic">phoP</tspan></text>
<rect x="715.1" y="39.4" width="20.6" height="120.2" fill="url(#lg)" stroke="#000" stroke-width="1.8"/>
<line x1="711.2" y1="49.8" x2="715" y2="49.8" stroke="#000" stroke-width="1.6"/>
<line x1="735.8" y1="49.8" x2="738.8" y2="49.8" stroke="#000" stroke-width="1.6"/>
<text x="747.3" y="54.7" font-size="12" fill="#000" style="font-family:&quot;Liberation Sans&quot;,sans-serif">1.5</text>
<line x1="711.2" y1="66.5" x2="715" y2="66.5" stroke="#000" stroke-width="1.6"/>
<line x1="735.8" y1="66.5" x2="738.8" y2="66.5" stroke="#000" stroke-width="1.6"/>
<text x="747.3" y="71.4" font-size="12" fill="#000" style="font-family:&quot;Liberation Sans&quot;,sans-serif">1.0</text>
<line x1="711.2" y1="83.2" x2="715" y2="83.2" stroke="#000" stroke-width="1.6"/>
<line x1="735.8" y1="83.2" x2="738.8" y2="83.2" stroke="#000" stroke-width="1.6"/>
<text x="747.3" y="88.1" font-size="12" fill="#000" style="font-family:&quot;Liberation Sans&quot;,sans-serif">0.5</text>
<line x1="711.2" y1="99.8" x2="715" y2="99.8" stroke="#000" stroke-width="1.6"/>
<line x1="735.8" y1="99.8" x2="738.8" y2="99.8" stroke="#000" stroke-width="1.6"/>
<text x="747.3" y="104.7" font-size="12" fill="#000" style="font-family:&quot;Liberation Sans&quot;,sans-serif">0</text>
<line x1="711.2" y1="116.5" x2="715" y2="116.5" stroke="#000" stroke-width="1.6"/>
<line x1="735.8" y1="116.5" x2="738.8" y2="116.5" stroke="#000" stroke-width="1.6"/>
<text x="746.9" y="121.4" font-size="12" fill="#000" style="font-family:&quot;Liberation Sans&quot;,sans-serif">-0.5</text>
<line x1="711.2" y1="133.2" x2="715" y2="133.2" stroke="#000" stroke-width="1.6"/>
<line x1="735.8" y1="133.2" x2="738.8" y2="133.2" stroke="#000" stroke-width="1.6"/>
<text x="746.9" y="138.1" font-size="12" fill="#000" style="font-family:&quot;Liberation Sans&quot;,sans-serif">-1.0</text>
<line x1="711.2" y1="149.9" x2="715" y2="149.9" stroke="#000" stroke-width="1.6"/>
<line x1="735.8" y1="149.9" x2="738.8" y2="149.9" stroke="#000" stroke-width="1.6"/>
<text x="746.9" y="154.8" font-size="12" fill="#000" style="font-family:&quot;Liberation Sans&quot;,sans-serif">-1.5</text>
</svg></body></html>
